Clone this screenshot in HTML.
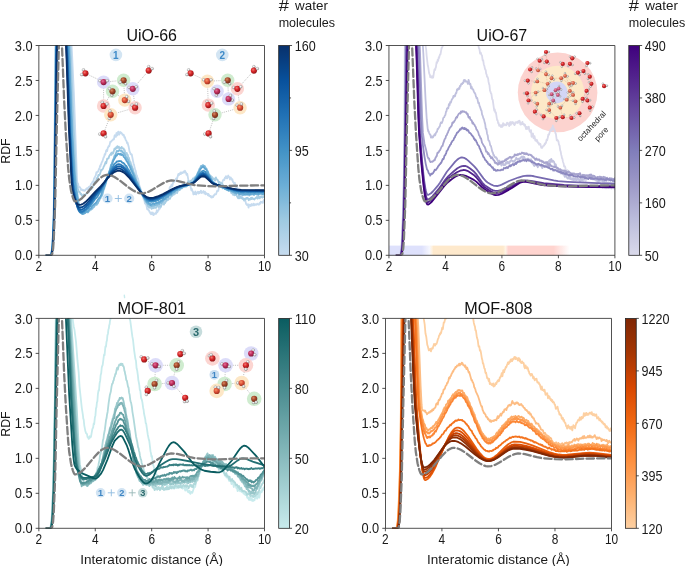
<!DOCTYPE html><html><head><meta charset="utf-8"><style>html,body{margin:0;padding:0;background:#fff;overflow:hidden;width:685px;height:566px;}svg{display:block;will-change:transform;}text{font-family:"Liberation Sans", sans-serif;}</style></head><body>
<svg width="685" height="566" viewBox="0 0 685 566">
<defs><radialGradient id="oR" cx="0.38" cy="0.35" r="0.7"><stop offset="0" stop-color="#f27a70"/><stop offset="0.45" stop-color="#d8262a"/><stop offset="1" stop-color="#8a1414"/></radialGradient><radialGradient id="oP" cx="0.38" cy="0.35" r="0.7"><stop offset="0" stop-color="#e3729a"/><stop offset="0.45" stop-color="#c2305e"/><stop offset="1" stop-color="#7a1a3a"/></radialGradient><radialGradient id="oG" cx="0.38" cy="0.35" r="0.7"><stop offset="0" stop-color="#d88a62"/><stop offset="0.45" stop-color="#a84a2c"/><stop offset="1" stop-color="#6a2a18"/></radialGradient><radialGradient id="oO" cx="0.38" cy="0.35" r="0.7"><stop offset="0" stop-color="#f7966a"/><stop offset="0.45" stop-color="#e0543a"/><stop offset="1" stop-color="#9a2c1c"/></radialGradient><radialGradient id="oI" cx="0.38" cy="0.35" r="0.7"><stop offset="0" stop-color="#f4a08a"/><stop offset="0.45" stop-color="#e26a50"/><stop offset="1" stop-color="#a8402c"/></radialGradient><radialGradient id="oC" cx="0.38" cy="0.35" r="0.7"><stop offset="0" stop-color="#e890b0"/><stop offset="0.45" stop-color="#d0587a"/><stop offset="1" stop-color="#8c3050"/></radialGradient><radialGradient id="hW" cx="0.38" cy="0.35" r="0.7"><stop offset="0" stop-color="#ffffff"/><stop offset="0.45" stop-color="#e4e4e4"/><stop offset="1" stop-color="#8c8c8c"/></radialGradient><clipPath id="c0"><rect x="38.85" y="45.50" width="225.65" height="209.80"/></clipPath><linearGradient id="g0" x1="0" y1="0" x2="0" y2="1"><stop offset="0.0000" stop-color="#08306b"/><stop offset="0.0333" stop-color="#083775"/><stop offset="0.0667" stop-color="#083d7f"/><stop offset="0.1000" stop-color="#084488"/><stop offset="0.1333" stop-color="#084a92"/><stop offset="0.1667" stop-color="#08519c"/><stop offset="0.2000" stop-color="#0d57a1"/><stop offset="0.2333" stop-color="#125ea6"/><stop offset="0.2667" stop-color="#1764ab"/><stop offset="0.3000" stop-color="#1c6bb0"/><stop offset="0.3333" stop-color="#2171b5"/><stop offset="0.3667" stop-color="#2878b8"/><stop offset="0.4000" stop-color="#2e7ebc"/><stop offset="0.4333" stop-color="#3585bf"/><stop offset="0.4667" stop-color="#3b8bc3"/><stop offset="0.5000" stop-color="#4292c6"/><stop offset="0.5333" stop-color="#4a98c9"/><stop offset="0.5667" stop-color="#529dcc"/><stop offset="0.6000" stop-color="#5ba3d0"/><stop offset="0.6333" stop-color="#63a8d3"/><stop offset="0.6667" stop-color="#6baed6"/><stop offset="0.7000" stop-color="#75b4d8"/><stop offset="0.7333" stop-color="#7fb9da"/><stop offset="0.7667" stop-color="#8abfdd"/><stop offset="0.8000" stop-color="#94c4df"/><stop offset="0.8333" stop-color="#9ecae1"/><stop offset="0.8667" stop-color="#a6cde4"/><stop offset="0.9000" stop-color="#aed1e7"/><stop offset="0.9333" stop-color="#b6d4e9"/><stop offset="0.9667" stop-color="#bed8ec"/><stop offset="1.0000" stop-color="#c6dbef"/></linearGradient><clipPath id="c1"><rect x="388.95" y="45.50" width="225.95" height="209.80"/></clipPath><linearGradient id="g1" x1="0" y1="0" x2="0" y2="1"><stop offset="0.0000" stop-color="#3f007d"/><stop offset="0.0333" stop-color="#430881"/><stop offset="0.0667" stop-color="#471084"/><stop offset="0.1000" stop-color="#4c1788"/><stop offset="0.1333" stop-color="#501f8b"/><stop offset="0.1667" stop-color="#54278f"/><stop offset="0.2000" stop-color="#582f93"/><stop offset="0.2333" stop-color="#5d3897"/><stop offset="0.2667" stop-color="#61409b"/><stop offset="0.3000" stop-color="#66499f"/><stop offset="0.3333" stop-color="#6a51a3"/><stop offset="0.3667" stop-color="#6e5aa8"/><stop offset="0.4000" stop-color="#7363ac"/><stop offset="0.4333" stop-color="#776bb1"/><stop offset="0.4667" stop-color="#7c74b5"/><stop offset="0.5000" stop-color="#807dba"/><stop offset="0.5333" stop-color="#8683bd"/><stop offset="0.5667" stop-color="#8c89c0"/><stop offset="0.6000" stop-color="#928ec2"/><stop offset="0.6333" stop-color="#9894c5"/><stop offset="0.6667" stop-color="#9e9ac8"/><stop offset="0.7000" stop-color="#a4a1cc"/><stop offset="0.7333" stop-color="#aaa8d0"/><stop offset="0.7667" stop-color="#b0afd4"/><stop offset="0.8000" stop-color="#b6b6d8"/><stop offset="0.8333" stop-color="#bcbddc"/><stop offset="0.8667" stop-color="#c2c3df"/><stop offset="0.9000" stop-color="#c8c9e2"/><stop offset="0.9333" stop-color="#cecee5"/><stop offset="0.9667" stop-color="#d4d4e8"/><stop offset="1.0000" stop-color="#dadaeb"/></linearGradient><clipPath id="c2"><rect x="38.85" y="318.40" width="225.65" height="209.90"/></clipPath><linearGradient id="g2" x1="0" y1="0" x2="0" y2="1"><stop offset="0.0000" stop-color="#0a5c60"/><stop offset="0.0333" stop-color="#106165"/><stop offset="0.0667" stop-color="#176669"/><stop offset="0.1000" stop-color="#1d6a6e"/><stop offset="0.1333" stop-color="#236f73"/><stop offset="0.1667" stop-color="#2a7478"/><stop offset="0.2000" stop-color="#30797c"/><stop offset="0.2333" stop-color="#367d81"/><stop offset="0.2667" stop-color="#3d8286"/><stop offset="0.3000" stop-color="#43878a"/><stop offset="0.3333" stop-color="#498c8f"/><stop offset="0.3667" stop-color="#509094"/><stop offset="0.4000" stop-color="#569598"/><stop offset="0.4333" stop-color="#5c9a9d"/><stop offset="0.4667" stop-color="#639fa2"/><stop offset="0.5000" stop-color="#69a4a6"/><stop offset="0.5333" stop-color="#6fa8ab"/><stop offset="0.5667" stop-color="#76adb0"/><stop offset="0.6000" stop-color="#7cb2b5"/><stop offset="0.6333" stop-color="#82b7b9"/><stop offset="0.6667" stop-color="#89bbbe"/><stop offset="0.7000" stop-color="#8fc0c3"/><stop offset="0.7333" stop-color="#95c5c7"/><stop offset="0.7667" stop-color="#9ccacc"/><stop offset="0.8000" stop-color="#a2ced1"/><stop offset="0.8333" stop-color="#a8d3d6"/><stop offset="0.8667" stop-color="#afd8da"/><stop offset="0.9000" stop-color="#b5dddf"/><stop offset="0.9333" stop-color="#bbe1e4"/><stop offset="0.9667" stop-color="#c2e6e8"/><stop offset="1.0000" stop-color="#c8ebed"/></linearGradient><clipPath id="c3"><rect x="385.40" y="318.40" width="226.10" height="209.90"/></clipPath><linearGradient id="g3" x1="0" y1="0" x2="0" y2="1"><stop offset="0.0000" stop-color="#7f2704"/><stop offset="0.0333" stop-color="#872a04"/><stop offset="0.0667" stop-color="#8f2d04"/><stop offset="0.1000" stop-color="#963003"/><stop offset="0.1333" stop-color="#9e3303"/><stop offset="0.1667" stop-color="#a63603"/><stop offset="0.2000" stop-color="#b03a03"/><stop offset="0.2333" stop-color="#ba3d02"/><stop offset="0.2667" stop-color="#c54102"/><stop offset="0.3000" stop-color="#cf4401"/><stop offset="0.3333" stop-color="#d94801"/><stop offset="0.3667" stop-color="#de4f05"/><stop offset="0.4000" stop-color="#e35508"/><stop offset="0.4333" stop-color="#e75c0c"/><stop offset="0.4667" stop-color="#ec620f"/><stop offset="0.5000" stop-color="#f16913"/><stop offset="0.5333" stop-color="#f3701b"/><stop offset="0.5667" stop-color="#f67723"/><stop offset="0.6000" stop-color="#f87f2c"/><stop offset="0.6333" stop-color="#fb8634"/><stop offset="0.6667" stop-color="#fd8d3c"/><stop offset="0.7000" stop-color="#fd9445"/><stop offset="0.7333" stop-color="#fd9a4f"/><stop offset="0.7667" stop-color="#fda158"/><stop offset="0.8000" stop-color="#fda762"/><stop offset="0.8333" stop-color="#fdae6b"/><stop offset="0.8667" stop-color="#fdb576"/><stop offset="0.9000" stop-color="#fdbc81"/><stop offset="0.9333" stop-color="#fdc28c"/><stop offset="0.9667" stop-color="#fdc997"/><stop offset="1.0000" stop-color="#fdd0a2"/></linearGradient></defs>
<path d="M85.40,73.30 L103.60,82.10" stroke="#9a9a9a" stroke-width="0.6" stroke-dasharray="1.1 1.1" fill="none"/><path d="M148.70,70.60 L132.80,88.80" stroke="#9a9a9a" stroke-width="0.6" stroke-dasharray="1.1 1.1" fill="none"/><path d="M103.60,82.10 L123.60,80.30 L132.80,88.80 L135.10,107.70 L110.70,114.80 L103.60,106.00 L103.60,82.10" stroke="#9a9a9a" stroke-width="0.6" stroke-dasharray="1.1 1.1" fill="none"/><path d="M112.50,91.30 L124.80,100.10 L123.60,80.30" stroke="#9a9a9a" stroke-width="0.6" stroke-dasharray="1.1 1.1" fill="none"/><path d="M110.70,114.80 L103.60,133.40" stroke="#9a9a9a" stroke-width="0.6" stroke-dasharray="1.1 1.1" fill="none"/><path d="M112.50,91.30 L103.60,106.00" stroke="#9a9a9a" stroke-width="0.6" stroke-dasharray="1.1 1.1" fill="none"/><circle cx="103.60" cy="82.10" r="6.7" fill="#dcdcf9"/><circle cx="123.60" cy="80.30" r="6.7" fill="#cfeccf"/><circle cx="112.50" cy="91.30" r="6.7" fill="#cfeccf"/><circle cx="132.80" cy="88.80" r="6.7" fill="#dcdcf9"/><circle cx="124.80" cy="100.10" r="6.7" fill="#fde7c6"/><circle cx="103.60" cy="106.00" r="6.7" fill="#fcd5d1"/><circle cx="135.10" cy="107.70" r="6.7" fill="#fcd5d1"/><circle cx="110.70" cy="114.80" r="6.7" fill="#fde7c6"/><circle cx="99.94" cy="80.77" r="1.45" fill="url(#hW)" stroke="#8a8a8a" stroke-width="0.35"/><circle cx="103.60" cy="82.10" r="3.10" fill="url(#oP)"/><circle cx="107.26" cy="80.77" r="1.45" fill="url(#hW)" stroke="#8a8a8a" stroke-width="0.35"/><circle cx="125.55" cy="83.68" r="1.45" fill="url(#hW)" stroke="#8a8a8a" stroke-width="0.35"/><circle cx="123.60" cy="80.30" r="3.10" fill="url(#oG)"/><circle cx="120.22" cy="82.25" r="1.45" fill="url(#hW)" stroke="#8a8a8a" stroke-width="0.35"/><circle cx="111.82" cy="95.14" r="1.45" fill="url(#hW)" stroke="#8a8a8a" stroke-width="0.35"/><circle cx="112.50" cy="91.30" r="3.10" fill="url(#oG)"/><circle cx="109.51" cy="88.79" r="1.45" fill="url(#hW)" stroke="#8a8a8a" stroke-width="0.35"/><circle cx="129.14" cy="87.47" r="1.45" fill="url(#hW)" stroke="#8a8a8a" stroke-width="0.35"/><circle cx="132.80" cy="88.80" r="3.10" fill="url(#oP)"/><circle cx="136.18" cy="86.85" r="1.45" fill="url(#hW)" stroke="#8a8a8a" stroke-width="0.35"/><circle cx="128.46" cy="101.43" r="1.45" fill="url(#hW)" stroke="#8a8a8a" stroke-width="0.35"/><circle cx="124.80" cy="100.10" r="3.10" fill="url(#oO)"/><circle cx="126.75" cy="96.72" r="1.45" fill="url(#hW)" stroke="#8a8a8a" stroke-width="0.35"/><circle cx="102.27" cy="102.34" r="1.45" fill="url(#hW)" stroke="#8a8a8a" stroke-width="0.35"/><circle cx="103.60" cy="106.00" r="3.10" fill="url(#oR)"/><circle cx="106.98" cy="104.05" r="1.45" fill="url(#hW)" stroke="#8a8a8a" stroke-width="0.35"/><circle cx="132.11" cy="105.19" r="1.45" fill="url(#hW)" stroke="#8a8a8a" stroke-width="0.35"/><circle cx="135.10" cy="107.70" r="3.10" fill="url(#oR)"/><circle cx="136.43" cy="104.04" r="1.45" fill="url(#hW)" stroke="#8a8a8a" stroke-width="0.35"/><circle cx="109.37" cy="118.46" r="1.45" fill="url(#hW)" stroke="#8a8a8a" stroke-width="0.35"/><circle cx="110.70" cy="114.80" r="3.10" fill="url(#oO)"/><circle cx="110.02" cy="110.96" r="1.45" fill="url(#hW)" stroke="#8a8a8a" stroke-width="0.35"/><circle cx="83.45" cy="69.92" r="1.45" fill="url(#hW)" stroke="#8a8a8a" stroke-width="0.35"/><circle cx="85.40" cy="73.30" r="3.10" fill="url(#oR)"/><circle cx="81.74" cy="74.63" r="1.45" fill="url(#hW)" stroke="#8a8a8a" stroke-width="0.35"/><circle cx="148.70" cy="66.70" r="1.45" fill="url(#hW)" stroke="#8a8a8a" stroke-width="0.35"/><circle cx="148.70" cy="70.60" r="3.10" fill="url(#oR)"/><circle cx="152.08" cy="68.65" r="1.45" fill="url(#hW)" stroke="#8a8a8a" stroke-width="0.35"/><circle cx="99.76" cy="134.08" r="1.45" fill="url(#hW)" stroke="#8a8a8a" stroke-width="0.35"/><circle cx="103.60" cy="133.40" r="3.10" fill="url(#oR)"/><circle cx="105.55" cy="136.78" r="1.45" fill="url(#hW)" stroke="#8a8a8a" stroke-width="0.35"/><circle cx="115.90" cy="54.90" r="6.30" fill="#d3e5f3"/><text x="115.90" y="58.50" font-family="Liberation Sans, sans-serif" font-weight="bold" font-size="10.0" text-anchor="middle" fill="#3d8ac8">1</text><path d="M190.60,73.30 L207.40,81.20" stroke="#9a9a9a" stroke-width="0.6" stroke-dasharray="1.1 1.1" fill="none"/><path d="M253.90,70.60 L237.40,88.80" stroke="#9a9a9a" stroke-width="0.6" stroke-dasharray="1.1 1.1" fill="none"/><path d="M207.40,81.20 L227.70,80.30 L237.40,88.80 L240.10,107.70 L215.00,114.80 L208.30,105.10 L207.40,81.20" stroke="#9a9a9a" stroke-width="0.6" stroke-dasharray="1.1 1.1" fill="none"/><path d="M217.10,91.30 L228.60,98.90 L227.70,80.30" stroke="#9a9a9a" stroke-width="0.6" stroke-dasharray="1.1 1.1" fill="none"/><path d="M215.00,114.80 L208.60,133.40" stroke="#9a9a9a" stroke-width="0.6" stroke-dasharray="1.1 1.1" fill="none"/><circle cx="207.40" cy="81.20" r="6.7" fill="#fde7c6"/><circle cx="227.70" cy="80.30" r="6.7" fill="#cfeccf"/><circle cx="237.40" cy="88.80" r="6.7" fill="#fcd5d1"/><circle cx="217.10" cy="91.30" r="6.7" fill="#dcdcf9"/><circle cx="228.60" cy="98.90" r="6.7" fill="#dcdcf9"/><circle cx="208.30" cy="105.10" r="6.7" fill="#fcd5d1"/><circle cx="240.10" cy="107.70" r="6.7" fill="#fde7c6"/><circle cx="215.00" cy="114.80" r="6.7" fill="#cfeccf"/><circle cx="203.74" cy="79.87" r="1.45" fill="url(#hW)" stroke="#8a8a8a" stroke-width="0.35"/><circle cx="207.40" cy="81.20" r="3.10" fill="url(#oO)"/><circle cx="211.06" cy="79.87" r="1.45" fill="url(#hW)" stroke="#8a8a8a" stroke-width="0.35"/><circle cx="229.65" cy="83.68" r="1.45" fill="url(#hW)" stroke="#8a8a8a" stroke-width="0.35"/><circle cx="227.70" cy="80.30" r="3.10" fill="url(#oG)"/><circle cx="224.32" cy="82.25" r="1.45" fill="url(#hW)" stroke="#8a8a8a" stroke-width="0.35"/><circle cx="233.74" cy="87.47" r="1.45" fill="url(#hW)" stroke="#8a8a8a" stroke-width="0.35"/><circle cx="237.40" cy="88.80" r="3.10" fill="url(#oR)"/><circle cx="240.78" cy="86.85" r="1.45" fill="url(#hW)" stroke="#8a8a8a" stroke-width="0.35"/><circle cx="216.42" cy="95.14" r="1.45" fill="url(#hW)" stroke="#8a8a8a" stroke-width="0.35"/><circle cx="217.10" cy="91.30" r="3.10" fill="url(#oP)"/><circle cx="214.11" cy="88.79" r="1.45" fill="url(#hW)" stroke="#8a8a8a" stroke-width="0.35"/><circle cx="232.26" cy="100.23" r="1.45" fill="url(#hW)" stroke="#8a8a8a" stroke-width="0.35"/><circle cx="228.60" cy="98.90" r="3.10" fill="url(#oP)"/><circle cx="230.55" cy="95.52" r="1.45" fill="url(#hW)" stroke="#8a8a8a" stroke-width="0.35"/><circle cx="206.97" cy="101.44" r="1.45" fill="url(#hW)" stroke="#8a8a8a" stroke-width="0.35"/><circle cx="208.30" cy="105.10" r="3.10" fill="url(#oR)"/><circle cx="211.68" cy="103.15" r="1.45" fill="url(#hW)" stroke="#8a8a8a" stroke-width="0.35"/><circle cx="237.11" cy="105.19" r="1.45" fill="url(#hW)" stroke="#8a8a8a" stroke-width="0.35"/><circle cx="240.10" cy="107.70" r="3.10" fill="url(#oO)"/><circle cx="241.43" cy="104.04" r="1.45" fill="url(#hW)" stroke="#8a8a8a" stroke-width="0.35"/><circle cx="213.67" cy="118.46" r="1.45" fill="url(#hW)" stroke="#8a8a8a" stroke-width="0.35"/><circle cx="215.00" cy="114.80" r="3.10" fill="url(#oG)"/><circle cx="214.32" cy="110.96" r="1.45" fill="url(#hW)" stroke="#8a8a8a" stroke-width="0.35"/><circle cx="188.65" cy="69.92" r="1.45" fill="url(#hW)" stroke="#8a8a8a" stroke-width="0.35"/><circle cx="190.60" cy="73.30" r="3.10" fill="url(#oR)"/><circle cx="186.94" cy="74.63" r="1.45" fill="url(#hW)" stroke="#8a8a8a" stroke-width="0.35"/><circle cx="253.90" cy="66.70" r="1.45" fill="url(#hW)" stroke="#8a8a8a" stroke-width="0.35"/><circle cx="253.90" cy="70.60" r="3.10" fill="url(#oR)"/><circle cx="257.28" cy="68.65" r="1.45" fill="url(#hW)" stroke="#8a8a8a" stroke-width="0.35"/><circle cx="204.76" cy="134.08" r="1.45" fill="url(#hW)" stroke="#8a8a8a" stroke-width="0.35"/><circle cx="208.60" cy="133.40" r="3.10" fill="url(#oR)"/><circle cx="210.55" cy="136.78" r="1.45" fill="url(#hW)" stroke="#8a8a8a" stroke-width="0.35"/><circle cx="222.30" cy="54.90" r="6.30" fill="#d3e5f3"/><text x="222.30" y="58.50" font-family="Liberation Sans, sans-serif" font-weight="bold" font-size="10.0" text-anchor="middle" fill="#3d8ac8">2</text><circle cx="107.50" cy="198.50" r="5.10" fill="#d2e4f3"/><text x="107.50" y="201.96" font-family="Liberation Sans, sans-serif" font-weight="bold" font-size="9.6" text-anchor="middle" fill="#3f86c4">1</text><path d="M114.80,198.50 h7.00 M118.30,195.00 v7.00" stroke="#8fbbe0" stroke-width="0.9"/><circle cx="129.20" cy="198.50" r="5.10" fill="#d2e4f3"/><text x="129.20" y="201.96" font-family="Liberation Sans, sans-serif" font-weight="bold" font-size="9.6" text-anchor="middle" fill="#3f86c4">2</text>
<g clip-path="url(#c0)" fill="none" stroke-linejoin="round" stroke-linecap="round"><path d="M46.47,255.30 49.85,255.28 50.75,254.90 50.98,254.42 51.54,251.64 52.11,247.11 52.90,233.75 53.57,214.85 54.02,188.06 55.38,50.63 55.94,35.71 56.96,17.53 69.82,17.53 71.96,52.00 73.88,93.34 77.04,179.58 77.38,182.64 78.06,183.75 78.62,187.02 79.52,186.98 79.97,187.49 80.20,187.40 80.76,189.75 81.22,189.28 81.67,189.27 82.23,190.28 82.68,190.33 83.13,189.88 83.70,190.68 84.15,190.39 84.71,190.88 85.05,190.01 85.39,190.29 85.84,189.13 86.41,189.11 87.08,188.12 87.65,189.42 87.76,189.35 88.32,187.45 88.66,187.24 89.00,186.63 89.45,187.87 89.56,187.96 89.90,187.54 91.14,183.88 91.71,183.39 92.61,181.81 93.06,182.59 94.08,178.29 94.19,178.05 94.53,178.27 94.64,178.09 95.09,176.52 95.77,175.55 96.45,172.18 96.90,172.70 97.35,171.91 97.80,171.90 98.14,171.04 98.37,171.22 98.93,168.79 99.38,169.39 99.94,166.02 100.28,166.76 100.40,166.63 100.73,164.48 100.85,164.32 101.07,164.64 101.19,164.53 101.64,162.55 102.43,161.24 103.56,157.46 104.12,156.82 104.68,154.27 105.02,154.70 105.25,154.60 106.15,150.58 106.60,149.94 107.05,151.14 107.17,151.06 107.73,147.91 108.07,147.56 108.52,146.28 109.08,146.46 109.31,146.13 110.32,141.76 110.55,141.59 111.11,141.73 112.02,140.50 113.03,139.70 113.48,138.94 113.94,139.38 114.61,135.40 114.72,135.32 115.06,136.13 115.51,136.21 115.85,136.84 116.42,133.01 116.53,132.95 116.64,133.34 116.98,135.23 117.09,135.46 117.21,135.36 117.88,132.31 118.22,131.60 119.12,134.73 119.35,134.49 119.80,132.55 120.14,131.93 120.59,132.99 120.70,133.06 121.04,132.53 121.72,133.22 122.40,134.47 122.74,134.20 123.19,135.29 123.75,134.83 124.43,137.56 124.77,136.93 124.88,137.06 125.67,140.04 126.12,140.38 126.57,141.39 127.02,143.12 127.14,143.23 127.47,142.58 127.59,142.69 128.60,146.39 129.62,151.71 129.73,152.02 130.07,152.22 130.63,154.25 131.08,153.95 131.76,154.52 133.68,164.08 134.13,165.01 134.58,167.57 135.26,169.92 135.71,170.82 136.39,174.84 136.95,175.61 137.52,177.87 137.97,178.36 138.87,182.30 139.32,185.38 140.11,187.10 141.13,191.16 141.58,192.03 142.03,191.74 142.14,191.99 143.61,199.16 143.72,199.48 144.06,199.14 144.17,199.26 144.96,203.57 145.41,203.83 146.32,204.99 147.22,209.36 147.67,208.45 147.90,208.55 148.46,210.15 148.57,210.31 148.91,210.22 149.02,210.44 149.36,211.70 149.81,211.82 150.38,213.57 150.72,213.46 151.17,214.30 151.73,212.54 152.18,214.16 152.86,212.55 153.42,215.20 153.65,215.05 154.21,213.80 154.44,213.67 154.78,213.88 155.34,213.11 156.02,213.87 156.81,210.28 157.37,212.27 157.82,210.89 157.94,210.71 158.28,210.80 158.39,210.66 158.95,208.42 159.40,207.96 159.85,208.77 160.42,207.42 160.87,206.94 161.32,204.87 161.66,205.20 161.77,205.08 162.11,203.94 162.79,203.75 163.69,201.26 163.80,201.12 164.14,201.26 164.25,201.09 164.93,197.66 165.83,199.54 165.95,199.48 166.40,197.46 167.19,195.51 167.41,195.44 167.75,195.77 167.87,195.57 168.66,192.74 169.78,187.17 170.01,187.09 170.23,187.66 170.46,187.77 171.59,184.62 172.04,186.07 172.15,186.24 172.27,186.13 173.17,182.54 173.51,182.53 174.30,181.45 175.09,181.18 176.21,178.37 176.89,178.74 177.00,178.64 178.25,174.15 178.36,174.01 178.47,174.12 178.92,175.26 179.37,173.71 179.71,174.25 179.82,174.18 180.39,172.61 180.50,172.52 180.61,172.71 180.95,174.08 181.40,172.58 181.52,172.52 181.74,172.88 182.08,172.66 182.42,173.03 182.76,172.41 182.98,172.58 183.21,172.49 183.77,171.39 184.23,172.68 185.01,170.73 185.58,172.23 185.92,172.35 186.48,174.81 187.05,173.76 187.27,173.98 188.96,183.11 189.19,183.56 189.64,183.59 190.20,184.47 191.22,189.93 191.33,190.18 191.45,190.11 191.90,189.03 192.35,191.01 192.46,191.23 192.80,191.32 192.91,191.72 193.36,194.47 193.93,192.57 194.60,194.01 194.72,194.17 194.83,194.07 195.39,191.52 195.62,191.90 196.18,194.51 196.75,193.08 197.43,192.97 197.99,191.70 198.55,193.56 199.01,191.98 199.46,193.19 199.91,192.00 200.36,192.61 200.92,190.59 201.71,193.10 202.16,192.82 202.50,192.23 202.84,192.11 203.41,191.06 204.42,193.64 204.98,191.72 205.66,194.32 206.11,193.04 206.90,193.95 207.24,193.79 207.81,195.22 208.26,193.82 208.82,194.53 209.27,196.25 209.61,195.60 210.06,196.35 210.40,195.95 210.96,197.26 211.42,196.36 211.87,197.58 212.43,196.35 213.11,197.16 213.79,195.34 214.01,195.19 214.24,195.40 214.69,194.28 215.36,194.47 215.70,194.25 216.04,194.33 217.17,190.75 217.73,191.10 218.30,190.81 218.86,187.01 218.98,186.81 219.43,187.00 219.65,186.76 220.55,184.49 220.89,184.41 221.34,183.22 221.80,183.81 221.91,183.63 223.04,180.09 223.38,179.99 223.83,179.35 224.28,179.93 224.84,177.70 225.07,177.49 225.41,178.04 225.97,176.19 226.42,178.20 226.53,178.26 226.87,177.53 227.32,178.41 227.78,176.45 228.23,175.54 228.90,176.86 229.36,176.84 229.92,179.50 230.37,177.79 230.71,177.47 231.16,178.50 231.50,178.51 231.95,179.94 232.40,179.17 232.85,181.79 233.19,181.82 233.42,182.44 233.76,182.67 234.09,183.66 234.54,183.41 234.88,182.81 235.45,186.06 235.67,185.92 235.79,186.09 236.12,187.13 236.46,186.58 236.69,186.61 237.93,190.75 238.16,190.84 238.61,189.72 238.72,189.61 238.83,189.81 239.28,193.09 239.40,193.32 239.73,192.79 239.85,192.86 240.41,194.04 240.86,194.15 241.65,197.36 242.10,197.57 242.44,197.25 242.89,198.12 243.23,198.23 244.14,200.81 244.36,200.90 244.70,200.57 245.04,201.00 245.38,200.88 246.05,203.79 246.17,204.04 246.50,204.13 246.96,205.04 247.18,205.02 247.97,204.16 248.54,207.69 249.21,204.62 249.78,205.43 250.23,204.61 250.68,206.05 251.36,205.27 251.81,204.01 252.26,205.44 252.71,204.71 253.16,205.18 253.61,203.68 254.18,205.41 254.85,204.08 255.08,204.09 255.76,204.90 256.43,204.91 257.11,203.65 257.45,204.27 257.79,204.09 258.92,204.79 259.59,203.01 260.04,203.69 260.16,203.77 260.27,203.59 260.72,201.71 261.17,202.46 261.51,202.36 261.85,201.92 262.30,202.72 262.86,202.94 263.54,200.36 264.22,199.66 264.44,200.03" stroke="#c6dbef" stroke-width="1.80"/><path d="M46.47,255.30 49.96,255.27 50.87,254.89 51.09,254.40 51.66,251.59 52.22,247.01 53.01,233.51 53.69,214.62 54.14,188.46 55.60,48.60 57.07,17.53 68.81,17.53 71.06,58.05 73.54,122.64 76.25,180.12 76.93,185.77 78.96,191.96 79.07,192.06 79.41,191.73 79.52,191.82 80.09,192.81 80.54,194.35 81.10,193.78 81.33,193.97 82.01,196.00 82.57,195.67 82.91,196.12 83.13,196.14 83.70,194.52 84.04,194.80 84.37,194.66 84.71,195.33 84.94,195.35 85.39,194.52 85.95,194.24 86.41,193.32 86.86,193.27 88.10,191.74 88.66,192.19 89.45,190.08 89.90,190.14 90.47,189.22 91.03,189.59 91.60,188.68 92.27,186.61 92.84,187.33 93.51,184.85 94.53,183.19 95.09,181.65 95.77,182.05 96.00,181.88 96.45,179.33 97.12,177.74 97.46,178.27 97.58,178.34 97.69,178.11 98.37,174.92 98.59,174.90 99.04,175.34 99.72,174.66 100.62,171.94 101.07,169.87 101.30,169.84 101.64,170.54 102.09,169.31 102.54,169.33 103.22,168.13 103.67,166.46 104.34,165.65 105.59,162.05 106.15,163.40 106.26,163.26 107.17,158.68 107.62,158.81 108.07,158.26 108.63,158.36 109.20,155.96 109.53,155.78 109.87,154.92 110.55,154.31 110.89,153.38 111.00,153.31 111.45,154.88 112.02,152.40 112.24,152.42 112.69,153.69 112.92,153.72 113.37,152.67 114.50,148.58 114.61,148.51 115.06,149.51 115.51,149.30 116.19,147.23 116.42,147.10 116.76,147.95 117.32,146.20 117.88,147.75 118.11,147.70 118.79,146.58 119.35,148.62 119.80,147.47 120.14,147.97 120.59,148.10 120.93,148.57 121.16,148.60 121.72,146.90 122.17,148.38 122.62,148.11 123.19,148.66 123.64,148.47 124.20,150.61 124.54,149.97 124.65,150.03 125.67,154.52 126.35,153.74 126.68,152.89 126.80,153.07 127.25,155.02 127.70,154.77 127.81,155.03 128.26,157.56 128.38,157.76 128.72,157.34 128.83,157.55 129.96,162.02 130.18,162.23 130.52,162.04 130.97,164.09 131.31,164.37 131.87,166.60 132.44,168.08 132.89,168.60 134.13,174.24 134.24,174.34 134.58,173.84 134.69,173.99 135.03,175.48 135.94,176.88 136.95,181.90 137.06,182.00 137.40,181.80 137.63,182.18 138.64,185.86 139.77,188.07 140.90,192.00 141.13,192.31 141.46,192.14 141.69,192.36 142.25,195.50 142.59,195.02 142.93,195.45 143.38,195.51 143.95,197.84 144.51,198.95 144.96,201.34 145.41,201.51 145.98,202.45 146.43,201.93 147.90,206.23 148.35,206.03 148.69,207.01 148.80,207.10 149.25,206.78 149.81,207.73 150.26,207.39 150.60,207.41 150.94,206.94 151.73,208.80 152.30,208.05 152.63,208.09 153.20,206.75 153.65,208.23 153.76,208.27 154.33,206.67 154.89,207.54 155.57,207.97 155.91,207.93 156.58,205.87 157.03,206.80 157.49,205.84 157.82,206.09 158.16,205.42 158.73,207.06 159.40,205.46 159.74,206.17 160.31,205.57 160.87,206.78 161.55,203.84 161.66,203.76 162.00,204.03 162.45,203.19 162.79,203.06 163.13,202.60 163.92,204.63 164.48,202.73 165.04,203.15 165.83,201.49 166.17,201.30 166.62,199.47 167.08,200.10 167.53,200.39 168.09,199.44 168.43,199.70 168.99,198.42 169.90,198.77 170.91,196.64 171.36,196.34 171.70,195.31 171.81,195.20 172.27,195.71 172.83,194.99 173.51,194.57 173.85,194.67 174.41,193.22 174.97,193.89 175.88,192.13 176.44,192.92 176.78,192.58 177.12,192.95 177.23,192.88 178.02,189.72 178.58,190.58 179.49,188.84 179.94,189.96 180.28,188.99 180.73,188.73 181.07,187.66 181.52,188.55 181.86,188.16 182.19,188.24 182.65,187.43 183.32,186.73 184.34,184.79 184.68,184.96 184.79,184.85 185.13,183.88 185.58,185.48 186.03,184.62 186.37,184.55 186.71,184.15 187.27,184.86 188.29,181.07 188.51,181.29 188.96,182.86 189.41,181.90 190.66,180.66 191.33,182.02 191.78,180.31 192.57,179.31 192.91,178.51 193.25,178.85 193.93,178.76 194.49,177.26 194.94,177.53 195.73,178.48 196.18,176.95 196.41,176.82 196.97,178.70 197.54,175.55 198.10,176.22 198.78,176.31 199.91,173.90 200.58,175.29 201.49,174.76 201.94,176.04 202.95,174.56 203.52,176.53 203.86,176.09 204.42,174.28 204.98,175.13 205.32,174.74 205.77,175.47 206.34,175.01 206.79,175.72 207.35,174.55 207.92,176.57 208.60,177.65 208.82,177.51 209.27,176.32 209.61,176.65 209.95,176.62 210.40,177.25 210.85,175.81 211.53,177.73 211.75,177.84 212.21,177.12 212.77,179.04 213.22,179.40 213.79,178.48 214.01,178.43 214.57,179.98 215.03,180.64 215.36,180.08 215.93,177.46 216.38,179.24 216.72,179.04 217.17,179.92 217.73,179.96 218.86,183.27 219.54,181.92 220.33,182.59 221.12,183.83 221.57,183.11 221.80,183.12 222.25,183.64 222.70,184.75 222.92,184.82 223.49,186.68 224.05,186.05 224.62,187.57 224.95,186.64 225.18,186.55 226.08,188.40 226.53,187.58 227.55,190.04 227.66,190.11 228.00,189.73 228.45,190.93 229.02,189.66 229.36,190.32 229.92,190.03 230.82,191.32 231.39,193.33 232.51,191.28 233.08,194.79 233.19,194.85 233.64,193.34 234.32,194.29 234.66,195.35 235.22,193.98 235.67,195.09 236.12,194.21 236.35,194.13 237.14,196.76 237.48,196.67 237.93,197.95 238.27,198.30 238.95,195.39 239.73,198.37 240.52,196.71 240.86,197.48 241.20,197.63 241.54,198.16 241.99,197.70 242.44,198.89 242.89,198.67 243.12,198.75 243.57,199.63 243.80,199.73 244.36,198.79 244.92,199.48 245.38,198.82 245.71,199.47 246.39,197.87 246.96,198.67 247.52,197.73 248.08,198.40 248.76,200.25 249.33,199.00 249.66,198.99 250.11,199.59 250.34,199.50 250.90,197.92 251.58,198.98 252.03,197.68 252.37,198.22 252.82,198.29 253.16,199.14 253.84,198.77 254.40,199.57 255.53,197.94 256.32,197.47 256.66,197.01 257.22,198.50 257.79,198.52 258.46,195.70 259.03,197.79 259.48,197.92 259.82,198.28 260.38,196.67 260.72,196.81 261.17,196.18 261.51,196.99 262.30,197.69 262.86,197.45 263.43,196.03 263.99,197.01 264.44,196.48" stroke="#a8cee4" stroke-width="1.80"/><path d="M46.47,255.30 50.08,255.27 50.98,254.89 51.20,254.38 51.77,251.55 52.33,246.92 53.12,233.27 53.80,214.38 54.25,188.83 55.83,47.13 57.18,17.53 67.79,17.53 69.82,56.71 72.30,126.39 73.43,149.25 75.01,174.59 76.48,189.05 77.38,193.70 78.62,202.73 78.85,203.62 79.30,204.26 79.97,208.43 80.43,208.97 82.12,213.92 82.57,213.39 82.91,213.56 83.36,213.33 83.81,213.67 84.71,212.68 85.16,213.03 85.73,211.79 86.18,212.01 86.52,211.67 87.08,212.34 87.65,211.85 88.10,212.37 88.89,210.76 89.34,210.84 89.56,210.67 90.02,209.58 90.47,209.06 90.69,209.02 91.03,209.66 91.14,209.60 91.60,208.50 91.82,208.42 92.39,208.80 93.06,207.58 93.74,206.93 94.30,206.83 94.87,205.16 95.21,205.01 95.77,204.11 96.22,203.94 96.67,204.85 97.35,203.46 97.80,203.54 98.37,201.86 99.27,200.44 99.72,198.93 100.40,198.38 100.96,196.68 101.41,196.55 102.65,193.76 103.56,189.98 104.23,188.59 104.80,186.30 105.25,185.36 106.15,182.30 106.94,178.54 107.96,176.67 108.75,172.86 109.76,170.57 110.89,165.18 111.11,164.60 111.68,164.27 112.81,160.18 113.37,159.39 114.50,155.71 114.95,155.47 115.74,154.02 116.87,150.82 117.32,151.35 117.77,151.26 118.11,151.42 119.01,150.17 119.69,150.22 120.37,150.82 121.72,150.65 122.28,152.11 122.40,152.21 122.85,151.99 123.41,153.01 123.86,152.97 124.31,153.47 124.99,155.36 125.56,155.73 126.12,157.72 126.80,157.48 127.47,159.39 127.93,159.46 128.04,159.69 128.60,162.17 130.07,165.51 130.29,165.75 130.63,165.66 131.31,167.02 131.87,168.96 132.33,169.67 132.78,171.73 133.23,171.81 134.02,174.57 134.58,175.34 135.03,177.55 136.39,181.21 136.61,181.62 137.06,181.80 137.74,184.01 138.31,184.97 139.10,187.00 139.55,188.78 139.66,188.94 140.11,188.63 141.13,192.12 141.69,192.70 142.25,194.63 143.95,197.48 144.85,199.67 145.07,199.89 145.53,199.38 145.75,199.51 146.65,202.75 147.11,202.49 148.01,204.36 148.69,203.29 149.36,203.94 149.93,205.30 150.38,205.27 151.17,206.06 151.73,205.33 152.18,205.98 152.52,205.49 152.86,205.60 153.20,205.34 153.54,205.48 153.88,205.24 154.21,205.44 155.00,204.88 155.68,205.29 156.36,203.58 157.37,204.83 157.82,204.01 158.39,203.51 159.29,204.15 160.08,202.34 161.21,203.12 161.77,201.75 162.00,201.59 162.34,201.87 163.01,200.44 163.47,200.90 163.58,200.81 164.14,199.41 165.38,198.63 165.72,199.40 165.95,199.51 166.51,198.95 167.19,197.40 167.64,197.05 168.20,197.40 168.77,196.01 169.44,195.64 169.90,194.86 170.35,195.14 170.80,194.46 171.25,195.00 171.81,193.39 172.04,193.43 172.38,193.91 172.83,193.27 173.39,192.90 173.85,192.17 174.41,192.36 174.86,191.54 175.20,191.29 175.76,189.83 176.33,190.10 176.78,190.64 177.23,189.91 177.68,189.94 178.25,188.77 178.58,189.09 179.04,188.83 179.49,189.59 180.28,188.16 180.73,188.37 181.52,187.71 181.86,187.90 182.08,187.78 183.10,185.88 183.77,186.83 184.45,186.72 185.35,185.98 185.92,186.60 186.48,185.98 186.93,186.30 187.61,185.43 188.85,184.77 189.41,183.77 189.64,183.84 190.09,184.86 190.66,183.81 190.99,183.92 191.11,183.77 191.56,182.51 191.78,182.55 192.12,183.14 192.69,181.95 193.48,182.23 194.38,180.30 194.83,180.02 195.51,177.93 195.96,177.55 196.30,175.89 196.41,175.63 196.75,175.74 196.86,175.60 197.54,173.18 197.88,173.18 197.99,173.00 198.44,171.28 198.89,170.79 199.34,168.98 200.47,167.58 200.92,166.05 201.15,165.86 201.49,166.40 201.71,166.39 202.16,165.64 202.62,165.43 202.95,164.95 203.41,165.52 203.74,165.58 204.08,165.99 204.53,165.88 204.98,166.41 205.66,168.38 206.45,168.48 207.02,170.31 207.92,171.30 208.93,174.64 209.05,174.85 209.50,174.63 209.61,174.75 210.63,178.27 211.30,178.71 211.75,180.07 212.21,180.57 213.00,182.25 214.01,183.00 215.14,184.28 215.59,184.07 216.15,184.77 216.49,184.28 216.94,184.87 217.40,184.82 217.96,185.80 218.41,184.69 218.98,185.98 219.54,186.17 220.10,185.75 220.78,186.94 221.23,186.73 222.02,187.12 222.59,188.30 223.15,187.42 223.83,187.60 224.17,187.34 224.84,188.82 225.52,189.16 225.86,189.10 226.31,189.76 226.76,189.63 227.32,190.18 228.11,190.12 228.45,190.43 228.90,190.40 229.69,190.82 230.48,190.18 231.39,191.74 232.51,191.52 233.19,192.55 234.32,192.20 235.00,193.53 235.67,193.14 236.35,193.95 236.69,193.33 237.14,193.25 237.59,192.60 237.93,193.18 238.49,193.44 239.06,194.74 239.62,193.62 240.07,194.34 240.52,193.95 240.98,194.46 241.31,194.20 241.77,194.21 242.10,193.79 242.67,195.24 243.35,195.08 243.91,193.97 244.36,194.39 244.70,194.42 245.04,195.13 245.60,194.10 246.96,194.95 247.97,194.17 248.42,193.54 248.65,193.72 249.21,195.50 249.55,194.77 250.11,194.50 250.57,193.85 251.13,194.66 252.15,193.77 252.60,194.33 253.61,194.55 254.06,195.10 254.63,194.25 255.19,194.22 255.64,193.85 256.32,193.87 257.22,194.74 257.79,193.82 258.58,194.51 259.70,193.97 260.16,193.48 261.17,194.02 261.74,193.87 262.19,194.48 262.75,193.39 263.65,193.63 264.11,194.20 264.44,193.91" stroke="#84bcdc" stroke-width="1.80"/><path d="M46.47,255.30 50.19,255.27 50.98,254.97 51.32,254.35 52.33,248.06 53.12,235.54 53.91,214.15 54.25,196.66 55.94,51.12 57.30,17.53 67.34,17.53 69.26,56.74 71.85,129.82 74.11,170.75 75.01,181.90 75.91,189.28 78.17,202.69 79.07,207.02 79.64,208.68 80.20,211.36 80.88,212.81 81.33,212.72 81.78,213.48 82.23,213.23 82.91,214.06 83.59,212.52 84.49,213.32 86.29,211.51 86.74,211.58 87.08,211.37 87.53,211.65 88.89,209.70 89.45,209.43 89.90,208.58 90.35,208.71 91.48,207.66 92.39,205.73 93.51,205.07 94.64,203.62 95.32,203.66 95.77,202.88 96.33,202.53 97.91,199.61 98.82,198.70 99.15,197.78 99.27,197.65 99.72,197.82 101.19,194.86 102.09,191.48 102.65,190.63 104.91,185.03 107.17,177.71 108.75,173.64 109.31,171.45 109.65,170.73 109.99,170.56 111.45,165.30 111.90,164.60 113.26,160.78 115.29,157.35 115.97,155.37 116.19,155.33 116.64,155.71 117.77,153.94 118.11,153.74 118.90,154.03 119.24,153.86 119.91,154.49 120.70,153.66 121.27,155.09 121.72,154.48 122.17,154.91 122.74,154.49 123.64,156.65 124.09,157.23 124.65,157.56 125.33,158.93 125.78,159.28 126.46,160.89 127.59,162.32 128.60,164.65 129.17,165.39 130.52,168.29 131.08,170.13 131.76,170.64 132.21,172.28 132.66,172.72 134.02,176.55 135.60,179.78 136.27,182.51 136.39,182.68 136.84,182.66 137.52,183.85 138.42,186.72 139.21,187.23 140.11,190.61 140.56,191.26 141.01,192.76 141.24,193.02 141.80,193.04 141.92,193.20 142.82,195.85 146.65,201.75 146.88,201.89 147.44,201.69 147.78,201.89 148.57,203.59 149.47,203.70 149.93,203.46 150.60,205.07 150.94,204.55 151.62,204.54 152.41,203.63 152.97,203.93 153.88,203.95 154.33,204.23 155.12,203.23 155.91,203.06 156.47,203.28 157.49,202.60 157.94,202.86 158.73,201.91 159.18,202.52 159.40,202.55 159.97,201.81 160.42,201.52 160.87,200.78 161.32,200.91 162.22,200.15 162.68,200.43 163.58,198.74 164.14,198.84 164.59,199.17 164.93,198.39 165.38,198.04 165.95,197.03 166.51,197.26 166.74,197.16 167.30,196.10 167.87,196.58 168.77,194.77 169.56,194.69 170.23,193.89 171.14,194.04 172.15,192.17 172.38,192.09 172.72,192.29 173.17,191.36 173.62,191.65 174.30,191.72 175.54,189.75 175.99,190.10 176.44,189.70 177.00,189.76 177.46,188.87 178.02,188.78 178.58,188.03 179.94,187.98 180.50,187.61 181.07,187.92 181.86,186.11 182.31,186.25 182.76,186.13 183.32,186.43 183.89,186.01 184.34,186.34 184.68,186.09 185.92,186.11 187.16,184.58 187.61,185.08 188.06,184.66 188.51,184.97 188.96,184.60 189.41,184.86 189.98,183.95 190.54,183.91 191.11,182.87 191.78,183.49 192.91,182.44 193.48,181.17 193.93,181.17 194.15,180.97 195.73,177.62 196.18,177.34 196.64,176.65 198.44,172.45 199.46,171.16 200.36,169.17 201.60,167.88 202.16,166.90 202.62,167.08 203.29,166.46 205.10,168.98 205.66,168.92 206.34,169.82 207.13,171.64 207.58,172.11 208.37,173.72 209.16,176.37 209.38,176.57 209.72,176.46 209.95,176.71 210.63,178.63 211.19,179.26 211.64,180.44 212.09,180.85 212.77,182.55 213.11,182.37 214.01,182.54 216.49,184.81 216.83,184.66 217.28,184.95 217.73,184.85 218.41,185.23 218.86,185.82 219.43,185.65 219.88,186.19 220.22,186.16 220.67,186.97 220.89,186.94 221.34,186.22 221.80,186.91 222.59,187.35 223.49,186.92 224.05,188.24 224.50,187.98 225.07,188.95 225.97,189.07 226.53,188.60 227.55,189.83 228.00,189.90 228.45,190.34 229.69,189.36 230.14,189.68 230.71,189.48 231.61,191.15 232.06,190.96 232.51,191.43 232.85,191.22 233.42,191.93 233.76,191.85 234.21,191.21 234.54,191.23 235.33,192.71 235.79,192.13 236.58,192.87 237.59,191.77 238.83,193.01 239.51,194.04 240.30,193.72 240.86,193.81 241.54,193.37 242.10,193.56 242.56,193.06 243.35,193.89 244.14,193.79 244.70,194.10 245.71,193.33 246.39,194.06 246.62,194.05 247.07,193.51 247.63,194.18 248.31,193.31 248.99,194.19 249.33,193.82 249.66,193.95 250.00,193.83 250.57,194.40 251.69,192.88 252.37,193.70 252.82,193.61 253.39,194.05 253.95,193.01 254.29,192.90 254.85,193.78 255.64,193.33 256.09,193.64 256.43,193.57 257.00,193.02 257.45,193.85 257.90,193.55 258.69,194.03 259.25,193.13 259.82,193.42 260.16,193.19 260.61,193.29 261.96,192.92 262.64,194.01 263.54,193.12 264.11,193.95 264.44,193.75" stroke="#61a7d2" stroke-width="1.80"/><path d="M46.47,255.30 50.30,255.27 51.09,254.97 51.43,254.33 52.45,247.98 53.24,235.32 54.02,213.92 54.36,196.77 56.17,49.39 57.41,17.53 66.21,17.53 66.32,17.87 68.13,58.07 70.61,129.13 72.08,158.59 73.21,177.27 74.22,187.87 76.93,203.23 78.85,210.13 79.41,210.71 80.20,212.52 82.01,212.78 82.80,212.20 84.15,211.71 85.28,210.46 86.74,209.69 87.87,208.41 88.32,208.25 89.68,206.55 90.24,206.26 90.69,205.16 91.48,204.37 91.93,203.36 93.63,201.11 94.19,200.66 95.21,198.76 96.22,198.00 97.58,196.42 98.70,194.22 99.38,193.45 100.06,192.00 100.73,191.35 101.19,190.27 102.09,188.91 103.56,185.40 104.23,184.29 104.80,182.47 105.36,181.79 106.26,179.99 109.99,171.62 111.34,168.85 112.13,167.79 112.58,166.50 113.26,166.07 114.27,163.86 115.97,162.62 116.76,161.57 117.21,161.30 117.77,161.48 118.22,161.11 119.12,161.26 119.80,160.99 120.14,161.19 120.70,161.03 121.49,161.54 122.06,162.46 122.85,162.86 123.53,162.86 124.09,163.78 124.77,164.37 125.56,165.92 125.78,166.03 126.12,165.84 126.35,166.00 127.93,169.06 128.72,169.88 129.73,171.85 130.29,172.51 130.97,174.24 131.54,174.85 133.00,177.84 134.58,180.28 135.82,183.29 138.31,187.47 138.76,188.59 139.32,189.13 141.01,192.47 141.69,192.91 143.50,196.31 144.06,196.82 144.96,198.23 146.43,199.46 147.11,200.57 147.67,200.74 148.23,200.54 148.80,201.38 149.59,201.19 150.04,201.64 150.49,201.50 151.17,201.80 152.52,201.34 153.20,201.72 153.88,201.23 154.44,201.17 154.78,200.82 155.34,201.25 156.02,200.54 156.36,200.80 156.58,200.76 157.03,200.08 157.71,199.87 158.28,200.11 158.73,199.67 159.52,199.58 160.42,198.38 160.98,198.59 161.43,198.13 161.89,198.35 162.45,197.72 163.24,197.66 164.03,196.34 164.59,196.49 165.04,195.80 166.17,195.20 167.19,194.23 167.75,194.28 168.43,193.42 169.33,193.33 170.23,192.58 170.80,192.77 171.48,191.44 172.04,191.20 172.60,190.63 173.17,190.48 173.62,190.04 174.30,189.91 174.86,188.89 175.76,189.46 176.67,188.60 177.34,188.56 178.02,187.64 178.70,187.46 179.15,187.10 180.28,187.17 181.18,186.76 181.63,186.95 182.87,185.73 183.44,186.14 183.89,185.74 184.45,185.89 185.69,185.34 186.26,184.84 187.05,184.93 187.61,184.44 188.17,184.92 188.63,184.29 189.30,184.33 189.87,183.83 190.20,183.90 190.66,183.68 191.11,183.22 191.56,183.47 193.03,182.90 194.04,181.61 194.60,181.19 195.06,180.24 198.44,175.55 199.91,172.96 200.70,172.58 201.15,171.93 202.16,171.07 202.84,171.02 203.29,170.67 204.08,170.99 204.53,171.54 205.32,171.92 207.35,174.50 207.92,175.68 208.48,176.03 209.27,178.03 210.06,178.87 212.43,182.51 213.56,182.72 214.46,183.60 215.14,183.68 215.59,184.21 216.61,184.63 217.17,185.20 217.96,184.92 219.54,186.19 221.91,186.33 222.81,186.74 223.38,187.30 223.83,187.25 224.28,187.57 224.95,187.28 225.74,187.96 226.65,188.10 227.21,188.62 227.89,188.42 228.90,189.24 229.36,188.96 230.03,188.96 230.60,189.58 231.27,189.82 232.06,189.75 232.63,190.30 233.42,190.46 233.87,190.86 234.77,190.69 235.56,191.43 236.35,191.00 237.37,191.22 237.82,191.57 238.27,191.43 239.17,191.81 239.73,191.63 240.30,192.05 241.20,191.99 241.77,192.37 242.56,192.02 243.35,192.43 244.36,191.78 244.70,192.01 245.15,191.88 247.07,192.18 247.41,192.02 247.97,192.27 248.65,192.10 249.33,192.19 249.89,191.82 250.57,192.33 251.58,191.98 252.37,192.14 252.82,191.69 254.63,192.61 256.09,191.75 257.22,192.18 257.90,191.83 258.46,192.34 259.03,191.99 259.59,192.12 260.16,191.88 261.17,191.95 261.74,192.27 262.30,191.47 262.86,192.18 263.99,192.33 264.44,191.95" stroke="#4292c6" stroke-width="1.80"/><path d="M46.47,255.30 50.41,255.27 51.20,254.96 51.54,254.31 52.56,247.90 53.35,235.09 54.14,213.70 54.48,196.88 56.28,53.80 57.52,17.53 65.76,17.53 67.45,55.34 70.05,129.79 72.64,178.70 73.43,187.50 75.12,197.47 76.59,204.23 77.72,208.15 78.62,210.47 79.52,211.75 80.09,212.00 81.22,211.66 81.67,211.96 82.12,211.86 82.91,210.95 83.70,210.89 84.83,209.60 85.62,209.47 87.08,207.63 87.87,207.04 88.44,205.93 89.68,204.49 93.51,198.95 94.30,198.09 96.22,195.07 97.58,193.70 100.62,189.53 102.20,186.65 103.10,185.54 105.81,180.67 106.49,178.91 107.39,177.70 108.97,174.59 109.65,173.81 111.23,170.99 111.90,170.28 112.92,168.52 114.05,167.12 114.72,166.72 115.85,165.29 116.42,165.24 117.09,164.49 117.66,164.52 118.34,164.23 118.79,164.33 119.24,164.18 119.69,164.53 120.25,164.45 121.04,164.80 121.49,165.27 122.74,165.81 124.09,167.32 124.65,167.52 125.78,168.64 129.84,174.07 133.45,180.04 134.13,181.68 134.92,182.52 140.90,192.47 142.48,194.36 143.04,195.41 143.61,195.81 144.17,196.82 144.74,196.84 145.86,198.35 146.43,198.46 147.22,199.28 148.35,199.56 149.93,200.45 150.49,200.23 151.05,200.47 151.62,200.11 152.18,200.24 152.86,199.94 153.42,200.11 154.10,199.72 154.78,199.81 156.36,199.10 157.15,199.18 158.16,198.53 158.84,198.45 159.52,197.88 160.08,197.93 160.64,197.33 161.66,196.69 164.14,195.55 164.59,195.10 165.38,194.91 166.96,193.52 168.66,192.73 169.11,192.31 169.44,192.28 170.01,191.74 170.69,191.66 172.83,189.83 173.51,189.82 175.42,188.49 175.99,188.47 176.44,188.04 177.00,187.83 177.68,187.79 178.25,187.24 179.15,187.16 180.16,186.37 181.18,186.05 181.74,186.32 182.76,185.76 183.32,185.84 183.77,185.43 184.68,185.64 186.71,184.80 187.84,184.80 189.53,184.09 191.67,183.73 192.35,182.92 192.91,182.94 193.59,182.52 194.15,181.76 194.83,181.24 200.13,174.15 201.37,173.60 202.28,172.83 202.84,173.12 203.63,172.91 204.08,173.34 204.76,173.32 205.10,173.58 207.24,176.03 207.81,176.39 208.82,178.18 209.38,178.67 210.29,180.20 211.75,182.06 212.77,183.02 215.03,184.30 215.82,184.29 216.83,184.93 217.40,184.91 217.85,185.42 218.30,185.37 219.31,185.77 219.76,185.67 220.44,185.87 220.89,186.25 221.34,186.25 221.80,186.53 222.25,186.50 222.81,186.83 224.73,187.21 226.31,188.04 226.99,187.88 227.66,188.37 228.23,188.28 228.79,188.64 229.36,188.54 230.26,188.99 231.72,189.38 232.40,189.28 233.98,190.14 234.88,190.29 235.45,190.17 236.24,190.55 238.38,191.00 239.40,190.93 240.75,191.39 241.31,191.21 242.44,191.45 243.91,191.06 244.70,191.45 245.38,191.06 246.05,191.41 246.62,191.21 247.18,191.36 247.75,191.13 248.42,191.51 249.21,191.22 251.02,191.67 251.58,191.18 252.26,191.13 252.94,191.45 253.73,191.05 254.85,191.49 256.21,191.24 256.77,191.48 258.01,191.12 258.58,191.31 259.25,191.20 260.38,191.62 261.28,191.26 262.75,191.53 264.44,191.23" stroke="#2979b9" stroke-width="1.80"/><path d="M46.47,255.30 50.41,255.29 51.32,254.96 51.54,254.62 52.56,248.92 53.35,237.26 54.14,217.26 54.59,196.98 56.51,51.81 57.75,17.53 65.42,17.53 65.53,18.17 67.23,58.27 69.59,127.40 71.29,162.46 72.30,179.58 73.21,189.10 75.01,198.29 76.36,203.59 77.27,206.33 77.94,207.90 79.18,209.76 81.44,209.73 82.34,209.16 83.25,208.95 86.52,206.15 87.65,204.66 88.32,204.17 95.43,194.75 96.22,194.04 97.58,192.09 100.62,188.64 101.41,187.18 101.98,186.65 104.57,182.55 105.36,181.00 106.38,179.67 108.75,175.57 110.66,172.81 113.60,169.30 115.51,167.59 117.32,166.63 118.56,166.40 120.48,166.60 121.38,166.96 123.07,168.02 125.44,170.09 128.72,174.02 130.75,177.10 132.55,179.44 134.24,182.42 140.79,192.35 141.92,193.46 143.27,195.25 145.07,197.01 145.64,197.27 147.11,198.55 150.04,199.67 150.60,199.52 151.28,199.65 151.84,199.31 152.97,199.60 153.76,199.13 155.23,198.94 157.49,198.17 158.61,197.53 159.07,197.49 160.42,196.60 161.43,196.45 162.79,195.67 163.35,195.05 165.50,194.18 167.19,193.04 167.87,192.84 169.33,191.63 170.80,191.06 172.60,189.75 173.06,189.71 175.99,188.07 179.49,186.50 180.39,186.41 180.95,186.10 182.19,186.02 183.32,185.52 185.13,185.17 185.80,185.22 186.48,184.86 189.87,184.12 192.24,183.33 193.48,182.67 194.94,181.42 198.78,176.66 200.02,175.39 200.70,175.01 201.37,174.27 202.84,173.66 205.66,175.12 208.82,178.60 210.85,181.36 213.79,183.74 214.69,184.16 215.36,184.24 216.04,184.71 218.30,185.10 219.20,185.64 219.76,185.64 221.57,186.31 222.25,186.13 224.95,187.26 225.86,187.28 226.76,187.75 227.89,187.90 228.79,188.32 229.24,188.26 230.37,188.82 233.19,189.39 233.87,189.71 237.03,190.50 237.48,190.36 239.96,190.83 241.31,190.63 242.22,191.00 242.89,190.68 244.02,190.82 244.92,190.62 246.96,190.98 248.08,190.80 250.45,191.01 251.92,190.79 253.95,191.03 255.30,190.93 257.34,191.11 258.13,190.84 260.27,190.93 260.72,191.18 261.17,190.97 261.85,191.11 262.64,190.86 263.65,191.05 264.44,190.88" stroke="#1461a8" stroke-width="1.80"/><path d="M46.47,255.30 50.53,255.29 51.43,254.95 51.66,254.60 52.67,248.85 53.46,237.05 54.25,217.05 54.70,197.07 56.73,50.15 57.86,17.53 65.08,17.53 65.19,17.89 66.89,59.18 69.26,128.43 71.85,179.44 72.75,189.33 74.33,196.74 76.48,203.78 77.61,206.15 78.40,207.17 79.07,207.65 79.86,207.71 82.01,207.21 84.04,206.00 86.07,204.24 89.34,200.68 96.56,191.79 100.17,187.96 109.42,175.55 112.02,172.48 113.60,170.99 115.40,169.72 116.42,169.10 117.77,168.70 119.46,168.67 121.38,169.14 125.10,171.74 128.26,175.14 130.52,177.95 136.27,186.18 141.24,192.72 144.40,195.92 146.20,197.26 147.67,198.10 150.04,198.73 153.09,198.52 155.12,198.05 157.03,197.52 160.87,195.93 166.51,192.91 170.57,190.43 174.41,188.58 175.65,187.79 177.00,187.28 181.18,185.84 184.00,185.36 185.47,184.91 187.50,184.67 192.12,183.40 193.70,182.61 195.06,181.55 199.79,176.71 201.04,175.80 202.73,175.12 203.97,175.23 205.44,176.05 207.47,177.91 211.30,182.13 213.22,183.62 215.03,184.38 217.73,185.17 225.52,186.99 229.02,188.11 236.24,189.81 241.43,190.39 264.44,190.62" stroke="#084990" stroke-width="1.80"/><path d="M46.47,255.30 50.64,255.28 51.54,254.95 51.77,254.58 52.78,248.79 53.57,236.85 54.36,216.84 54.70,203.12 56.85,54.29 57.97,17.53 64.86,17.53 66.55,59.17 68.92,128.67 71.51,180.47 72.30,189.34 73.21,193.40 74.45,197.60 75.57,200.64 76.82,203.07 77.94,204.43 79.07,204.94 81.10,204.64 83.13,203.70 85.39,202.07 88.66,198.92 95.77,191.07 100.85,186.17 108.18,177.76 111.00,174.82 113.03,173.05 114.84,171.83 116.53,171.06 118.22,170.70 119.91,170.80 121.61,171.34 123.53,172.41 125.44,173.90 129.62,178.23 138.31,189.19 142.03,193.36 144.06,195.21 145.98,196.58 147.78,197.48 149.47,197.90 151.39,197.92 153.65,197.62 158.50,196.16 163.01,194.10 173.39,188.61 178.25,186.57 181.86,185.59 189.64,184.09 192.80,183.19 194.94,181.87 200.13,177.38 201.60,176.57 202.84,176.28 204.20,176.49 205.77,177.36 211.30,182.44 213.56,183.90 216.94,184.93 232.29,188.52 237.03,189.44 241.09,189.88 264.44,190.26" stroke="#08306b" stroke-width="1.80"/><path d="M46.47,255.30 50.87,255.29 51.66,255.04 51.99,254.71 52.56,252.31 53.12,248.30 53.80,238.81 55.15,204.83 56.73,130.21 59.55,17.53 61.25,17.53 61.36,19.37 62.04,47.12 64.18,101.31 65.87,134.07 68.13,167.82 69.26,179.33 70.95,190.23 71.74,193.77 72.98,197.83 73.88,200.22 74.56,201.27 74.90,201.45 75.69,201.41 77.72,200.90 79.64,199.93 81.67,198.46 86.07,194.12 94.98,183.37 98.82,179.27 100.96,177.42 102.88,176.14 104.80,175.27 106.60,174.90 108.41,174.95 110.32,175.32 112.36,176.02 114.50,177.04 119.12,180.01 128.72,187.49 132.78,190.30 137.06,192.47 139.10,193.09 141.01,193.38 144.40,193.14 148.12,191.95 152.18,189.87 160.53,184.65 164.14,182.64 167.87,181.13 171.25,180.49 174.52,180.60 178.25,181.15 190.20,184.22 194.49,185.09 208.26,186.18 218.98,186.40 240.30,185.61 264.44,185.37" stroke="#7f7f7f" stroke-width="2.3" stroke-dasharray="7.4 3.2"/></g>

<g stroke="#262626" stroke-width="0.80" fill="none">
<path d="M38.85,45.50 V255.30 H264.50 V45.50 Z"/>
<path d="M38.85,255.30 v3.0"/>
<path d="M95.26,255.30 v3.0"/>
<path d="M151.68,255.30 v3.0"/>
<path d="M208.09,255.30 v3.0"/>
<path d="M264.50,255.30 v3.0"/>
<path d="M38.85,255.30 h-3.2"/>
<path d="M38.85,220.33 h-3.2"/>
<path d="M38.85,185.37 h-3.2"/>
<path d="M38.85,150.40 h-3.2"/>
<path d="M38.85,115.43 h-3.2"/>
<path d="M38.85,80.47 h-3.2"/>
<path d="M38.85,45.50 h-3.2"/>
</g>
<g font-size="14" fill="#1a1a1a">
<text x="38.85" y="270.70" text-anchor="middle" textLength="6.6" lengthAdjust="spacingAndGlyphs">2</text>
<text x="95.26" y="270.70" text-anchor="middle" textLength="6.6" lengthAdjust="spacingAndGlyphs">4</text>
<text x="151.68" y="270.70" text-anchor="middle" textLength="6.6" lengthAdjust="spacingAndGlyphs">6</text>
<text x="208.09" y="270.70" text-anchor="middle" textLength="6.6" lengthAdjust="spacingAndGlyphs">8</text>
<text x="264.50" y="270.70" text-anchor="middle" textLength="13.2" lengthAdjust="spacingAndGlyphs">10</text>
<text x="32.65" y="260.40" text-anchor="end" textLength="17.8" lengthAdjust="spacingAndGlyphs">0.0</text>
<text x="32.65" y="225.43" text-anchor="end" textLength="17.8" lengthAdjust="spacingAndGlyphs">0.5</text>
<text x="32.65" y="190.47" text-anchor="end" textLength="17.8" lengthAdjust="spacingAndGlyphs">1.0</text>
<text x="32.65" y="155.50" text-anchor="end" textLength="17.8" lengthAdjust="spacingAndGlyphs">1.5</text>
<text x="32.65" y="120.53" text-anchor="end" textLength="17.8" lengthAdjust="spacingAndGlyphs">2.0</text>
<text x="32.65" y="85.57" text-anchor="end" textLength="17.8" lengthAdjust="spacingAndGlyphs">2.5</text>
<text x="32.65" y="50.60" text-anchor="end" textLength="17.8" lengthAdjust="spacingAndGlyphs">3.0</text>
</g>
<text x="151.68" y="41.10" font-size="16.4" text-anchor="middle" fill="#111" textLength="50.6" lengthAdjust="spacingAndGlyphs">UiO-66</text>
<rect x="278.70" y="45.50" width="10.75" height="209.80" fill="url(#g0)" stroke="#262626" stroke-width="0.8"/>
<g stroke="#262626" stroke-width="0.8">
<path d="M289.45,255.30 h2.6"/>
<path d="M289.45,150.40 h2.6"/>
<path d="M289.45,45.50 h2.6"/>
<path d="M289.45,97.95 h1.6"/>
<path d="M289.45,202.85 h1.6"/>
</g><g font-size="13.9" fill="#1a1a1a">
<text x="294.75" y="260.80" textLength="14.0" lengthAdjust="spacingAndGlyphs">30</text>
<text x="294.75" y="155.90" textLength="14.0" lengthAdjust="spacingAndGlyphs">95</text>
<text x="294.75" y="51.00" textLength="21.0" lengthAdjust="spacingAndGlyphs">160</text>
</g>
<g font-size="12.6" fill="#1a1a1a"><text x="278.70" y="11.2" font-size="15.8" textLength="10.2" lengthAdjust="spacingAndGlyphs">#</text><text x="295.10" y="9.6" textLength="32.8" lengthAdjust="spacingAndGlyphs">water</text><text x="278.70" y="26.8" textLength="56.4" lengthAdjust="spacingAndGlyphs">molecules</text></g>
<text transform="translate(10.0,151.10) rotate(-90)" font-size="13.2" text-anchor="middle" fill="#1a1a1a" textLength="25.4" lengthAdjust="spacingAndGlyphs">RDF</text>
<circle cx="557.60" cy="92.40" r="39.8" fill="#fcd3cf"/><circle cx="557.60" cy="92.40" r="26.6" fill="#fde9c8"/><circle cx="556.80" cy="92.40" r="10.8" fill="#d3d6f6"/><path d="M539.67,60.73 L546.83,61.53" stroke="#c4a886" stroke-width="0.45" stroke-dasharray="0.9 0.7"/><path d="M539.67,60.73 L538.07,70.28" stroke="#c4a886" stroke-width="0.45" stroke-dasharray="0.9 0.7"/><path d="M539.67,60.73 L546.03,51.98" stroke="#c4a886" stroke-width="0.45" stroke-dasharray="0.9 0.7"/><path d="M546.83,61.53 L546.03,51.98" stroke="#c4a886" stroke-width="0.45" stroke-dasharray="0.9 0.7"/><path d="M530.12,69.48 L538.07,70.28" stroke="#c4a886" stroke-width="0.45" stroke-dasharray="0.9 0.7"/><path d="M527.73,80.62 L537.28,81.42" stroke="#c4a886" stroke-width="0.45" stroke-dasharray="0.9 0.7"/><path d="M526.94,93.35 L528.53,100.51" stroke="#c4a886" stroke-width="0.45" stroke-dasharray="0.9 0.7"/><path d="M526.94,93.35 L535.69,92.56" stroke="#c4a886" stroke-width="0.45" stroke-dasharray="0.9 0.7"/><path d="M528.53,100.51 L537.28,103.70" stroke="#c4a886" stroke-width="0.45" stroke-dasharray="0.9 0.7"/><path d="M528.53,100.51 L535.69,92.56" stroke="#c4a886" stroke-width="0.45" stroke-dasharray="0.9 0.7"/><path d="M534.89,111.65 L537.28,103.70" stroke="#c4a886" stroke-width="0.45" stroke-dasharray="0.9 0.7"/><path d="M534.89,111.65 L543.64,116.43" stroke="#c4a886" stroke-width="0.45" stroke-dasharray="0.9 0.7"/><path d="M543.64,116.43 L549.21,110.06" stroke="#c4a886" stroke-width="0.45" stroke-dasharray="0.9 0.7"/><path d="M556.37,118.02 L562.74,117.22" stroke="#c4a886" stroke-width="0.45" stroke-dasharray="0.9 0.7"/><path d="M556.37,118.02 L549.21,110.06" stroke="#c4a886" stroke-width="0.45" stroke-dasharray="0.9 0.7"/><path d="M562.74,117.22 L571.49,118.02" stroke="#c4a886" stroke-width="0.45" stroke-dasharray="0.9 0.7"/><path d="M562.74,117.22 L560.35,107.68" stroke="#c4a886" stroke-width="0.45" stroke-dasharray="0.9 0.7"/><path d="M571.49,118.02 L579.45,113.25" stroke="#c4a886" stroke-width="0.45" stroke-dasharray="0.9 0.7"/><path d="M589.79,107.68 L587.41,100.51" stroke="#c4a886" stroke-width="0.45" stroke-dasharray="0.9 0.7"/><path d="M587.41,100.51 L582.63,98.92" stroke="#c4a886" stroke-width="0.45" stroke-dasharray="0.9 0.7"/><path d="M587.41,100.51 L586.61,90.97" stroke="#c4a886" stroke-width="0.45" stroke-dasharray="0.9 0.7"/><path d="M582.63,98.92 L575.47,101.31" stroke="#c4a886" stroke-width="0.45" stroke-dasharray="0.9 0.7"/><path d="M582.63,98.92 L586.61,90.97" stroke="#c4a886" stroke-width="0.45" stroke-dasharray="0.9 0.7"/><path d="M586.61,90.97 L591.38,83.81" stroke="#c4a886" stroke-width="0.45" stroke-dasharray="0.9 0.7"/><path d="M591.38,83.81 L589.79,76.64" stroke="#c4a886" stroke-width="0.45" stroke-dasharray="0.9 0.7"/><path d="M589.79,76.64 L583.43,71.07" stroke="#c4a886" stroke-width="0.45" stroke-dasharray="0.9 0.7"/><path d="M583.43,71.07 L577.86,72.67" stroke="#c4a886" stroke-width="0.45" stroke-dasharray="0.9 0.7"/><path d="M583.43,71.07 L587.41,63.12" stroke="#c4a886" stroke-width="0.45" stroke-dasharray="0.9 0.7"/><path d="M569.90,63.91 L572.29,58.34" stroke="#c4a886" stroke-width="0.45" stroke-dasharray="0.9 0.7"/><path d="M569.90,63.91 L562.74,63.91" stroke="#c4a886" stroke-width="0.45" stroke-dasharray="0.9 0.7"/><path d="M538.07,70.28 L546.03,74.26" stroke="#c4a886" stroke-width="0.45" stroke-dasharray="0.9 0.7"/><path d="M546.03,74.26 L551.60,78.24" stroke="#c4a886" stroke-width="0.45" stroke-dasharray="0.9 0.7"/><path d="M546.03,74.26 L547.62,83.81" stroke="#c4a886" stroke-width="0.45" stroke-dasharray="0.9 0.7"/><path d="M551.60,78.24 L547.62,83.81" stroke="#c4a886" stroke-width="0.45" stroke-dasharray="0.9 0.7"/><path d="M551.60,78.24 L561.15,78.24" stroke="#c4a886" stroke-width="0.45" stroke-dasharray="0.9 0.7"/><path d="M561.15,78.24 L565.13,75.85" stroke="#c4a886" stroke-width="0.45" stroke-dasharray="0.9 0.7"/><path d="M561.15,78.24 L569.11,83.81" stroke="#c4a886" stroke-width="0.45" stroke-dasharray="0.9 0.7"/><path d="M565.13,75.85 L569.11,83.81" stroke="#c4a886" stroke-width="0.45" stroke-dasharray="0.9 0.7"/><path d="M565.13,75.85 L573.08,83.01" stroke="#c4a886" stroke-width="0.45" stroke-dasharray="0.9 0.7"/><path d="M569.11,83.81 L573.08,83.01" stroke="#c4a886" stroke-width="0.45" stroke-dasharray="0.9 0.7"/><path d="M569.11,83.81 L569.90,90.97" stroke="#c4a886" stroke-width="0.45" stroke-dasharray="0.9 0.7"/><path d="M573.08,83.01 L569.90,90.97" stroke="#c4a886" stroke-width="0.45" stroke-dasharray="0.9 0.7"/><path d="M537.28,81.42 L547.62,83.81" stroke="#c4a886" stroke-width="0.45" stroke-dasharray="0.9 0.7"/><path d="M535.69,92.56 L544.44,90.17" stroke="#c4a886" stroke-width="0.45" stroke-dasharray="0.9 0.7"/><path d="M544.44,90.17 L547.62,83.81" stroke="#c4a886" stroke-width="0.45" stroke-dasharray="0.9 0.7"/><path d="M544.44,90.17 L551.60,94.15" stroke="#c4a886" stroke-width="0.45" stroke-dasharray="0.9 0.7"/><path d="M569.90,90.97 L573.08,94.94" stroke="#c4a886" stroke-width="0.45" stroke-dasharray="0.9 0.7"/><path d="M573.08,94.94 L575.47,101.31" stroke="#c4a886" stroke-width="0.45" stroke-dasharray="0.9 0.7"/><path d="M573.08,94.94 L566.72,99.72" stroke="#c4a886" stroke-width="0.45" stroke-dasharray="0.9 0.7"/><path d="M575.47,101.31 L566.72,99.72" stroke="#c4a886" stroke-width="0.45" stroke-dasharray="0.9 0.7"/><path d="M566.72,99.72 L569.90,90.97" stroke="#c4a886" stroke-width="0.45" stroke-dasharray="0.9 0.7"/><path d="M560.35,107.68 L553.19,100.51" stroke="#c4a886" stroke-width="0.45" stroke-dasharray="0.9 0.7"/><path d="M560.35,107.68 L566.72,99.72" stroke="#c4a886" stroke-width="0.45" stroke-dasharray="0.9 0.7"/><path d="M549.21,103.70 L553.19,100.51" stroke="#c4a886" stroke-width="0.45" stroke-dasharray="0.9 0.7"/><path d="M549.21,103.70 L549.21,110.06" stroke="#c4a886" stroke-width="0.45" stroke-dasharray="0.9 0.7"/><path d="M549.21,103.70 L551.60,94.15" stroke="#c4a886" stroke-width="0.45" stroke-dasharray="0.9 0.7"/><path d="M549.21,110.06 L553.19,100.51" stroke="#c4a886" stroke-width="0.45" stroke-dasharray="0.9 0.7"/><path d="M555.58,90.17 L558.76,88.58" stroke="#c4a886" stroke-width="0.45" stroke-dasharray="0.9 0.7"/><path d="M555.58,90.17 L557.97,94.94" stroke="#c4a886" stroke-width="0.45" stroke-dasharray="0.9 0.7"/><path d="M555.58,90.17 L551.60,94.15" stroke="#c4a886" stroke-width="0.45" stroke-dasharray="0.9 0.7"/><path d="M558.76,88.58 L557.97,94.94" stroke="#c4a886" stroke-width="0.45" stroke-dasharray="0.9 0.7"/><path d="M558.76,88.58 L551.60,94.15" stroke="#c4a886" stroke-width="0.45" stroke-dasharray="0.9 0.7"/><path d="M551.60,94.15 L557.97,94.94" stroke="#c4a886" stroke-width="0.45" stroke-dasharray="0.9 0.7"/><path d="M551.60,94.15 L553.19,100.51" stroke="#c4a886" stroke-width="0.45" stroke-dasharray="0.9 0.7"/><path d="M553.19,100.51 L557.97,94.94" stroke="#c4a886" stroke-width="0.45" stroke-dasharray="0.9 0.7"/><circle cx="536.21" cy="68.46" r="0.90" fill="url(#hW)" stroke="#8a8a8a" stroke-width="0.35"/><circle cx="538.07" cy="70.28" r="1.90" fill="url(#oI)"/><circle cx="540.31" cy="68.95" r="0.90" fill="url(#hW)" stroke="#8a8a8a" stroke-width="0.35"/><circle cx="545.90" cy="71.66" r="0.90" fill="url(#hW)" stroke="#8a8a8a" stroke-width="0.35"/><circle cx="546.03" cy="74.26" r="1.90" fill="url(#oI)"/><circle cx="548.57" cy="74.80" r="0.90" fill="url(#hW)" stroke="#8a8a8a" stroke-width="0.35"/><circle cx="552.33" cy="75.74" r="0.90" fill="url(#hW)" stroke="#8a8a8a" stroke-width="0.35"/><circle cx="551.60" cy="78.24" r="1.90" fill="url(#oI)"/><circle cx="553.82" cy="79.59" r="0.90" fill="url(#hW)" stroke="#8a8a8a" stroke-width="0.35"/><circle cx="563.58" cy="77.32" r="0.90" fill="url(#hW)" stroke="#8a8a8a" stroke-width="0.35"/><circle cx="561.15" cy="78.24" r="1.90" fill="url(#oI)"/><circle cx="561.41" cy="80.82" r="0.90" fill="url(#hW)" stroke="#8a8a8a" stroke-width="0.35"/><circle cx="564.96" cy="73.25" r="0.90" fill="url(#hW)" stroke="#8a8a8a" stroke-width="0.35"/><circle cx="565.13" cy="75.85" r="1.90" fill="url(#oI)"/><circle cx="567.68" cy="76.36" r="0.90" fill="url(#hW)" stroke="#8a8a8a" stroke-width="0.35"/><circle cx="571.40" cy="82.59" r="0.90" fill="url(#hW)" stroke="#8a8a8a" stroke-width="0.35"/><circle cx="569.11" cy="83.81" r="1.90" fill="url(#oI)"/><circle cx="569.69" cy="86.34" r="0.90" fill="url(#hW)" stroke="#8a8a8a" stroke-width="0.35"/><circle cx="575.64" cy="83.48" r="0.90" fill="url(#hW)" stroke="#8a8a8a" stroke-width="0.35"/><circle cx="573.08" cy="83.01" r="1.90" fill="url(#oI)"/><circle cx="571.97" cy="85.36" r="0.90" fill="url(#hW)" stroke="#8a8a8a" stroke-width="0.35"/><circle cx="534.74" cy="81.98" r="0.90" fill="url(#hW)" stroke="#8a8a8a" stroke-width="0.35"/><circle cx="537.28" cy="81.42" r="1.90" fill="url(#oI)"/><circle cx="537.40" cy="78.82" r="0.90" fill="url(#hW)" stroke="#8a8a8a" stroke-width="0.35"/><circle cx="538.12" cy="91.65" r="0.90" fill="url(#hW)" stroke="#8a8a8a" stroke-width="0.35"/><circle cx="535.69" cy="92.56" r="1.90" fill="url(#oI)"/><circle cx="535.93" cy="95.15" r="0.90" fill="url(#hW)" stroke="#8a8a8a" stroke-width="0.35"/><circle cx="542.90" cy="88.08" r="0.90" fill="url(#hW)" stroke="#8a8a8a" stroke-width="0.35"/><circle cx="544.44" cy="90.17" r="1.90" fill="url(#oI)"/><circle cx="546.86" cy="89.22" r="0.90" fill="url(#hW)" stroke="#8a8a8a" stroke-width="0.35"/><circle cx="549.73" cy="82.29" r="0.90" fill="url(#hW)" stroke="#8a8a8a" stroke-width="0.35"/><circle cx="547.62" cy="83.81" r="1.90" fill="url(#oI)"/><circle cx="548.54" cy="86.24" r="0.90" fill="url(#hW)" stroke="#8a8a8a" stroke-width="0.35"/><circle cx="571.87" cy="92.66" r="0.90" fill="url(#hW)" stroke="#8a8a8a" stroke-width="0.35"/><circle cx="569.90" cy="90.97" r="1.90" fill="url(#oI)"/><circle cx="567.75" cy="92.43" r="0.90" fill="url(#hW)" stroke="#8a8a8a" stroke-width="0.35"/><circle cx="570.53" cy="95.45" r="0.90" fill="url(#hW)" stroke="#8a8a8a" stroke-width="0.35"/><circle cx="573.08" cy="94.94" r="1.90" fill="url(#oI)"/><circle cx="573.26" cy="92.35" r="0.90" fill="url(#hW)" stroke="#8a8a8a" stroke-width="0.35"/><circle cx="575.53" cy="103.91" r="0.90" fill="url(#hW)" stroke="#8a8a8a" stroke-width="0.35"/><circle cx="575.47" cy="101.31" r="1.90" fill="url(#oI)"/><circle cx="572.95" cy="100.69" r="0.90" fill="url(#hW)" stroke="#8a8a8a" stroke-width="0.35"/><circle cx="564.22" cy="99.01" r="0.90" fill="url(#hW)" stroke="#8a8a8a" stroke-width="0.35"/><circle cx="566.72" cy="99.72" r="1.90" fill="url(#oI)"/><circle cx="568.05" cy="97.48" r="0.90" fill="url(#hW)" stroke="#8a8a8a" stroke-width="0.35"/><circle cx="558.03" cy="106.51" r="0.90" fill="url(#hW)" stroke="#8a8a8a" stroke-width="0.35"/><circle cx="560.35" cy="107.68" r="1.90" fill="url(#oI)"/><circle cx="562.08" cy="105.73" r="0.90" fill="url(#hW)" stroke="#8a8a8a" stroke-width="0.35"/><circle cx="551.81" cy="103.91" r="0.90" fill="url(#hW)" stroke="#8a8a8a" stroke-width="0.35"/><circle cx="549.21" cy="103.70" r="1.90" fill="url(#oI)"/><circle cx="548.34" cy="106.14" r="0.90" fill="url(#hW)" stroke="#8a8a8a" stroke-width="0.35"/><circle cx="549.75" cy="112.61" r="0.90" fill="url(#hW)" stroke="#8a8a8a" stroke-width="0.35"/><circle cx="549.21" cy="110.06" r="1.90" fill="url(#oI)"/><circle cx="546.62" cy="109.93" r="0.90" fill="url(#hW)" stroke="#8a8a8a" stroke-width="0.35"/><circle cx="536.80" cy="106.25" r="0.90" fill="url(#hW)" stroke="#8a8a8a" stroke-width="0.35"/><circle cx="537.28" cy="103.70" r="1.90" fill="url(#oI)"/><circle cx="534.93" cy="102.57" r="0.90" fill="url(#hW)" stroke="#8a8a8a" stroke-width="0.35"/><circle cx="557.83" cy="88.87" r="0.90" fill="url(#hW)" stroke="#8a8a8a" stroke-width="0.35"/><circle cx="555.58" cy="90.17" r="1.90" fill="url(#oC)"/><circle cx="556.26" cy="92.68" r="0.90" fill="url(#hW)" stroke="#8a8a8a" stroke-width="0.35"/><circle cx="559.02" cy="85.99" r="0.90" fill="url(#hW)" stroke="#8a8a8a" stroke-width="0.35"/><circle cx="558.76" cy="88.58" r="1.90" fill="url(#oC)"/><circle cx="561.19" cy="89.50" r="0.90" fill="url(#hW)" stroke="#8a8a8a" stroke-width="0.35"/><circle cx="553.00" cy="96.34" r="0.90" fill="url(#hW)" stroke="#8a8a8a" stroke-width="0.35"/><circle cx="551.60" cy="94.15" r="1.90" fill="url(#oC)"/><circle cx="549.12" cy="94.93" r="0.90" fill="url(#hW)" stroke="#8a8a8a" stroke-width="0.35"/><circle cx="558.73" cy="92.46" r="0.90" fill="url(#hW)" stroke="#8a8a8a" stroke-width="0.35"/><circle cx="557.97" cy="94.94" r="1.90" fill="url(#oC)"/><circle cx="560.17" cy="96.32" r="0.90" fill="url(#hW)" stroke="#8a8a8a" stroke-width="0.35"/><circle cx="554.87" cy="102.50" r="0.90" fill="url(#hW)" stroke="#8a8a8a" stroke-width="0.35"/><circle cx="553.19" cy="100.51" r="1.90" fill="url(#oC)"/><circle cx="550.84" cy="101.61" r="0.90" fill="url(#hW)" stroke="#8a8a8a" stroke-width="0.35"/><circle cx="537.59" cy="58.85" r="0.95" fill="url(#hW)" stroke="#8a8a8a" stroke-width="0.35"/><circle cx="539.67" cy="60.73" r="2.10" fill="url(#oR)"/><circle cx="542.02" cy="59.22" r="0.95" fill="url(#hW)" stroke="#8a8a8a" stroke-width="0.35"/><circle cx="548.79" cy="63.53" r="0.95" fill="url(#hW)" stroke="#8a8a8a" stroke-width="0.35"/><circle cx="546.83" cy="61.53" r="2.10" fill="url(#oR)"/><circle cx="544.39" cy="62.90" r="0.95" fill="url(#hW)" stroke="#8a8a8a" stroke-width="0.35"/><circle cx="548.83" cy="52.01" r="0.95" fill="url(#hW)" stroke="#8a8a8a" stroke-width="0.35"/><circle cx="546.03" cy="51.98" r="2.10" fill="url(#oR)"/><circle cx="545.28" cy="54.67" r="0.95" fill="url(#hW)" stroke="#8a8a8a" stroke-width="0.35"/><circle cx="532.05" cy="67.46" r="0.95" fill="url(#hW)" stroke="#8a8a8a" stroke-width="0.35"/><circle cx="530.12" cy="69.48" r="2.10" fill="url(#oR)"/><circle cx="531.57" cy="71.88" r="0.95" fill="url(#hW)" stroke="#8a8a8a" stroke-width="0.35"/><circle cx="528.44" cy="83.33" r="0.95" fill="url(#hW)" stroke="#8a8a8a" stroke-width="0.35"/><circle cx="527.73" cy="80.62" r="2.10" fill="url(#oR)"/><circle cx="524.93" cy="80.60" r="0.95" fill="url(#hW)" stroke="#8a8a8a" stroke-width="0.35"/><circle cx="527.54" cy="96.09" r="0.95" fill="url(#hW)" stroke="#8a8a8a" stroke-width="0.35"/><circle cx="526.94" cy="93.35" r="2.10" fill="url(#oR)"/><circle cx="524.14" cy="93.23" r="0.95" fill="url(#hW)" stroke="#8a8a8a" stroke-width="0.35"/><circle cx="531.31" cy="100.21" r="0.95" fill="url(#hW)" stroke="#8a8a8a" stroke-width="0.35"/><circle cx="528.53" cy="100.51" r="2.10" fill="url(#oR)"/><circle cx="528.10" cy="103.28" r="0.95" fill="url(#hW)" stroke="#8a8a8a" stroke-width="0.35"/><circle cx="536.84" cy="109.64" r="0.95" fill="url(#hW)" stroke="#8a8a8a" stroke-width="0.35"/><circle cx="534.89" cy="111.65" r="2.10" fill="url(#oR)"/><circle cx="536.33" cy="114.06" r="0.95" fill="url(#hW)" stroke="#8a8a8a" stroke-width="0.35"/><circle cx="542.96" cy="119.14" r="0.95" fill="url(#hW)" stroke="#8a8a8a" stroke-width="0.35"/><circle cx="543.64" cy="116.43" r="2.10" fill="url(#oR)"/><circle cx="541.20" cy="115.06" r="0.95" fill="url(#hW)" stroke="#8a8a8a" stroke-width="0.35"/><circle cx="559.09" cy="117.35" r="0.95" fill="url(#hW)" stroke="#8a8a8a" stroke-width="0.35"/><circle cx="556.37" cy="118.02" r="2.10" fill="url(#oR)"/><circle cx="556.32" cy="120.82" r="0.95" fill="url(#hW)" stroke="#8a8a8a" stroke-width="0.35"/><circle cx="560.02" cy="116.54" r="0.95" fill="url(#hW)" stroke="#8a8a8a" stroke-width="0.35"/><circle cx="562.74" cy="117.22" r="2.10" fill="url(#oR)"/><circle cx="564.10" cy="114.78" r="0.95" fill="url(#hW)" stroke="#8a8a8a" stroke-width="0.35"/><circle cx="570.27" cy="115.50" r="0.95" fill="url(#hW)" stroke="#8a8a8a" stroke-width="0.35"/><circle cx="571.49" cy="118.02" r="2.10" fill="url(#oR)"/><circle cx="574.24" cy="117.49" r="0.95" fill="url(#hW)" stroke="#8a8a8a" stroke-width="0.35"/><circle cx="580.23" cy="115.93" r="0.95" fill="url(#hW)" stroke="#8a8a8a" stroke-width="0.35"/><circle cx="579.45" cy="113.25" r="2.10" fill="url(#oR)"/><circle cx="576.65" cy="113.31" r="0.95" fill="url(#hW)" stroke="#8a8a8a" stroke-width="0.35"/><circle cx="592.40" cy="106.66" r="0.95" fill="url(#hW)" stroke="#8a8a8a" stroke-width="0.35"/><circle cx="589.79" cy="107.68" r="2.10" fill="url(#oR)"/><circle cx="590.10" cy="110.46" r="0.95" fill="url(#hW)" stroke="#8a8a8a" stroke-width="0.35"/><circle cx="586.39" cy="97.91" r="0.95" fill="url(#hW)" stroke="#8a8a8a" stroke-width="0.35"/><circle cx="587.41" cy="100.51" r="2.10" fill="url(#oR)"/><circle cx="590.19" cy="100.20" r="0.95" fill="url(#hW)" stroke="#8a8a8a" stroke-width="0.35"/><circle cx="585.37" cy="98.34" r="0.95" fill="url(#hW)" stroke="#8a8a8a" stroke-width="0.35"/><circle cx="582.63" cy="98.92" r="2.10" fill="url(#oR)"/><circle cx="582.49" cy="101.72" r="0.95" fill="url(#hW)" stroke="#8a8a8a" stroke-width="0.35"/><circle cx="588.81" cy="89.23" r="0.95" fill="url(#hW)" stroke="#8a8a8a" stroke-width="0.35"/><circle cx="586.61" cy="90.97" r="2.10" fill="url(#oR)"/><circle cx="587.72" cy="93.54" r="0.95" fill="url(#hW)" stroke="#8a8a8a" stroke-width="0.35"/><circle cx="590.54" cy="86.47" r="0.95" fill="url(#hW)" stroke="#8a8a8a" stroke-width="0.35"/><circle cx="591.38" cy="83.81" r="2.10" fill="url(#oR)"/><circle cx="589.02" cy="82.30" r="0.95" fill="url(#hW)" stroke="#8a8a8a" stroke-width="0.35"/><circle cx="587.99" cy="78.79" r="0.95" fill="url(#hW)" stroke="#8a8a8a" stroke-width="0.35"/><circle cx="589.79" cy="76.64" r="2.10" fill="url(#oR)"/><circle cx="588.19" cy="74.35" r="0.95" fill="url(#hW)" stroke="#8a8a8a" stroke-width="0.35"/><circle cx="584.84" cy="73.49" r="0.95" fill="url(#hW)" stroke="#8a8a8a" stroke-width="0.35"/><circle cx="583.43" cy="71.07" r="2.10" fill="url(#oR)"/><circle cx="580.73" cy="71.81" r="0.95" fill="url(#hW)" stroke="#8a8a8a" stroke-width="0.35"/><circle cx="579.56" cy="74.89" r="0.95" fill="url(#hW)" stroke="#8a8a8a" stroke-width="0.35"/><circle cx="577.86" cy="72.67" r="2.10" fill="url(#oR)"/><circle cx="575.27" cy="73.74" r="0.95" fill="url(#hW)" stroke="#8a8a8a" stroke-width="0.35"/><circle cx="572.47" cy="65.03" r="0.95" fill="url(#hW)" stroke="#8a8a8a" stroke-width="0.35"/><circle cx="569.90" cy="63.91" r="2.10" fill="url(#oR)"/><circle cx="568.16" cy="66.11" r="0.95" fill="url(#hW)" stroke="#8a8a8a" stroke-width="0.35"/><circle cx="561.85" cy="66.57" r="0.95" fill="url(#hW)" stroke="#8a8a8a" stroke-width="0.35"/><circle cx="562.74" cy="63.91" r="2.10" fill="url(#oR)"/><circle cx="560.41" cy="62.37" r="0.95" fill="url(#hW)" stroke="#8a8a8a" stroke-width="0.35"/><circle cx="570.06" cy="56.65" r="0.95" fill="url(#hW)" stroke="#8a8a8a" stroke-width="0.35"/><circle cx="572.29" cy="58.34" r="2.10" fill="url(#oR)"/><circle cx="574.50" cy="56.62" r="0.95" fill="url(#hW)" stroke="#8a8a8a" stroke-width="0.35"/><circle cx="590.21" cy="63.18" r="0.95" fill="url(#hW)" stroke="#8a8a8a" stroke-width="0.35"/><circle cx="587.41" cy="63.12" r="2.10" fill="url(#oR)"/><circle cx="586.62" cy="65.81" r="0.95" fill="url(#hW)" stroke="#8a8a8a" stroke-width="0.35"/><circle cx="602.89" cy="83.67" r="0.95" fill="url(#hW)" stroke="#8a8a8a" stroke-width="0.35"/><circle cx="604.12" cy="86.19" r="2.10" fill="url(#oR)"/><circle cx="606.86" cy="85.66" r="0.95" fill="url(#hW)" stroke="#8a8a8a" stroke-width="0.35"/><defs><linearGradient id="barB" x1="0" x2="1"><stop offset="0" stop-color="#dee1fc"/><stop offset="0.75" stop-color="#dee1fc"/><stop offset="1" stop-color="#dee1fc" stop-opacity="0"/></linearGradient><linearGradient id="barO" x1="0" x2="1"><stop offset="0" stop-color="#fee9cc" stop-opacity="0"/><stop offset="0.05" stop-color="#fee9cc"/><stop offset="0.93" stop-color="#fee9cc"/><stop offset="1" stop-color="#fee9cc" stop-opacity="0"/></linearGradient><linearGradient id="barR" x1="0" x2="1"><stop offset="0" stop-color="#ffd4cf" stop-opacity="0"/><stop offset="0.04" stop-color="#ffd4cf"/><stop offset="0.75" stop-color="#ffd4cf"/><stop offset="1" stop-color="#ffd4cf" stop-opacity="0"/></linearGradient></defs><rect x="389.2" y="245.6" width="43.5" height="9.7" fill="url(#barB)"/><rect x="429.5" y="245.6" width="79" height="9.7" fill="url(#barO)"/><rect x="505.5" y="245.6" width="64" height="9.7" fill="url(#barR)"/>
<g clip-path="url(#c1)" fill="none" stroke-linejoin="round" stroke-linecap="round"><path d="M396.58,255.30 399.51,255.17 400.08,254.82 400.42,253.79 401.09,249.71 401.43,246.27 402.34,228.90 403.35,198.16 404.03,161.04 404.37,131.58 404.71,50.31 405.05,38.49 406.07,17.53 423.12,17.53 425.50,45.43 426.18,49.47 426.63,55.36 427.76,65.48 428.21,67.05 429.11,73.02 429.34,73.88 429.79,74.51 430.24,77.27 431.15,76.16 431.60,77.44 432.05,77.85 432.50,76.27 432.95,77.54 433.07,77.64 433.18,77.40 434.42,69.60 434.65,69.16 434.99,70.10 435.21,69.70 435.55,68.00 435.89,67.32 436.57,62.26 436.68,62.07 437.13,62.90 437.70,59.77 438.15,60.85 438.72,57.27 439.17,57.91 439.62,55.53 440.07,54.45 440.41,54.46 440.52,54.16 441.65,47.83 441.77,47.59 442.10,47.61 443.23,44.57 443.69,42.57 444.03,42.23 444.48,40.79 444.82,41.04 444.93,40.85 445.38,38.02 445.72,37.45 446.17,34.81 446.96,32.22 447.64,27.29 447.98,27.06 448.43,28.23 448.77,27.45 449.11,27.67 449.67,23.98 450.69,21.49 451.71,17.53 468.54,17.56 468.99,18.62 469.33,18.36 470.01,22.01 470.35,22.81 470.69,22.85 470.91,23.20 471.37,25.21 471.70,24.78 472.50,29.11 472.72,29.28 473.06,28.68 473.51,29.55 474.30,34.70 475.09,38.47 475.21,38.68 475.66,37.75 475.88,37.55 476.00,37.67 476.79,44.08 476.90,44.21 477.24,43.16 477.80,45.27 477.92,45.34 478.26,45.00 478.37,45.12 478.82,47.89 478.93,48.24 479.27,48.34 479.39,48.78 480.06,53.43 480.18,53.58 480.52,52.68 480.63,52.50 480.74,52.60 481.42,54.74 481.98,55.44 482.66,60.33 482.89,60.70 483.11,60.27 483.23,60.35 483.79,64.46 484.36,65.94 484.92,68.79 485.71,70.24 486.16,73.61 486.62,74.44 487.07,76.85 487.41,76.70 488.09,78.41 488.54,81.71 489.10,84.37 489.44,84.91 490.01,90.79 490.35,91.22 490.91,93.27 491.36,93.72 492.15,99.09 492.27,99.38 492.60,99.49 492.72,100.00 494.19,110.31 494.30,110.63 494.41,110.58 494.75,109.37 495.32,112.58 495.77,112.22 495.88,112.46 497.12,120.05 497.24,120.24 497.46,120.00 497.58,120.10 498.14,123.10 498.25,123.30 498.59,122.90 499.16,125.85 499.72,124.69 500.17,125.75 500.51,125.36 500.96,127.04 501.42,125.33 501.64,125.12 502.32,126.91 503.11,123.20 503.68,125.51 504.24,125.04 504.69,124.20 505.71,125.20 506.05,124.59 506.39,125.26 507.07,122.59 507.86,123.32 508.20,123.96 508.53,123.78 508.65,123.92 509.21,126.08 509.66,122.69 509.78,122.32 510.00,122.37 510.34,122.06 510.79,124.91 511.36,122.05 511.81,123.57 512.15,122.94 512.38,123.12 512.49,123.01 512.83,122.00 513.39,122.87 513.84,124.40 514.52,125.04 514.86,124.63 515.43,122.27 515.88,122.73 516.33,122.08 516.78,122.79 517.23,122.05 517.57,123.02 518.02,121.30 518.59,122.51 519.15,120.64 519.83,121.15 520.28,124.17 520.62,124.66 521.19,123.16 521.75,124.24 522.43,121.83 522.99,124.16 523.45,123.62 523.56,123.70 524.24,125.48 524.69,124.50 524.92,124.55 526.05,129.09 526.72,126.95 527.29,128.92 527.85,127.14 528.30,128.69 528.76,126.73 529.32,130.16 529.77,131.50 530.11,131.19 530.45,132.20 530.56,132.13 531.02,130.10 531.58,136.76 531.69,136.81 532.03,135.12 532.71,133.61 532.94,133.47 533.61,138.34 533.95,137.85 534.52,136.09 535.31,140.49 535.87,139.58 536.21,140.05 536.66,141.40 537.12,140.16 537.79,142.88 538.25,142.39 538.47,142.56 539.15,144.69 539.60,143.73 539.94,144.52 540.39,143.89 541.18,147.61 541.41,147.84 542.09,147.95 543.33,145.68 544.01,145.72 544.57,144.05 545.02,144.49 545.48,142.78 545.59,142.69 545.82,143.12 545.93,143.06 546.49,139.89 546.61,139.78 546.95,140.40 547.17,140.41 547.96,137.07 548.30,134.56 548.41,134.38 548.75,134.93 548.98,134.68 550.45,129.70 550.67,129.61 551.13,130.91 551.80,128.01 552.26,129.87 552.82,125.53 553.84,129.09 553.95,129.22 554.18,129.06 554.29,129.27 554.74,130.99 555.08,131.14 555.53,133.55 555.87,133.75 556.77,140.27 557.00,140.58 557.34,139.98 557.57,139.94 558.47,141.55 558.92,144.42 559.60,145.75 560.16,150.19 560.73,151.71 561.18,154.73 561.63,156.03 561.97,158.14 562.42,158.77 562.88,161.46 563.67,163.69 564.12,166.58 564.57,165.90 565.25,167.20 565.81,171.14 566.15,170.96 566.49,171.29 566.94,170.14 567.39,170.20 567.73,170.48 568.30,173.06 568.98,173.45 569.43,175.77 569.54,175.87 569.88,175.51 570.22,175.51 570.67,177.06 570.78,177.17 571.12,176.45 571.35,176.45 571.91,178.17 572.36,177.75 572.82,177.78 573.27,178.92 573.83,178.16 574.06,178.12 574.51,179.02 574.85,178.87 575.30,180.58 575.75,178.81 576.32,179.45 576.77,178.67 577.22,179.30 577.67,178.40 578.24,180.37 578.92,178.61 579.37,179.93 579.71,179.31 580.27,179.66 580.73,181.59 581.29,178.46 581.74,178.08 582.76,180.74 583.10,181.20 583.44,181.18 584.00,178.79 584.57,180.28 585.13,178.86 585.70,181.21 586.26,178.71 586.60,179.18 587.16,179.13 587.84,178.39 588.18,177.08 588.29,176.99 588.75,178.82 589.09,177.01 589.20,176.81 589.54,176.85 589.99,175.12 590.33,175.61 590.78,174.19 591.34,176.86 591.91,175.14 594.06,178.48 594.73,176.67 595.07,178.44 595.52,179.11 595.98,180.77 596.43,180.49 597.67,182.66 598.24,180.91 598.69,183.31 599.14,182.78 599.37,182.81 599.70,182.46 600.27,184.62 600.61,184.63 601.51,185.69 601.96,185.18 602.76,187.95 602.98,187.61 603.77,184.23 604.68,187.94 605.01,186.94 605.35,186.61 605.92,188.33 606.48,185.93 606.94,188.09 607.61,187.17 608.63,188.14 609.08,187.01 609.42,187.53 609.99,187.44 610.78,185.73 611.45,188.70 611.79,187.05 611.91,186.90 612.25,187.29 612.58,186.47 613.37,185.47 614.17,187.43 614.62,189.27 614.73,189.39 614.84,189.19" stroke="#dadaeb" stroke-width="1.80"/><path d="M396.58,255.30 399.74,255.16 400.30,254.78 400.64,253.68 401.32,249.53 401.66,245.95 402.45,231.02 403.47,200.53 404.26,158.01 404.60,131.99 405.16,46.61 406.40,17.53 421.09,17.53 423.35,53.47 425.50,98.63 426.74,119.43 427.76,129.34 428.32,131.54 428.66,131.16 429.11,132.82 429.90,134.54 430.36,134.66 430.92,137.65 431.15,137.57 431.60,136.46 432.05,136.59 432.50,137.42 432.84,137.63 433.63,135.64 434.08,135.62 434.65,134.10 435.21,135.34 436.12,132.50 436.34,132.16 436.91,131.96 437.02,131.67 437.59,128.93 438.04,129.02 438.49,128.11 438.83,127.99 439.28,126.76 439.85,126.42 440.30,124.08 440.86,122.46 441.65,123.10 441.88,122.88 442.78,120.48 443.23,118.00 443.91,117.27 444.25,117.22 444.70,115.79 445.38,115.02 445.95,111.87 446.06,111.53 446.40,111.49 446.96,108.47 447.41,108.76 447.87,107.63 448.21,108.33 448.32,108.07 448.88,104.22 449.45,105.39 449.56,105.32 450.13,102.20 450.58,102.02 450.92,102.61 451.71,99.85 452.95,97.98 453.40,96.03 453.52,95.90 453.97,96.80 454.53,95.52 454.98,96.22 455.10,96.08 455.77,93.24 455.89,93.00 456.23,93.27 456.34,93.09 457.02,89.39 457.24,89.32 457.70,89.97 458.15,88.74 458.71,88.28 459.16,88.99 459.39,88.94 459.84,86.20 459.95,85.98 460.29,86.48 460.52,86.32 461.08,84.16 461.20,84.00 462.10,84.05 462.67,82.63 462.89,82.63 463.23,83.10 463.80,80.20 464.25,81.22 464.81,79.84 465.38,81.65 465.94,81.12 466.62,81.53 466.96,82.04 467.30,82.06 467.86,83.91 468.54,79.85 468.77,80.30 469.33,83.89 469.78,84.30 470.24,83.76 470.46,84.21 471.03,88.42 471.59,86.71 472.16,88.94 472.50,88.47 472.95,89.77 473.29,89.69 473.40,89.87 473.85,91.79 474.19,92.07 474.53,92.89 474.75,92.77 474.87,92.92 475.09,93.72 475.43,94.12 475.88,96.39 476.22,96.82 476.56,98.18 476.79,98.33 477.13,97.77 477.24,98.00 478.26,103.12 478.48,103.22 478.82,102.57 478.93,102.77 479.50,105.92 479.84,106.36 481.19,110.40 481.53,110.75 482.10,114.67 482.66,115.73 483.45,118.41 484.02,119.65 484.81,123.11 485.15,123.86 485.71,128.40 485.94,129.02 486.28,128.76 486.39,129.05 487.07,133.70 487.75,135.56 488.31,139.95 488.76,140.73 489.22,140.80 489.33,141.09 490.23,145.29 491.02,146.16 492.38,152.16 492.72,152.13 492.83,152.42 493.51,155.16 493.62,155.35 493.96,154.88 494.53,156.94 494.86,156.72 495.32,157.51 495.99,157.17 496.56,158.56 496.90,158.17 497.35,160.04 497.69,160.33 498.03,161.43 498.59,160.79 499.04,161.38 499.38,160.64 499.50,160.76 499.95,163.97 500.06,164.17 500.29,164.11 500.74,163.00 501.42,165.56 501.87,163.93 502.32,164.46 502.89,163.19 503.68,165.26 503.79,165.33 504.24,164.36 504.92,165.32 505.37,164.74 506.05,162.29 506.27,162.45 506.73,163.69 507.07,162.27 507.52,161.65 508.20,163.07 508.87,163.50 509.21,162.93 509.55,161.59 509.66,161.51 510.00,161.95 510.45,160.88 511.25,160.00 511.70,160.79 512.15,160.64 512.60,161.60 513.05,161.28 513.62,161.92 514.18,160.81 514.52,161.32 515.09,160.74 515.43,159.68 515.88,159.12 516.22,157.67 517.35,159.55 517.69,159.22 518.02,159.31 518.70,158.68 519.15,158.80 519.61,159.26 520.17,157.95 520.51,158.14 520.96,157.14 521.30,157.14 521.75,156.51 521.98,156.56 522.54,158.07 523.11,156.33 523.67,158.46 523.79,158.62 523.90,158.40 524.24,156.93 524.80,158.39 525.25,158.54 525.71,160.00 526.27,158.93 526.61,159.74 527.06,159.05 527.51,160.21 528.08,158.51 528.53,160.33 528.64,160.39 528.98,159.14 529.55,160.72 530.00,159.83 530.34,160.13 530.68,159.41 531.02,159.23 532.37,163.54 532.94,162.32 533.84,165.48 534.29,166.06 534.52,165.94 534.97,164.54 535.42,164.80 535.87,164.79 536.89,165.80 537.34,165.42 537.79,167.28 538.13,165.90 538.25,165.68 538.47,165.84 538.59,165.72 538.92,164.85 539.26,165.26 539.60,165.12 539.83,165.25 540.28,165.01 540.51,165.20 540.84,166.33 541.75,166.82 542.31,168.10 543.67,165.49 544.23,166.61 544.80,166.14 545.25,165.37 545.70,165.75 546.04,165.71 546.95,163.29 547.17,163.34 547.74,164.59 548.08,164.74 548.98,160.67 549.43,160.80 549.88,159.95 550.45,162.11 551.01,159.31 551.35,158.87 552.03,161.75 552.26,161.80 552.82,160.60 554.06,161.94 555.19,166.11 555.76,164.24 556.44,167.62 556.89,167.25 557.23,167.84 557.45,167.89 558.13,169.68 558.58,168.84 559.03,169.17 559.60,170.41 560.16,169.63 560.95,173.54 561.63,172.00 561.86,171.99 562.42,173.85 562.99,174.43 563.55,174.15 564.00,174.37 564.68,176.89 565.02,176.66 565.47,175.33 566.04,175.31 566.38,174.83 566.83,177.65 566.94,177.86 567.17,177.84 567.62,178.59 568.64,177.29 568.98,178.55 569.20,178.71 569.99,176.70 570.67,179.12 572.03,179.54 572.59,178.73 573.27,180.11 573.83,178.58 574.40,179.92 574.74,179.94 575.30,178.36 575.53,178.35 576.54,180.12 577.00,179.66 577.34,179.61 577.90,178.43 578.24,179.14 578.80,179.74 579.26,179.60 579.82,181.68 580.39,180.17 580.84,180.72 581.29,178.29 581.74,177.18 582.42,180.40 582.98,179.50 583.66,177.70 584.23,178.63 584.68,177.77 585.13,178.23 585.36,178.23 585.81,177.35 586.37,178.93 586.71,178.64 587.16,178.68 587.73,177.11 588.18,178.29 588.41,178.36 589.20,177.55 589.76,175.43 589.99,175.70 590.55,178.34 590.89,179.10 591.12,179.17 591.34,178.95 592.02,176.93 592.47,176.13 593.15,179.47 593.49,178.85 593.83,179.16 594.40,177.38 595.07,179.92 595.98,178.13 596.54,180.28 597.11,178.70 597.67,180.80 598.35,182.01 598.58,181.66 598.91,180.02 599.25,180.46 599.59,179.88 600.04,180.79 600.38,180.02 600.95,179.66 601.29,180.54 601.63,179.78 601.74,179.84 602.19,181.14 602.42,181.31 602.76,181.13 603.09,181.79 603.77,181.55 604.22,180.52 604.79,182.21 605.47,182.71 605.92,182.54 606.37,181.91 606.71,182.98 607.50,182.76 608.07,183.60 608.52,182.40 609.42,184.41 610.10,182.68 610.55,182.19 611.12,184.24 611.68,183.15 611.91,183.09 612.58,183.71 613.15,182.67 613.60,184.68 613.94,185.17 614.28,184.72 614.62,183.03 614.73,182.72 614.84,182.79" stroke="#c0c1de" stroke-width="1.80"/><path d="M396.58,255.30 399.74,255.23 400.42,254.91 400.76,254.05 401.77,247.07 402.56,233.05 403.58,203.57 404.37,162.97 404.82,132.15 405.61,45.50 406.97,17.53 418.15,17.53 418.27,17.89 419.96,50.35 422.11,116.54 422.90,132.88 424.48,143.75 426.06,149.63 427.53,156.48 428.43,158.62 428.66,158.75 429.00,158.37 429.11,158.56 429.56,160.65 430.36,162.05 430.81,162.03 431.37,161.57 432.28,161.60 432.61,161.83 433.07,160.98 433.41,161.10 434.20,159.87 434.76,160.27 435.33,158.08 435.78,157.80 436.34,156.07 436.68,156.15 436.79,156.00 437.36,152.85 437.81,153.26 438.26,152.16 438.72,152.25 439.39,150.67 440.07,150.22 441.77,146.24 441.99,145.97 442.56,145.97 443.12,143.66 444.70,139.12 445.38,138.44 446.17,135.60 446.74,135.17 447.30,133.41 447.87,132.73 448.54,130.49 449.11,129.85 449.56,128.00 450.35,127.66 450.80,126.52 451.26,126.34 451.82,125.45 452.39,122.54 452.61,122.51 452.95,123.09 453.52,121.91 453.85,122.14 453.97,122.00 454.42,120.83 454.76,120.63 455.44,119.33 455.89,117.87 456.57,117.04 457.02,117.65 457.47,116.18 458.71,113.91 459.62,113.13 460.29,113.65 460.97,111.36 461.54,112.52 462.44,111.09 463.01,111.72 463.46,111.35 463.91,111.66 464.36,111.46 464.93,112.13 465.38,112.18 465.83,112.88 466.39,112.30 467.07,114.34 467.30,114.45 467.75,113.98 468.31,116.79 468.65,117.58 469.11,117.80 469.56,116.93 469.78,117.02 470.46,119.69 470.91,119.60 471.25,120.23 471.48,120.25 471.70,120.58 472.50,123.54 473.06,122.54 473.96,124.41 474.42,124.52 474.87,125.99 475.21,126.10 475.88,127.40 476.45,129.39 477.13,130.20 478.26,132.38 479.05,135.26 479.61,135.86 480.52,138.37 480.63,138.53 480.97,138.30 481.08,138.46 481.98,142.65 484.02,146.13 484.70,146.87 485.49,148.97 486.16,151.68 486.62,151.43 487.18,151.91 487.86,154.10 488.31,153.17 488.54,153.23 489.78,156.21 489.89,156.29 490.23,156.03 490.46,156.28 491.02,158.29 491.36,157.67 491.70,157.70 492.04,157.29 492.72,158.81 493.85,160.53 494.19,160.37 494.30,160.48 494.86,162.81 494.98,162.89 495.54,162.42 496.22,163.55 496.78,162.88 497.91,164.78 498.14,164.60 498.59,162.95 499.27,163.76 500.06,162.07 500.40,162.13 500.85,162.88 501.76,161.56 502.32,162.27 502.89,161.24 503.34,161.69 504.69,160.87 505.37,159.38 506.05,160.36 506.95,158.81 507.40,159.09 507.97,158.23 508.42,158.49 509.55,156.95 510.00,157.44 510.68,157.03 511.25,158.05 511.81,157.41 512.26,157.64 512.71,157.01 513.62,156.37 513.96,156.51 514.75,154.40 515.43,155.40 515.99,154.62 516.56,154.88 516.89,155.36 517.80,154.00 517.91,153.95 518.36,154.74 519.83,153.51 520.28,154.04 520.51,154.06 521.41,153.42 521.98,152.43 522.43,153.08 522.99,152.86 523.33,153.40 523.79,152.93 524.24,154.07 525.03,153.12 525.59,154.10 525.93,154.31 526.61,153.25 527.06,153.63 527.40,154.33 527.85,154.18 528.53,155.14 528.87,154.60 529.43,154.66 529.77,154.49 530.90,155.33 531.47,155.25 532.15,156.62 532.60,156.37 533.05,157.26 533.50,157.15 533.73,157.32 534.07,158.25 534.63,158.48 535.31,159.90 535.99,158.52 536.44,158.33 537.12,159.89 538.02,159.65 538.47,159.79 538.92,159.27 539.94,160.97 540.62,160.44 541.18,160.95 541.52,160.77 542.09,161.94 542.77,161.20 543.56,162.49 544.23,163.10 545.25,162.16 545.82,163.05 546.04,162.81 546.38,162.83 546.83,162.05 547.06,161.97 547.62,163.29 548.08,165.40 548.19,165.51 548.53,164.81 548.98,166.13 549.66,163.54 550.45,165.86 550.90,165.32 551.58,166.18 551.92,166.13 552.26,166.49 552.82,166.30 553.72,166.85 554.06,167.40 554.51,166.72 554.97,166.68 555.53,167.30 555.98,167.22 556.44,167.70 556.77,167.69 557.23,168.57 557.79,168.01 558.92,169.69 559.71,169.70 560.28,169.11 561.86,170.90 562.31,170.31 563.33,170.62 563.67,170.47 564.12,171.52 564.57,170.48 564.91,170.80 565.47,172.33 566.04,170.96 566.60,172.84 567.51,171.91 568.07,172.65 568.64,171.43 568.86,171.42 569.65,172.65 570.22,172.54 571.24,174.30 571.69,173.49 572.14,173.57 572.48,173.41 573.04,175.26 573.95,173.29 574.51,174.12 574.96,173.98 575.42,174.35 576.32,173.98 576.88,174.18 577.22,173.90 577.90,175.45 578.47,173.89 579.03,174.31 580.05,173.14 580.95,176.03 581.18,176.24 581.74,175.51 582.31,176.12 582.98,174.70 583.66,175.88 584.23,174.91 584.68,176.35 585.13,175.23 585.58,175.61 585.92,175.31 586.49,175.26 587.28,175.96 588.07,175.06 588.75,176.23 589.20,175.90 589.76,174.58 590.33,176.03 591.12,174.61 591.68,176.00 592.14,176.64 592.36,176.53 592.70,175.71 593.04,175.89 593.49,175.58 594.06,176.17 594.51,175.90 595.52,177.47 595.98,177.51 596.43,178.00 597.45,176.94 598.12,176.93 598.91,177.65 599.37,176.78 599.93,176.52 600.38,177.05 600.72,177.11 600.95,177.60 601.40,176.95 602.42,178.38 603.32,176.76 603.66,176.88 604.11,178.18 604.68,177.09 605.35,177.80 605.81,177.69 606.37,179.79 607.27,177.74 607.84,178.85 608.97,179.20 609.87,178.06 610.89,179.03 611.34,178.29 611.57,178.28 612.02,178.53 612.47,179.62 612.81,179.17 613.37,178.86 614.05,178.81 614.39,179.03 614.84,178.15" stroke="#a7a4ce" stroke-width="1.80"/><path d="M396.58,255.30 399.85,255.25 400.64,254.88 400.87,254.37 401.89,248.06 402.68,235.00 403.58,210.98 404.37,174.18 405.05,132.22 405.95,48.67 407.31,17.53 417.25,17.53 418.94,53.69 420.87,117.77 421.66,134.53 423.12,147.00 424.48,156.62 425.72,163.85 426.97,169.20 427.98,170.68 428.55,172.72 429.23,173.92 429.79,174.38 430.24,175.69 431.15,173.60 431.37,173.58 431.94,174.02 432.95,173.26 433.86,171.78 434.76,169.62 435.33,170.19 435.67,169.84 436.12,169.76 437.02,168.16 437.47,167.97 438.15,166.11 438.94,165.55 439.51,164.33 440.18,164.14 440.64,162.97 441.20,162.89 442.78,158.94 443.01,158.80 443.46,159.18 443.69,158.85 444.48,155.83 444.82,155.35 445.27,155.17 445.72,153.87 446.17,153.38 446.62,151.04 447.08,150.88 447.75,149.83 448.88,147.01 449.56,146.31 450.01,145.01 450.80,144.39 451.37,142.46 451.82,142.18 452.27,140.95 453.40,140.30 454.19,138.00 454.87,137.34 455.55,135.40 456.11,135.02 456.90,132.93 457.36,132.52 457.81,132.56 458.83,131.01 459.39,130.74 459.95,129.29 460.63,129.59 461.31,128.26 461.76,128.64 462.33,127.49 462.67,127.75 463.01,128.49 463.46,128.34 463.91,129.07 464.36,127.92 464.93,129.15 465.83,128.51 466.39,130.01 466.85,129.50 467.30,130.61 467.75,130.04 468.31,130.34 469.22,132.71 469.44,132.88 470.01,132.85 470.91,133.82 471.82,135.26 472.61,135.97 472.95,136.64 473.40,136.97 473.96,138.80 474.08,138.97 474.53,138.74 474.98,140.19 475.09,140.29 475.43,139.79 476.00,140.46 476.56,142.20 477.01,142.66 477.47,144.21 478.03,145.17 478.48,145.35 479.16,146.49 479.61,148.20 480.40,149.51 480.97,151.46 482.66,154.89 483.34,156.86 484.02,157.23 485.15,159.96 485.83,160.37 486.16,160.33 486.62,161.80 486.73,161.98 487.18,161.77 487.41,162.00 488.20,163.96 488.88,163.95 489.44,165.00 490.01,164.42 490.68,165.83 491.70,166.69 492.04,167.61 492.15,167.72 492.49,167.15 492.83,167.36 493.85,170.02 494.07,170.08 494.53,169.28 494.75,169.27 495.77,170.80 496.33,170.38 496.90,170.73 497.24,170.17 497.80,169.81 498.25,170.27 499.16,170.45 500.63,170.30 501.19,169.70 501.76,169.68 502.32,169.94 503.22,169.80 503.90,167.97 504.35,168.17 504.81,168.04 505.71,168.42 506.27,167.52 506.95,167.09 507.86,168.05 508.53,166.51 509.32,166.45 510.00,165.12 510.45,166.32 510.91,165.70 511.36,165.77 511.92,164.73 512.38,164.52 512.83,163.96 513.17,164.31 513.50,164.27 513.96,165.30 514.52,164.14 514.97,163.81 515.43,162.93 516.10,164.12 516.56,162.38 516.78,162.37 517.12,162.86 517.57,161.65 518.02,161.92 518.59,161.36 519.04,161.89 519.61,160.91 520.40,161.62 521.19,160.59 521.64,160.84 522.09,160.10 522.54,160.63 522.99,160.18 523.33,160.29 523.79,159.81 524.58,160.74 525.14,160.08 525.71,159.89 526.50,161.21 526.95,160.04 527.51,159.95 527.85,159.52 528.42,160.45 528.98,160.17 529.43,160.64 529.77,160.52 530.23,160.89 530.56,160.82 531.35,162.17 531.92,162.02 532.37,161.18 532.94,162.35 533.50,162.72 534.07,162.44 534.74,162.97 535.08,163.64 535.54,163.58 536.10,164.32 536.78,164.52 537.23,163.93 537.79,164.51 538.47,163.71 539.15,164.05 539.94,164.92 540.73,165.04 541.30,164.39 541.75,165.47 542.20,165.07 542.77,165.78 543.56,165.59 544.01,166.25 544.35,166.10 544.91,166.90 545.82,166.31 546.38,166.84 546.83,166.60 547.28,167.26 547.96,167.31 548.41,167.86 548.98,167.48 549.43,168.27 549.88,168.26 551.01,169.40 551.69,168.68 552.37,168.66 553.27,170.52 553.72,169.82 554.18,170.51 554.97,169.97 555.42,170.37 555.98,170.11 557.23,171.33 557.79,170.87 558.24,171.77 558.92,171.75 559.37,172.29 560.28,171.65 560.84,171.82 561.41,173.04 561.97,172.49 562.54,173.15 562.99,172.61 563.33,172.88 563.67,172.74 564.12,173.64 564.57,173.94 564.91,173.89 565.25,174.24 565.70,173.43 566.04,173.66 566.49,173.24 567.17,174.66 567.85,174.63 568.86,175.71 569.09,175.62 569.54,174.71 570.11,174.91 570.44,175.29 571.01,174.42 571.46,174.93 571.91,174.43 572.59,175.63 573.38,175.79 573.83,176.36 574.29,176.25 574.62,176.40 575.08,176.10 575.53,176.67 576.32,176.12 577.11,176.94 577.56,176.28 577.90,176.42 578.69,176.19 579.26,176.83 579.93,176.73 580.39,177.48 580.84,176.98 581.52,176.83 582.08,177.21 582.53,176.58 583.89,177.24 584.45,177.18 585.02,178.22 585.70,177.25 586.26,178.19 587.73,178.34 588.29,179.01 588.97,178.10 589.99,177.66 590.55,178.48 591.01,177.85 591.57,178.77 592.02,178.11 592.47,178.38 592.93,179.02 593.49,178.46 593.94,178.73 594.28,178.58 594.62,178.73 595.07,178.32 596.88,178.81 597.33,178.41 598.24,179.47 599.03,178.93 599.82,179.65 600.27,178.80 600.61,179.11 601.06,178.46 601.85,179.40 602.42,179.28 602.87,179.71 603.43,179.13 603.77,179.04 604.22,179.71 604.56,179.56 605.01,179.96 605.58,179.29 606.03,180.16 606.82,178.62 607.27,179.45 607.39,179.55 607.84,179.09 608.29,179.90 608.97,179.00 609.53,180.07 610.10,180.01 610.55,180.28 611.00,179.41 611.45,180.18 612.02,180.23 612.58,180.95 613.04,180.80 613.60,179.94 614.28,181.25 614.84,180.35" stroke="#8d89c0" stroke-width="1.80"/><path d="M396.58,255.30 400.08,255.24 400.76,254.96 401.09,254.29 402.11,247.80 402.90,234.43 403.81,210.07 404.48,178.62 405.27,132.25 406.29,52.48 406.97,31.72 407.65,17.53 415.89,17.53 416.01,17.74 417.48,52.86 419.17,113.97 419.96,134.18 422.00,160.01 423.92,178.81 425.61,189.83 426.51,193.23 427.31,194.66 427.87,194.80 428.89,194.57 431.03,193.24 433.07,191.24 437.47,186.19 439.96,182.77 446.85,171.77 455.21,161.69 457.13,159.80 458.83,158.50 460.41,157.71 461.88,157.40 464.02,157.77 466.39,159.10 468.77,161.08 474.30,166.37 477.13,169.68 483.45,178.38 486.39,181.54 487.63,182.47 491.47,184.66 493.40,185.51 495.09,185.96 497.24,186.01 499.61,185.48 502.21,184.42 508.99,181.01 518.25,177.53 523.11,176.07 527.06,175.58 530.34,175.73 534.07,176.26 553.72,180.46 558.13,181.15 567.73,181.78 614.84,183.97" stroke="#776ab0" stroke-width="1.80"/><path d="M396.58,255.30 400.08,255.28 400.98,254.95 401.21,254.56 402.22,248.70 403.02,236.32 403.92,213.14 404.48,188.96 406.74,50.61 407.99,17.53 415.44,17.53 416.91,52.52 418.83,114.62 419.62,133.31 421.77,161.09 423.80,181.81 425.61,194.14 426.51,197.70 427.31,199.20 428.21,199.30 429.56,198.76 430.92,197.76 432.39,196.30 438.49,189.18 445.16,179.80 448.09,176.43 454.08,170.98 457.47,168.31 460.63,166.54 462.10,166.04 463.57,165.80 465.60,166.00 467.75,166.93 470.12,168.54 474.19,171.81 476.68,174.66 482.21,182.54 484.70,185.16 490.91,189.32 493.17,190.36 495.20,190.88 497.91,190.84 500.96,190.07 512.49,185.24 520.06,181.78 522.99,180.84 525.48,180.48 531.02,180.89 543.78,183.21 563.89,184.97 579.37,185.54 614.84,186.07" stroke="#64459d" stroke-width="1.80"/><path d="M396.58,255.30 400.30,255.28 401.21,254.93 401.43,254.49 402.45,248.46 403.13,238.12 404.37,203.62 406.97,58.98 408.33,17.53 415.10,17.53 415.22,17.84 416.69,54.16 418.49,112.96 419.40,134.19 421.66,163.37 423.69,184.07 425.50,196.52 426.40,200.21 427.31,202.00 427.98,202.13 429.11,201.72 431.26,199.85 439.05,189.77 444.36,182.49 447.53,178.98 453.18,174.67 456.90,172.24 460.18,170.71 463.23,170.02 465.26,170.10 467.41,170.82 469.78,172.16 473.74,174.92 476.22,177.26 481.76,184.31 484.24,186.90 491.02,191.45 493.40,192.53 495.43,193.01 498.25,192.86 501.42,191.87 512.04,186.69 519.49,182.51 521.98,181.55 524.12,181.18 530.11,181.60 543.67,183.90 564.46,185.70 579.82,186.24 614.84,186.76" stroke="#51218c" stroke-width="1.80"/><path d="M396.58,255.30 400.42,255.29 401.21,255.04 401.55,254.72 402.00,252.97 402.56,249.27 403.24,239.83 404.48,207.25 407.31,61.74 408.66,17.53 414.88,17.53 414.99,18.60 416.46,55.88 418.38,117.92 419.17,135.01 421.54,165.52 423.58,186.09 424.59,193.86 425.50,199.14 426.40,202.72 427.31,204.46 427.98,204.57 429.11,204.18 431.26,202.37 444.14,186.11 447.30,182.67 452.27,178.80 455.21,176.81 457.92,175.47 460.29,174.91 462.89,175.05 465.72,175.82 468.88,177.21 473.85,179.87 476.56,181.87 482.10,187.26 484.47,189.22 491.59,193.78 493.85,194.75 495.77,195.14 498.59,194.86 501.87,193.62 511.92,188.03 519.15,183.26 521.30,182.29 523.22,181.89 525.93,181.97 528.98,182.37 542.31,185.15 552.14,185.91 573.61,186.79 614.84,187.46" stroke="#3f007d" stroke-width="1.80"/><path d="M396.58,255.30 400.98,255.29 401.77,255.04 402.11,254.71 402.68,252.31 403.24,248.30 403.92,238.81 405.27,204.83 406.86,130.21 409.68,17.53 411.38,17.53 411.49,19.37 412.17,47.12 414.31,101.31 416.01,134.07 418.27,167.82 419.40,179.33 421.09,190.23 421.88,193.77 423.12,197.83 424.03,200.22 424.71,201.27 425.05,201.45 425.84,201.41 427.87,200.90 429.79,199.93 431.82,198.46 436.23,194.12 445.16,183.37 449.00,179.27 451.14,177.42 453.06,176.14 454.98,175.27 456.79,174.90 458.60,174.95 460.52,175.32 462.55,176.02 464.70,177.04 469.33,180.01 478.93,187.49 483.00,190.30 487.29,192.47 489.33,193.09 491.25,193.38 494.64,193.14 498.37,191.95 502.43,189.87 510.79,184.65 514.41,182.64 518.14,181.13 521.53,180.49 524.80,180.60 528.53,181.15 540.51,184.22 544.80,185.09 558.58,186.18 569.31,186.40 590.67,185.61 614.84,185.37" stroke="#7f7f7f" stroke-width="2.3" stroke-dasharray="7.4 3.2"/></g>
<g font-size="8.1" fill="#222"><text transform="translate(593.6,128.0) rotate(-46.5)" text-anchor="middle">octahedral</text><text transform="translate(603.2,135.8) rotate(-46.5)" text-anchor="middle">pore</text></g>
<g stroke="#262626" stroke-width="0.80" fill="none">
<path d="M388.95,45.50 V255.30 H614.90 V45.50 Z"/>
<path d="M388.95,255.30 v3.0"/>
<path d="M445.44,255.30 v3.0"/>
<path d="M501.92,255.30 v3.0"/>
<path d="M558.41,255.30 v3.0"/>
<path d="M614.90,255.30 v3.0"/>
<path d="M388.95,255.30 h-3.2"/>
<path d="M388.95,220.33 h-3.2"/>
<path d="M388.95,185.37 h-3.2"/>
<path d="M388.95,150.40 h-3.2"/>
<path d="M388.95,115.43 h-3.2"/>
<path d="M388.95,80.47 h-3.2"/>
<path d="M388.95,45.50 h-3.2"/>
</g>
<g font-size="14" fill="#1a1a1a">
<text x="388.95" y="270.70" text-anchor="middle" textLength="6.6" lengthAdjust="spacingAndGlyphs">2</text>
<text x="445.44" y="270.70" text-anchor="middle" textLength="6.6" lengthAdjust="spacingAndGlyphs">4</text>
<text x="501.92" y="270.70" text-anchor="middle" textLength="6.6" lengthAdjust="spacingAndGlyphs">6</text>
<text x="558.41" y="270.70" text-anchor="middle" textLength="6.6" lengthAdjust="spacingAndGlyphs">8</text>
<text x="614.90" y="270.70" text-anchor="middle" textLength="13.2" lengthAdjust="spacingAndGlyphs">10</text>
<text x="382.75" y="260.40" text-anchor="end" textLength="17.8" lengthAdjust="spacingAndGlyphs">0.0</text>
<text x="382.75" y="225.43" text-anchor="end" textLength="17.8" lengthAdjust="spacingAndGlyphs">0.5</text>
<text x="382.75" y="190.47" text-anchor="end" textLength="17.8" lengthAdjust="spacingAndGlyphs">1.0</text>
<text x="382.75" y="155.50" text-anchor="end" textLength="17.8" lengthAdjust="spacingAndGlyphs">1.5</text>
<text x="382.75" y="120.53" text-anchor="end" textLength="17.8" lengthAdjust="spacingAndGlyphs">2.0</text>
<text x="382.75" y="85.57" text-anchor="end" textLength="17.8" lengthAdjust="spacingAndGlyphs">2.5</text>
<text x="382.75" y="50.60" text-anchor="end" textLength="17.8" lengthAdjust="spacingAndGlyphs">3.0</text>
</g>
<text x="501.92" y="41.10" font-size="16.4" text-anchor="middle" fill="#111" textLength="50.6" lengthAdjust="spacingAndGlyphs">UiO-67</text>
<rect x="628.80" y="45.50" width="10.75" height="209.80" fill="url(#g1)" stroke="#262626" stroke-width="0.8"/>
<g stroke="#262626" stroke-width="0.8">
<path d="M639.55,255.30 h2.6"/>
<path d="M639.55,202.85 h2.6"/>
<path d="M639.55,150.40 h2.6"/>
<path d="M639.55,97.95 h2.6"/>
<path d="M639.55,45.50 h2.6"/>
</g><g font-size="13.9" fill="#1a1a1a">
<text x="644.85" y="260.80" textLength="14.0" lengthAdjust="spacingAndGlyphs">50</text>
<text x="644.85" y="208.35" textLength="21.0" lengthAdjust="spacingAndGlyphs">160</text>
<text x="644.85" y="155.90" textLength="21.0" lengthAdjust="spacingAndGlyphs">270</text>
<text x="644.85" y="103.45" textLength="21.0" lengthAdjust="spacingAndGlyphs">380</text>
<text x="644.85" y="51.00" textLength="21.0" lengthAdjust="spacingAndGlyphs">490</text>
</g>
<g font-size="12.6" fill="#1a1a1a"><text x="628.80" y="11.2" font-size="15.8" textLength="10.2" lengthAdjust="spacingAndGlyphs">#</text><text x="645.20" y="9.6" textLength="32.8" lengthAdjust="spacingAndGlyphs">water</text><text x="628.80" y="26.8" textLength="56.4" lengthAdjust="spacingAndGlyphs">molecules</text></g>
<path d="M144.20,359.40 L155.60,365.30 L176.70,365.30 L180.30,354.10" stroke="#9a9a9a" stroke-width="0.6" stroke-dasharray="1.1 1.1" fill="none"/><path d="M155.60,365.30 L154.60,384.00 L172.00,383.00 L176.70,365.30" stroke="#9a9a9a" stroke-width="0.6" stroke-dasharray="1.1 1.1" fill="none"/><path d="M154.60,384.00 L147.70,390.90" stroke="#9a9a9a" stroke-width="0.6" stroke-dasharray="1.1 1.1" fill="none"/><path d="M172.00,383.00 L185.20,397.80" stroke="#9a9a9a" stroke-width="0.6" stroke-dasharray="1.1 1.1" fill="none"/><circle cx="155.60" cy="365.30" r="7.3" fill="#dcdcf9"/><circle cx="176.70" cy="365.30" r="7.3" fill="#cfeccf"/><circle cx="154.60" cy="384.00" r="7.3" fill="#cfeccf"/><circle cx="172.00" cy="383.00" r="7.3" fill="#dcdcf9"/><circle cx="151.94" cy="363.97" r="1.45" fill="url(#hW)" stroke="#8a8a8a" stroke-width="0.35"/><circle cx="155.60" cy="365.30" r="3.10" fill="url(#oP)"/><circle cx="159.26" cy="366.63" r="1.45" fill="url(#hW)" stroke="#8a8a8a" stroke-width="0.35"/><circle cx="178.65" cy="361.92" r="1.45" fill="url(#hW)" stroke="#8a8a8a" stroke-width="0.35"/><circle cx="176.70" cy="365.30" r="3.10" fill="url(#oG)"/><circle cx="176.70" cy="369.20" r="1.45" fill="url(#hW)" stroke="#8a8a8a" stroke-width="0.35"/><circle cx="156.55" cy="380.62" r="1.45" fill="url(#hW)" stroke="#8a8a8a" stroke-width="0.35"/><circle cx="154.60" cy="384.00" r="3.10" fill="url(#oG)"/><circle cx="154.60" cy="387.90" r="1.45" fill="url(#hW)" stroke="#8a8a8a" stroke-width="0.35"/><circle cx="168.10" cy="383.00" r="1.45" fill="url(#hW)" stroke="#8a8a8a" stroke-width="0.35"/><circle cx="172.00" cy="383.00" r="3.10" fill="url(#oP)"/><circle cx="173.95" cy="386.38" r="1.45" fill="url(#hW)" stroke="#8a8a8a" stroke-width="0.35"/><circle cx="141.21" cy="356.89" r="1.45" fill="url(#hW)" stroke="#8a8a8a" stroke-width="0.35"/><circle cx="144.20" cy="359.40" r="3.10" fill="url(#oR)"/><circle cx="147.86" cy="358.07" r="1.45" fill="url(#hW)" stroke="#8a8a8a" stroke-width="0.35"/><circle cx="182.25" cy="350.72" r="1.45" fill="url(#hW)" stroke="#8a8a8a" stroke-width="0.35"/><circle cx="180.30" cy="354.10" r="3.10" fill="url(#oR)"/><circle cx="184.14" cy="353.42" r="1.45" fill="url(#hW)" stroke="#8a8a8a" stroke-width="0.35"/><circle cx="146.37" cy="387.24" r="1.45" fill="url(#hW)" stroke="#8a8a8a" stroke-width="0.35"/><circle cx="147.70" cy="390.90" r="3.10" fill="url(#oR)"/><circle cx="146.37" cy="394.56" r="1.45" fill="url(#hW)" stroke="#8a8a8a" stroke-width="0.35"/><circle cx="184.52" cy="401.64" r="1.45" fill="url(#hW)" stroke="#8a8a8a" stroke-width="0.35"/><circle cx="185.20" cy="397.80" r="3.10" fill="url(#oR)"/><circle cx="187.15" cy="401.18" r="1.45" fill="url(#hW)" stroke="#8a8a8a" stroke-width="0.35"/><path d="M212.40,358.40 L225.60,365.30 L245.90,365.30 L251.20,353.50" stroke="#9a9a9a" stroke-width="0.6" stroke-dasharray="1.1 1.1" fill="none"/><path d="M225.60,365.30 L224.60,384.00 L241.70,383.00 L245.90,365.30" stroke="#9a9a9a" stroke-width="0.6" stroke-dasharray="1.1 1.1" fill="none"/><path d="M224.60,384.00 L216.70,390.90" stroke="#9a9a9a" stroke-width="0.6" stroke-dasharray="1.1 1.1" fill="none"/><path d="M241.70,383.00 L254.20,398.80" stroke="#9a9a9a" stroke-width="0.6" stroke-dasharray="1.1 1.1" fill="none"/><circle cx="212.40" cy="358.40" r="7.3" fill="#fcd5d1"/><circle cx="251.20" cy="353.50" r="7.3" fill="#dcdcf9"/><circle cx="225.60" cy="365.30" r="7.3" fill="#dcdcf9"/><circle cx="245.90" cy="365.30" r="7.3" fill="#fcd5d1"/><circle cx="224.60" cy="384.00" r="7.3" fill="#cfeccf"/><circle cx="241.70" cy="383.00" r="7.3" fill="#fde7c6"/><circle cx="216.70" cy="390.90" r="7.3" fill="#fde7c6"/><circle cx="254.20" cy="398.80" r="7.3" fill="#cfeccf"/><circle cx="209.41" cy="355.89" r="1.45" fill="url(#hW)" stroke="#8a8a8a" stroke-width="0.35"/><circle cx="212.40" cy="358.40" r="3.10" fill="url(#oR)"/><circle cx="211.07" cy="354.74" r="1.45" fill="url(#hW)" stroke="#8a8a8a" stroke-width="0.35"/><circle cx="253.15" cy="350.12" r="1.45" fill="url(#hW)" stroke="#8a8a8a" stroke-width="0.35"/><circle cx="251.20" cy="353.50" r="3.10" fill="url(#oP)"/><circle cx="254.86" cy="354.83" r="1.45" fill="url(#hW)" stroke="#8a8a8a" stroke-width="0.35"/><circle cx="221.94" cy="363.97" r="1.45" fill="url(#hW)" stroke="#8a8a8a" stroke-width="0.35"/><circle cx="225.60" cy="365.30" r="3.10" fill="url(#oP)"/><circle cx="229.26" cy="366.63" r="1.45" fill="url(#hW)" stroke="#8a8a8a" stroke-width="0.35"/><circle cx="247.85" cy="361.92" r="1.45" fill="url(#hW)" stroke="#8a8a8a" stroke-width="0.35"/><circle cx="245.90" cy="365.30" r="3.10" fill="url(#oR)"/><circle cx="245.90" cy="369.20" r="1.45" fill="url(#hW)" stroke="#8a8a8a" stroke-width="0.35"/><circle cx="226.55" cy="380.62" r="1.45" fill="url(#hW)" stroke="#8a8a8a" stroke-width="0.35"/><circle cx="224.60" cy="384.00" r="3.10" fill="url(#oG)"/><circle cx="224.60" cy="387.90" r="1.45" fill="url(#hW)" stroke="#8a8a8a" stroke-width="0.35"/><circle cx="237.80" cy="383.00" r="1.45" fill="url(#hW)" stroke="#8a8a8a" stroke-width="0.35"/><circle cx="241.70" cy="383.00" r="3.10" fill="url(#oO)"/><circle cx="243.65" cy="386.38" r="1.45" fill="url(#hW)" stroke="#8a8a8a" stroke-width="0.35"/><circle cx="215.37" cy="387.24" r="1.45" fill="url(#hW)" stroke="#8a8a8a" stroke-width="0.35"/><circle cx="216.70" cy="390.90" r="3.10" fill="url(#oO)"/><circle cx="218.65" cy="387.52" r="1.45" fill="url(#hW)" stroke="#8a8a8a" stroke-width="0.35"/><circle cx="253.52" cy="402.64" r="1.45" fill="url(#hW)" stroke="#8a8a8a" stroke-width="0.35"/><circle cx="254.20" cy="398.80" r="3.10" fill="url(#oG)"/><circle cx="256.15" cy="402.18" r="1.45" fill="url(#hW)" stroke="#8a8a8a" stroke-width="0.35"/><circle cx="214.40" cy="374.80" r="4.90" fill="#c9def1"/><text x="214.40" y="378.11" font-family="Liberation Sans, sans-serif" font-weight="bold" font-size="9.2" text-anchor="middle" fill="#3f86c4">1</text><circle cx="196.00" cy="331.80" r="6.30" fill="#c6dcdc"/><text x="196.00" y="335.76" font-family="Liberation Sans, sans-serif" font-weight="bold" font-size="11.0" text-anchor="middle" fill="#2b6b6e">3</text><circle cx="100.60" cy="492.80" r="4.80" fill="#d2e4f3"/><text x="100.60" y="496.11" font-family="Liberation Sans, sans-serif" font-weight="bold" font-size="9.2" text-anchor="middle" fill="#3f86c4">1</text><path d="M107.80,492.80 h7.00 M111.30,489.30 v7.00" stroke="#8fbbe0" stroke-width="0.9"/><circle cx="121.80" cy="492.80" r="4.80" fill="#d2e4f3"/><text x="121.80" y="496.11" font-family="Liberation Sans, sans-serif" font-weight="bold" font-size="9.2" text-anchor="middle" fill="#3f86c4">2</text><path d="M128.70,492.80 h7.00 M132.20,489.30 v7.00" stroke="#99b9b9" stroke-width="0.9"/><circle cx="142.70" cy="492.80" r="4.80" fill="#c6dcdc"/><text x="142.70" y="496.11" font-family="Liberation Sans, sans-serif" font-weight="bold" font-size="9.2" text-anchor="middle" fill="#2b6b6e">3</text>
<g clip-path="url(#c2)" fill="none" stroke-linejoin="round" stroke-linecap="round"><path d="M46.47,528.30 49.40,528.25 50.19,527.90 50.41,527.42 51.43,521.22 52.22,508.22 53.24,480.72 54.02,444.12 54.70,404.26 55.72,320.08 57.18,290.41 70.27,290.41 71.85,310.42 72.98,321.32 73.77,326.75 74.45,329.65 76.03,341.81 77.49,360.71 78.73,372.94 79.52,386.51 81.78,407.85 82.91,415.03 83.25,418.39 83.70,419.63 84.26,425.31 85.39,431.31 86.07,433.32 86.41,433.29 87.08,434.34 87.53,437.12 87.87,436.88 88.66,438.85 88.89,438.74 89.34,437.89 89.79,436.27 90.35,437.53 91.03,436.61 92.27,429.40 93.18,427.36 93.63,423.79 93.74,423.38 93.85,423.43 94.08,424.21 94.19,424.16 94.87,417.56 95.43,415.42 96.00,408.32 96.45,407.08 96.90,402.49 97.35,401.33 97.91,394.04 98.48,390.67 98.59,390.29 98.93,390.47 99.04,389.98 99.61,383.19 100.17,380.64 100.62,375.35 101.19,373.29 101.75,367.72 102.09,366.08 102.43,365.88 102.65,365.05 104.01,354.79 104.12,354.53 104.46,355.25 104.57,355.05 105.36,346.80 105.59,346.22 105.92,346.71 106.04,346.17 106.49,341.86 106.94,340.48 107.39,335.37 107.96,333.72 108.41,329.50 108.86,328.31 109.20,325.34 109.65,324.14 109.99,320.97 110.78,317.74 111.45,310.68 112.47,306.29 112.58,306.17 112.81,306.33 112.92,306.15 113.48,304.40 114.50,295.84 115.74,290.41 125.22,290.41 125.89,297.53 126.01,297.64 126.23,297.02 126.35,297.15 127.25,304.66 127.81,306.75 128.38,313.30 129.17,315.37 129.62,318.66 130.29,320.85 132.33,336.42 133.00,339.76 134.13,350.37 135.37,358.82 135.94,360.76 136.61,368.35 137.18,370.45 137.85,375.03 138.31,379.83 139.32,385.15 139.77,389.56 139.88,390.15 140.22,390.37 140.34,390.79 141.13,398.22 141.80,399.73 142.37,402.11 143.16,407.98 143.61,409.74 144.06,413.78 145.30,419.56 145.64,422.76 145.75,423.25 145.98,423.18 146.20,423.87 147.78,434.70 148.80,439.56 149.25,440.60 150.49,451.15 151.05,453.68 151.39,456.46 151.51,456.85 151.84,455.91 151.96,456.23 152.97,464.67 153.42,465.59 154.21,468.32 154.78,471.92 155.23,472.51 155.57,472.57 156.02,474.26 156.36,473.98 156.47,474.12 157.37,476.90 157.94,480.86 158.73,480.08 159.63,482.89 160.42,482.36 161.10,483.82 161.43,483.56 161.77,484.10 162.11,483.52 162.56,485.82 163.01,485.05 163.35,485.42 163.69,485.41 164.25,482.80 164.59,483.61 165.04,483.62 165.50,484.75 165.95,483.96 166.40,485.38 166.85,484.80 167.30,485.72 167.87,486.02 168.32,486.56 168.77,486.12 169.11,486.08 169.44,485.56 169.78,485.86 170.01,485.84 170.35,487.05 170.69,486.94 171.02,488.01 171.48,488.04 171.93,488.52 172.60,485.05 173.28,485.83 174.30,488.62 174.75,487.64 175.09,487.50 175.65,486.00 176.33,488.11 176.44,488.02 176.89,485.25 177.57,486.93 177.91,486.98 178.47,485.63 178.70,485.92 179.04,485.86 179.26,486.03 179.71,487.48 179.82,487.65 180.16,487.60 180.73,485.42 181.29,484.95 181.97,488.19 182.42,487.82 182.76,488.62 182.98,488.64 183.66,486.05 184.11,487.51 184.79,488.46 185.24,490.52 185.69,488.89 185.80,488.77 186.14,489.84 186.59,488.57 186.93,488.27 187.72,491.79 188.17,491.08 188.29,491.15 188.63,492.13 188.96,492.53 189.41,491.00 189.53,490.80 189.64,490.88 190.09,493.52 190.32,493.89 190.88,493.10 191.45,491.79 191.67,491.84 192.35,492.71 194.27,486.67 194.72,487.26 194.94,486.78 195.28,486.68 195.85,482.64 196.75,479.09 196.97,478.58 197.20,478.61 197.31,478.42 198.10,474.89 198.55,475.85 199.23,471.25 200.36,468.46 200.81,468.39 201.71,464.17 202.28,462.88 202.50,462.72 202.84,463.17 203.29,461.94 203.86,461.75 204.20,461.14 204.65,461.99 205.55,460.90 205.89,460.96 206.56,456.97 207.13,458.98 207.69,457.61 208.26,456.82 208.82,459.32 209.84,460.15 210.06,460.09 210.74,457.92 211.30,459.60 211.75,458.66 212.43,461.81 213.22,459.31 214.01,461.15 214.35,461.44 214.91,463.65 215.36,463.38 215.82,463.83 216.27,462.42 216.49,462.32 216.94,463.00 217.40,464.28 217.51,464.34 217.85,463.80 218.86,468.35 219.43,465.91 219.65,465.60 220.22,467.85 220.89,469.00 221.46,469.11 221.80,470.10 222.25,470.25 222.81,470.87 223.26,471.99 223.71,471.55 224.28,473.91 224.95,475.74 225.63,476.04 225.97,475.88 226.53,477.49 226.87,476.36 227.21,476.15 227.66,475.32 228.23,478.67 228.57,479.01 229.02,480.85 229.69,479.88 229.92,479.90 230.26,481.14 231.05,481.55 231.50,484.02 231.61,484.09 232.06,482.25 232.63,483.44 233.08,482.16 233.76,486.99 234.66,482.61 235.11,484.99 235.22,485.09 235.45,484.84 235.56,484.99 236.46,488.14 236.58,488.20 236.91,487.51 237.03,487.74 237.59,491.16 238.04,490.65 238.61,488.16 239.06,488.92 239.51,488.49 240.07,491.30 240.64,490.78 241.09,489.92 241.65,491.73 241.99,492.08 242.56,490.67 243.46,493.60 244.02,492.90 244.14,492.97 244.59,494.18 245.49,494.97 246.05,493.78 246.50,494.14 247.18,497.63 247.29,497.72 247.86,497.15 248.08,497.16 248.87,499.74 249.33,497.42 250.00,500.14 250.68,498.79 251.13,499.72 251.58,498.16 252.26,500.94 252.82,499.65 253.27,500.87 253.61,500.55 254.51,500.21 255.08,497.83 255.42,497.58 255.76,497.81 255.87,497.52 256.32,495.42 256.88,498.22 257.11,498.73 257.22,498.65 257.90,494.91 258.80,497.33 259.37,497.63 260.04,492.96 260.61,492.83 261.06,491.01 261.51,492.09 261.74,492.10 262.30,489.49 262.75,490.08 262.98,490.03 263.43,487.87 264.44,486.91" stroke="#c8ebed" stroke-width="1.80"/><path d="M46.47,528.30 49.62,528.23 50.30,527.93 50.64,527.13 51.54,521.50 52.33,508.83 53.24,485.56 54.02,451.24 54.93,398.33 55.83,324.10 57.41,290.41 69.14,290.41 73.88,361.72 76.93,411.43 78.96,452.03 79.86,464.18 81.89,474.53 82.34,477.78 82.80,478.33 83.81,482.70 84.04,482.90 84.37,482.77 84.49,482.90 85.28,484.83 85.73,483.52 86.07,483.71 86.29,483.62 86.86,486.15 87.31,483.87 87.65,483.81 88.10,482.33 88.55,483.61 88.89,482.92 89.34,483.40 89.68,482.86 90.24,483.56 91.71,479.33 91.82,479.24 92.39,481.41 92.95,480.07 93.29,480.61 93.40,480.70 93.51,480.53 94.98,476.01 95.09,475.95 95.54,477.02 96.11,472.62 96.22,472.41 96.56,473.38 96.67,473.23 97.69,467.21 98.03,467.52 98.25,466.99 98.70,463.47 99.49,459.89 100.06,455.20 100.62,453.87 101.52,448.96 102.09,447.19 102.88,440.35 103.44,438.76 103.89,434.79 104.91,429.48 106.04,420.07 106.60,418.07 107.05,414.47 107.62,411.95 108.63,403.18 109.87,394.92 110.78,391.78 111.45,387.05 112.13,383.92 112.36,383.48 112.69,383.56 113.26,380.94 113.71,380.43 114.27,377.39 114.84,376.45 115.29,373.79 115.63,374.27 115.85,374.02 116.53,369.99 117.09,367.83 117.21,367.73 117.32,367.93 117.66,369.37 117.88,369.59 118.34,367.26 119.24,364.61 119.58,364.44 119.91,365.02 120.37,363.92 120.59,363.77 121.04,365.12 121.61,363.58 122.17,364.91 122.51,363.84 122.96,366.16 123.30,365.88 123.86,367.08 124.43,371.09 124.77,371.31 125.22,374.31 125.67,375.79 126.23,379.83 126.46,380.54 126.80,380.64 126.91,380.90 128.04,386.91 128.49,387.43 128.60,387.95 129.05,392.42 129.62,394.63 130.29,400.32 130.75,402.15 131.08,402.54 131.87,406.84 132.44,411.79 133.57,418.65 136.05,436.49 137.29,442.24 138.08,447.16 138.64,448.40 138.98,450.68 139.43,452.17 139.88,455.41 140.67,458.96 141.13,459.66 141.69,462.99 141.92,463.76 142.25,464.20 143.16,467.96 143.50,468.62 143.95,471.03 144.51,471.82 145.07,474.34 145.53,474.44 146.09,475.12 146.65,476.46 147.11,478.41 147.44,477.68 147.56,477.81 148.69,482.35 148.80,482.56 149.14,482.35 149.47,482.56 149.93,482.03 150.60,484.71 151.17,483.98 151.62,484.25 152.63,487.55 153.09,487.84 153.54,487.11 153.99,487.68 154.55,490.10 154.78,490.07 155.23,488.60 155.57,488.89 155.68,488.74 156.58,486.47 157.15,489.84 157.60,487.95 158.05,489.15 158.16,489.09 158.84,486.99 159.29,488.71 159.97,490.23 160.53,487.95 161.10,488.76 161.66,486.64 162.00,487.30 162.45,489.12 163.01,486.79 163.58,489.49 163.92,490.05 164.59,488.51 165.16,489.56 165.61,487.88 166.17,489.48 166.96,486.74 167.87,489.43 168.43,487.90 168.77,488.95 168.99,489.06 170.35,486.19 171.14,488.37 171.36,488.22 171.81,486.77 172.15,487.15 172.49,486.97 172.83,487.59 173.51,487.18 174.07,488.26 174.52,486.53 175.09,485.40 175.54,486.49 176.21,486.13 176.67,486.62 177.34,486.29 177.57,486.37 178.13,487.89 178.70,485.93 179.15,486.08 179.94,487.07 180.28,486.00 180.84,485.93 181.40,487.33 181.74,487.65 182.31,486.00 182.42,485.84 182.76,486.09 182.87,485.94 183.21,484.83 184.34,485.65 184.79,486.65 185.47,485.30 185.69,485.19 186.14,487.12 186.71,485.13 187.38,485.13 188.63,488.29 189.08,486.71 189.64,486.53 190.09,484.87 190.20,484.73 190.54,485.46 190.88,484.79 191.33,485.30 191.67,486.80 192.12,485.54 192.57,487.00 192.91,487.19 193.59,484.25 194.49,483.06 194.94,484.37 195.17,484.52 196.75,479.46 196.97,479.33 197.31,480.34 197.43,480.53 197.54,480.31 198.10,476.96 198.44,476.49 198.89,474.21 199.01,474.00 199.23,474.28 199.34,474.11 199.79,471.08 200.13,470.85 201.04,466.90 201.15,466.73 201.49,467.19 202.50,465.05 202.84,465.00 203.29,463.36 203.63,463.23 204.20,460.72 204.76,461.29 204.98,461.19 205.55,459.78 205.89,459.45 206.56,459.22 207.02,458.09 208.14,459.29 209.05,456.54 209.61,458.24 210.17,458.77 210.63,460.50 210.74,460.61 210.85,460.45 211.19,459.54 211.75,459.31 211.87,459.46 212.54,462.73 213.11,461.78 213.45,461.72 214.24,463.24 214.69,462.70 214.91,462.78 215.70,464.89 216.27,464.27 216.83,466.41 217.28,465.78 217.62,466.52 218.07,465.77 218.86,469.87 219.20,469.58 219.65,468.21 220.10,469.38 220.22,469.49 220.55,468.78 220.78,468.69 221.68,470.44 222.13,470.34 222.47,471.08 222.92,469.25 223.04,468.92 223.15,468.97 224.17,473.19 224.28,473.37 224.62,473.29 225.18,475.09 225.74,475.42 226.31,473.02 226.99,476.34 227.32,475.85 227.89,476.37 228.23,477.12 228.57,477.10 229.02,479.04 229.58,476.67 230.26,479.85 230.71,480.75 231.16,480.19 231.50,480.68 231.61,480.61 232.06,478.85 232.63,480.59 233.08,481.26 233.30,481.37 233.64,481.01 233.98,481.79 234.32,481.80 234.66,482.33 235.00,482.36 235.67,484.86 236.01,484.88 236.35,485.34 236.91,484.56 237.03,484.68 237.37,485.50 237.70,485.73 238.27,487.55 238.72,486.14 239.17,486.21 239.85,489.34 240.41,488.75 240.86,489.10 241.31,487.76 241.77,489.96 242.33,491.04 242.67,490.74 243.01,491.13 243.35,491.04 243.57,491.28 244.14,491.00 244.47,491.43 244.92,491.42 245.49,492.15 245.94,491.93 246.96,494.87 247.29,494.70 248.31,492.98 248.87,494.40 249.21,493.71 249.33,493.78 250.68,496.58 251.36,495.42 252.15,495.68 252.48,495.43 253.16,497.11 253.73,495.73 254.18,496.41 254.51,496.50 254.97,495.94 255.42,495.84 257.00,492.80 257.22,492.93 257.67,494.11 258.24,491.74 258.58,492.60 258.69,492.54 259.70,487.09 259.93,486.80 260.38,487.95 260.61,488.01 261.17,485.61 261.74,485.15 262.41,483.28 262.98,483.16 263.20,482.89 263.65,481.44 263.99,481.16 264.44,479.40" stroke="#b0d9db" stroke-width="1.80"/><path d="M46.47,528.30 49.74,528.24 50.41,527.95 50.75,527.23 51.77,520.61 52.45,509.43 53.35,486.46 54.14,452.36 55.04,400.75 56.06,323.31 57.52,290.41 68.13,290.41 73.21,369.67 77.83,449.14 80.43,480.07 81.10,483.41 81.22,483.64 81.55,483.63 82.12,485.26 82.80,485.47 83.25,484.71 83.81,484.58 84.37,483.48 84.71,483.25 85.28,484.12 86.07,483.76 86.41,484.40 86.74,484.57 87.31,485.82 87.87,483.22 88.10,483.34 88.66,484.56 89.11,483.45 90.13,482.26 90.81,483.25 91.37,482.12 92.05,479.97 92.50,481.17 93.06,481.36 93.63,480.89 94.19,478.95 94.64,478.42 95.54,479.65 96.00,478.04 96.90,476.06 97.80,476.50 98.03,476.33 98.70,472.80 98.93,472.37 99.49,472.33 100.28,469.40 101.07,464.95 101.41,464.28 102.77,458.72 103.78,452.40 104.80,449.21 105.36,445.18 105.81,443.96 106.26,441.41 106.83,440.25 108.07,434.89 108.63,433.85 109.76,428.65 110.21,427.34 110.78,426.53 111.45,422.63 112.02,421.40 112.47,419.08 113.03,418.17 113.60,415.36 114.39,413.47 115.06,408.64 115.40,408.46 115.85,406.84 116.19,406.36 117.09,402.77 117.21,402.69 117.66,403.17 117.77,403.07 118.34,400.67 118.67,400.24 119.01,400.25 119.12,400.08 119.69,397.93 119.91,397.84 120.48,398.75 121.04,397.73 121.49,397.53 121.83,397.76 122.28,398.61 122.74,398.21 123.53,401.20 124.54,406.48 125.33,408.39 125.89,413.40 126.68,417.18 127.59,420.40 128.60,427.99 129.62,431.08 131.31,443.77 132.66,451.65 133.79,460.77 134.47,462.51 135.26,468.50 136.27,473.33 136.39,473.68 136.73,473.72 137.97,477.34 138.53,477.95 139.55,481.04 140.00,479.61 140.34,480.55 140.67,480.57 141.13,482.03 141.58,482.30 141.92,483.33 142.03,483.38 142.48,482.64 143.16,484.97 144.17,482.55 144.85,484.28 145.19,484.12 145.53,484.29 146.20,483.19 146.88,483.83 147.22,484.49 147.67,484.17 148.12,484.87 148.57,483.58 149.36,486.17 149.93,484.61 150.60,485.07 151.28,484.08 151.96,484.47 152.52,484.27 153.09,485.53 153.54,484.67 153.99,483.12 154.33,484.07 154.78,484.67 155.23,486.20 155.45,485.94 155.91,483.46 156.13,483.06 156.58,484.51 157.15,483.76 157.60,484.56 158.61,483.78 159.63,484.48 160.42,484.19 160.87,482.90 161.10,482.77 161.89,483.89 162.34,485.18 163.24,483.95 163.80,482.43 164.37,484.41 164.82,484.92 165.61,482.21 166.06,484.16 166.74,482.99 167.30,483.62 167.98,482.57 168.77,483.20 169.33,482.79 169.78,484.02 170.35,483.25 170.80,484.35 171.02,484.50 171.48,484.19 172.04,482.89 172.60,483.73 173.17,483.12 173.62,484.16 174.30,481.94 175.09,482.25 175.88,483.97 176.44,482.76 176.78,482.93 177.12,482.63 177.57,483.52 177.79,483.64 178.13,483.26 178.70,481.76 179.15,483.35 179.26,483.40 179.71,482.50 180.28,483.84 180.73,483.65 181.29,482.09 181.63,482.49 182.19,482.20 182.65,482.91 183.21,481.78 183.77,481.72 184.23,482.54 184.45,482.48 184.79,482.74 185.24,480.65 185.58,481.22 186.14,481.46 186.59,482.50 187.05,483.00 187.84,481.78 188.40,482.99 188.63,483.13 189.08,481.76 189.41,482.21 189.64,482.16 190.20,480.48 190.77,482.32 191.33,480.66 192.12,481.00 192.57,481.89 193.36,480.65 193.82,479.29 194.72,481.44 195.96,479.23 196.41,478.03 196.64,478.02 197.09,478.68 197.65,475.24 198.55,473.60 198.89,473.65 199.12,473.30 200.25,468.23 200.36,468.06 200.70,468.36 200.81,468.25 201.83,464.62 201.94,464.34 202.39,464.08 202.84,462.19 202.95,461.93 203.29,461.86 203.63,460.71 204.08,460.63 204.65,459.34 205.10,457.10 205.21,456.97 205.55,457.40 205.66,457.24 206.00,456.13 207.47,453.38 208.48,455.72 209.16,455.14 209.61,455.78 209.95,455.74 210.63,456.86 211.19,456.29 211.64,455.20 212.21,456.18 212.88,454.83 213.79,457.34 214.46,457.59 214.80,456.75 215.03,456.67 216.15,459.45 216.38,459.49 216.72,459.04 217.06,459.77 217.51,459.91 218.41,461.31 218.64,461.19 219.20,459.52 219.76,461.16 220.10,460.89 220.55,461.28 221.01,460.48 221.68,462.81 222.25,461.67 222.70,462.26 223.04,463.46 223.49,463.36 224.39,464.68 224.95,464.12 225.52,464.44 225.97,464.03 226.53,466.29 226.99,465.41 227.78,466.85 228.23,467.39 228.79,467.55 229.58,468.78 230.71,468.87 231.05,468.44 231.16,468.53 231.50,469.67 231.95,470.14 232.40,471.34 232.97,471.56 233.53,470.11 233.87,471.26 234.32,471.74 235.33,474.17 235.56,473.99 236.01,472.35 236.46,473.79 236.80,473.86 237.37,474.89 237.82,476.61 238.49,475.44 239.28,477.73 239.85,477.98 240.64,480.16 241.09,480.25 241.88,481.90 242.33,481.66 242.89,482.16 243.68,483.98 244.14,484.09 244.81,486.35 245.49,486.78 245.94,486.55 246.62,489.06 246.73,489.17 247.07,489.00 247.41,489.26 247.75,489.16 248.65,491.39 249.10,490.53 249.44,491.04 249.78,491.13 250.57,493.89 251.47,491.50 251.69,491.81 252.03,493.27 252.60,492.97 252.94,493.26 253.39,492.36 253.73,492.74 254.18,494.17 254.74,493.61 255.19,492.63 255.53,492.35 255.98,490.29 256.55,489.19 256.66,488.99 257.11,488.95 257.34,488.57 257.90,486.46 258.46,486.07 259.48,484.20 259.93,482.36 260.83,480.15 260.95,480.07 261.28,480.51 261.51,480.30 262.98,476.17 263.43,475.65 263.99,473.51 264.44,473.54" stroke="#98c7ca" stroke-width="1.80"/><path d="M46.47,528.30 49.85,528.25 50.64,527.87 50.87,527.33 51.88,520.92 52.56,510.02 53.46,487.33 54.14,459.27 55.15,402.86 56.28,322.60 57.75,290.41 67.68,290.41 77.49,454.76 79.18,472.97 79.52,473.94 80.54,481.61 81.10,482.92 81.67,486.28 82.23,484.89 82.57,484.86 82.91,484.10 83.36,484.50 83.81,483.37 84.26,484.55 84.71,484.13 85.05,484.17 85.62,483.51 86.18,484.86 86.63,483.38 87.20,484.22 87.65,485.71 88.10,483.50 88.55,482.90 88.78,482.94 89.34,483.74 89.79,482.92 91.03,482.47 91.71,480.71 92.16,481.28 92.61,480.28 92.95,480.37 93.29,480.18 93.63,480.50 94.53,479.21 94.98,479.92 96.22,476.14 96.90,477.34 97.80,474.64 98.37,473.35 98.82,472.86 99.15,471.40 99.83,470.10 100.51,467.55 101.52,465.00 102.20,460.28 103.56,456.17 104.01,453.58 104.57,452.55 105.92,444.91 107.84,438.39 108.75,434.41 109.65,432.24 110.21,429.24 110.89,427.42 111.34,426.93 111.90,423.89 112.24,423.89 112.92,419.60 113.60,418.23 114.16,418.43 114.27,418.26 114.95,412.98 116.30,409.15 117.66,406.94 118.11,404.92 118.45,404.80 119.01,404.10 119.46,404.97 120.25,402.87 121.16,403.87 121.72,402.58 121.95,402.80 122.28,404.12 122.62,404.57 122.96,406.06 123.30,405.72 123.41,406.03 123.75,408.05 124.20,408.86 124.54,410.92 124.99,411.89 125.44,413.77 126.46,419.84 127.14,421.76 129.05,432.86 129.73,434.86 130.29,439.34 131.20,442.75 131.65,446.25 132.66,451.51 133.23,456.58 134.47,461.94 135.71,469.36 136.16,470.08 136.84,473.60 137.63,475.81 137.97,475.88 138.87,477.99 139.21,477.87 139.77,479.57 140.22,479.47 140.34,479.61 140.67,480.83 141.13,480.97 141.58,482.36 142.03,481.07 142.14,480.87 142.25,480.98 142.71,483.13 143.27,481.43 144.06,483.17 144.74,483.57 145.07,482.68 145.19,482.74 145.64,484.28 145.98,484.13 146.32,484.68 146.88,483.53 147.22,484.33 147.78,483.60 148.12,483.82 148.46,483.52 148.80,483.87 149.25,483.51 149.93,484.28 150.72,482.46 151.28,482.92 151.73,482.26 152.41,483.81 152.86,483.03 153.31,483.94 153.88,482.26 154.78,483.35 155.23,482.21 155.91,483.44 156.36,481.19 156.70,480.87 157.03,481.28 157.49,483.25 157.71,483.14 158.28,481.83 158.73,483.33 158.95,483.57 159.52,481.24 159.74,481.81 160.08,481.77 160.19,481.96 160.64,483.66 161.32,482.19 161.77,483.62 162.34,482.13 162.79,481.55 163.24,481.53 164.03,482.39 164.59,482.14 165.04,480.97 165.50,482.04 165.61,481.96 165.95,480.84 166.40,482.42 166.96,480.91 167.98,482.48 168.54,480.88 168.99,481.81 169.33,481.28 169.56,481.44 169.67,481.33 170.01,480.42 170.46,481.62 170.80,481.01 171.48,480.42 172.38,480.47 173.28,481.73 174.18,481.31 174.75,482.06 175.09,482.06 175.42,482.33 176.21,480.54 176.44,480.59 176.78,481.22 177.23,480.47 177.91,481.84 178.36,480.68 178.92,480.07 179.37,480.42 180.39,479.02 180.61,479.20 181.07,480.50 181.63,480.01 182.08,481.43 182.53,480.45 183.21,480.41 183.66,481.70 183.89,481.90 184.56,480.00 185.35,480.43 185.92,478.58 186.93,480.47 187.16,480.52 187.61,479.77 188.29,481.06 189.30,479.08 189.87,480.54 190.43,480.59 190.99,478.55 191.11,478.43 191.56,478.76 192.01,477.63 192.57,479.87 193.03,478.10 193.48,479.08 193.93,477.55 194.38,478.97 195.28,477.18 196.07,476.69 196.75,475.60 197.31,476.48 197.65,476.53 198.10,474.50 198.44,473.94 198.89,471.29 199.79,468.84 200.36,468.04 200.92,466.45 201.94,466.06 202.39,464.13 202.73,464.05 203.41,461.73 204.42,460.67 205.21,458.75 205.55,457.27 205.66,457.19 206.11,458.19 206.68,457.02 207.13,457.12 207.58,455.99 207.92,455.66 208.37,456.66 208.93,456.86 209.27,456.45 209.84,455.05 210.51,457.39 211.08,457.59 211.53,456.75 211.98,456.83 212.32,455.98 212.88,458.39 213.33,457.42 213.56,457.36 214.12,458.61 214.57,458.90 215.03,458.48 215.48,459.50 216.04,459.90 216.61,459.06 217.06,459.54 217.28,459.55 217.96,462.21 218.52,460.42 219.31,462.93 220.33,461.56 220.55,461.51 221.34,464.13 222.13,461.98 222.70,462.85 223.04,464.00 223.15,464.13 223.60,463.42 224.17,465.14 224.84,464.84 225.41,465.86 226.08,464.50 226.31,464.39 226.65,465.46 227.32,466.13 228.00,467.73 228.11,467.83 228.23,467.68 228.57,466.85 229.13,469.08 229.47,469.55 229.69,469.39 230.37,467.74 231.16,469.65 231.50,469.44 231.95,469.97 232.51,469.60 232.97,471.33 233.64,469.49 234.66,473.05 235.00,471.78 235.22,471.67 235.67,472.70 236.12,472.88 236.80,473.79 237.14,473.67 237.37,473.82 237.93,475.89 238.72,475.46 239.28,476.78 239.73,475.63 239.85,475.69 240.64,478.65 240.98,479.33 241.43,479.35 241.88,479.12 242.44,480.61 242.78,480.49 243.23,479.81 243.80,482.96 244.25,481.64 244.59,481.31 245.26,483.16 245.83,483.96 246.50,486.92 246.96,485.06 247.18,484.78 247.86,487.54 248.54,487.70 248.99,487.19 249.44,487.55 250.11,486.57 250.79,488.22 251.92,488.43 252.71,490.30 253.16,490.74 253.73,490.64 254.06,490.15 254.74,487.89 255.19,488.33 255.98,487.51 256.32,488.51 256.55,488.50 257.22,486.51 257.56,486.22 258.13,484.36 258.92,483.25 259.48,481.25 259.82,481.20 260.27,479.83 260.61,479.89 260.83,479.59 261.62,477.13 261.74,476.88 262.07,476.95 263.09,474.15 263.65,473.48 264.11,473.35 264.44,472.82" stroke="#81b5b8" stroke-width="1.80"/><path d="M46.47,528.30 49.85,528.28 50.75,527.90 50.98,527.42 51.99,521.22 52.67,510.60 53.57,488.19 54.25,460.43 56.51,322.00 57.86,290.41 67.11,290.41 67.23,290.79 76.36,453.02 77.04,460.46 78.51,471.14 79.86,479.27 80.09,480.07 80.43,480.52 81.10,483.56 81.55,483.61 81.89,483.33 82.34,483.81 82.68,483.77 83.02,484.38 83.47,484.39 83.70,484.61 84.26,483.14 84.71,483.46 85.28,483.51 85.84,482.60 86.18,482.86 86.52,482.85 86.86,483.51 87.42,481.27 87.65,480.96 88.78,483.48 89.34,481.48 89.68,481.58 90.02,481.28 90.69,481.28 91.14,480.22 92.05,479.66 92.50,478.87 92.84,479.10 93.29,478.37 93.74,478.57 94.19,478.32 95.54,475.50 96.00,476.01 96.79,474.51 97.24,474.96 97.91,473.97 98.70,471.78 99.27,471.49 99.94,468.73 101.52,465.17 102.20,461.66 104.91,452.58 105.36,449.99 105.92,449.07 107.17,443.45 107.39,443.14 107.62,443.62 107.73,443.71 107.84,443.49 109.76,436.91 110.78,435.19 111.23,433.25 111.79,431.88 112.36,428.90 112.47,428.77 112.92,429.08 113.03,428.87 113.48,426.66 115.29,421.13 116.19,419.46 116.64,417.18 116.76,417.03 117.09,417.46 117.32,417.38 117.77,416.75 118.22,415.39 118.45,415.22 118.90,415.32 119.35,414.97 119.91,412.98 121.16,412.60 121.61,413.64 122.06,413.75 122.62,414.59 123.07,414.58 123.19,414.77 123.86,417.31 124.43,418.17 124.88,420.44 125.22,420.73 125.44,421.32 126.35,427.39 127.36,429.44 128.38,435.26 128.72,436.27 129.28,437.12 130.86,444.86 131.31,448.82 132.21,451.53 134.02,461.37 134.69,463.58 136.39,471.47 139.10,476.94 139.21,477.09 139.32,476.96 139.66,476.13 140.67,478.85 141.58,478.62 142.03,479.94 142.37,480.07 142.82,481.17 143.38,481.76 143.83,481.92 144.17,482.45 144.62,481.71 145.30,482.74 145.86,481.82 146.32,482.04 147.11,481.38 147.78,481.36 148.57,483.18 149.14,482.08 149.81,481.52 150.26,482.28 150.72,481.16 151.05,480.82 151.96,482.49 152.52,482.36 152.97,481.73 153.31,482.14 153.76,481.02 154.55,481.93 155.00,480.94 155.45,480.94 155.91,479.56 156.24,479.21 157.37,482.14 157.94,480.08 158.61,480.40 159.29,479.50 159.97,479.62 160.31,480.48 160.53,480.63 161.10,479.52 161.55,480.17 161.89,480.01 162.34,480.35 162.90,480.29 163.47,479.26 163.92,479.61 164.37,479.01 164.82,479.11 165.27,479.63 165.61,479.12 166.06,479.23 166.40,478.68 166.85,478.69 167.08,478.49 167.64,479.62 168.32,478.32 168.88,479.91 169.22,480.31 169.90,478.65 170.80,479.74 171.25,478.50 171.70,479.18 172.38,477.44 173.39,479.60 173.73,479.20 174.41,476.92 175.65,478.62 176.33,478.40 177.23,479.30 178.25,477.72 178.70,477.71 179.04,478.08 179.15,478.00 179.60,476.71 180.28,478.28 180.73,478.37 181.29,477.88 181.86,477.87 182.53,476.58 183.55,477.57 184.68,477.24 185.80,477.64 186.37,477.26 187.05,478.64 187.61,477.07 188.06,478.21 188.63,477.71 189.19,478.66 189.75,477.00 190.43,476.16 190.77,476.64 191.33,475.87 192.12,476.03 192.57,475.65 193.03,476.12 193.36,475.77 193.82,476.73 194.27,475.78 194.60,476.18 194.94,476.06 195.62,474.50 196.07,475.39 196.97,472.19 197.43,472.49 197.65,472.42 198.55,470.20 199.23,471.08 199.68,469.32 200.02,469.15 200.25,468.65 200.70,466.87 201.15,467.51 201.26,467.39 201.71,465.39 202.50,463.41 203.52,462.17 204.08,460.86 204.53,460.86 205.10,460.17 205.44,460.15 206.23,458.11 206.90,458.55 207.24,458.12 207.69,458.82 208.14,457.45 208.71,458.59 209.16,458.14 209.72,458.07 210.17,459.00 210.85,459.21 211.75,458.54 212.21,459.67 213.11,460.65 213.33,460.74 213.67,460.44 214.12,460.56 214.46,460.37 215.03,461.65 215.48,461.69 215.93,461.35 216.49,462.58 217.51,463.26 217.96,463.93 218.41,463.44 218.86,463.73 219.31,463.31 219.99,463.35 220.67,465.79 221.12,464.77 221.57,464.66 222.02,465.57 222.59,465.00 222.92,465.96 223.38,466.32 223.83,466.12 224.17,466.50 224.62,466.05 225.07,466.83 225.41,466.89 225.74,467.72 226.20,466.84 226.53,467.16 226.99,466.67 227.78,467.63 228.34,467.40 228.57,467.51 229.58,468.80 229.81,468.76 230.48,467.66 231.05,469.39 231.50,469.27 231.84,469.98 232.40,469.27 233.08,471.62 233.87,470.71 234.32,471.72 234.66,471.55 235.33,471.82 235.79,471.15 236.24,473.05 236.35,473.13 236.69,472.75 237.25,473.39 237.70,473.10 238.38,474.13 238.72,473.62 238.83,473.69 239.17,474.40 239.51,474.58 239.85,475.53 239.96,475.62 240.41,475.14 240.86,476.35 241.43,475.51 242.22,478.96 242.44,478.97 242.89,477.98 243.46,479.37 244.14,479.54 244.70,480.26 245.04,480.33 245.49,481.11 245.83,480.64 245.94,480.72 246.62,482.72 246.84,482.73 247.18,482.30 247.52,482.81 247.97,482.92 248.54,485.54 248.99,484.30 249.21,484.14 250.23,485.41 250.68,484.83 251.24,486.06 251.69,486.26 251.92,486.19 252.26,485.63 253.39,486.23 253.84,485.33 254.51,486.34 255.08,485.96 255.64,484.37 256.09,484.62 256.88,483.31 257.34,483.50 257.45,483.36 257.90,481.63 258.35,480.74 258.46,480.61 258.80,480.89 258.92,480.79 260.04,477.46 260.61,477.04 261.06,477.85 261.62,474.80 261.74,474.74 262.07,475.32 262.53,473.70 262.98,473.75 263.43,472.12 263.88,471.95 264.44,471.16" stroke="#69a4a6" stroke-width="1.80"/><path d="M46.47,528.30 49.96,528.28 50.87,527.93 51.09,527.50 52.11,521.50 52.78,511.17 53.69,489.02 54.25,467.08 56.62,326.01 57.30,306.66 58.09,290.41 67.00,290.41 69.14,331.22 72.19,398.12 75.24,453.70 76.03,461.79 78.28,474.35 79.18,477.05 79.75,480.11 80.54,482.18 81.10,482.58 81.44,483.13 81.67,483.20 82.12,482.73 82.57,483.28 83.02,482.79 83.36,483.05 83.81,482.60 84.71,482.92 85.05,482.61 86.18,482.23 86.74,481.40 87.20,481.64 87.53,481.38 87.99,481.55 88.78,480.53 89.45,480.00 89.90,480.02 90.13,479.75 90.81,480.58 91.26,479.63 91.60,479.71 92.61,478.97 92.95,478.33 93.40,478.00 93.85,476.84 94.08,476.80 94.53,477.63 94.98,476.54 95.54,476.53 96.22,474.84 96.79,475.05 97.35,474.30 97.91,472.47 98.93,471.17 99.49,468.91 99.61,468.72 100.06,468.92 100.28,468.48 101.07,464.25 101.52,464.16 102.20,462.88 104.12,456.26 104.68,455.25 105.36,453.14 105.92,450.51 107.17,447.58 108.41,443.98 108.97,443.51 109.53,440.88 109.65,440.73 109.99,440.86 110.21,440.61 111.23,437.08 112.92,433.17 113.37,431.05 114.50,429.06 114.84,427.93 115.29,427.33 116.30,424.30 116.87,424.10 117.77,422.14 118.34,420.14 118.79,420.23 119.24,419.52 119.69,419.35 120.25,418.60 121.27,419.53 121.72,419.29 122.17,419.95 122.96,420.12 124.20,423.50 125.22,425.28 125.78,428.43 126.35,429.93 127.93,436.17 128.94,439.18 129.62,442.63 130.97,446.59 134.36,462.66 135.03,464.37 137.18,471.99 137.29,472.18 137.63,471.96 137.74,472.05 138.64,473.94 139.21,474.35 140.22,477.00 140.45,476.94 140.90,476.26 141.46,477.65 141.92,477.82 143.04,479.53 143.72,479.85 144.40,479.79 144.74,479.98 145.07,479.81 145.75,481.18 146.54,480.96 146.99,480.62 147.56,480.72 148.01,481.28 148.46,480.32 148.91,480.00 149.36,479.00 149.93,479.89 150.38,479.77 150.94,479.92 151.62,478.78 152.07,479.64 152.30,479.72 152.97,479.18 153.42,477.73 153.88,478.67 154.21,478.34 154.78,478.21 155.23,478.54 155.91,477.41 156.70,477.23 157.71,476.35 158.28,476.90 158.73,476.10 159.18,476.69 159.63,476.64 159.97,477.16 160.53,475.90 160.87,475.98 161.43,475.61 162.00,476.02 162.68,475.11 163.24,475.81 163.58,475.53 163.92,475.61 164.48,474.61 165.16,475.79 165.38,475.89 166.74,474.30 167.53,474.09 168.09,474.61 168.43,474.34 168.88,474.41 169.44,472.86 169.78,473.18 170.23,473.00 170.57,473.09 171.14,473.81 171.70,472.97 172.27,473.76 172.72,473.22 173.28,473.13 173.85,471.87 174.52,472.78 175.20,472.17 175.65,472.61 176.10,471.96 176.67,473.25 177.12,472.51 177.46,472.57 177.91,471.64 178.36,472.15 179.60,471.15 180.16,471.17 180.73,471.71 181.40,470.97 181.86,471.19 182.42,470.55 183.10,470.80 183.89,470.36 184.23,470.79 184.79,470.36 185.35,471.42 185.80,471.19 186.26,471.45 186.71,471.21 187.16,471.59 187.72,470.45 188.29,470.73 188.63,470.42 189.30,470.68 189.75,470.19 190.09,470.20 190.32,469.95 190.66,470.01 190.99,469.51 191.45,470.29 191.90,470.60 192.80,470.11 193.25,469.58 193.70,470.26 194.04,470.38 195.17,468.79 195.73,469.15 196.52,469.21 197.43,467.27 198.44,467.19 198.78,467.47 199.68,466.04 199.91,466.06 200.36,466.66 200.92,465.42 201.37,465.34 201.71,464.83 201.94,464.87 202.16,465.28 202.39,465.27 202.84,464.74 203.29,463.65 204.08,463.73 204.53,462.97 204.98,463.05 205.32,462.88 205.89,461.98 206.45,462.31 207.02,461.08 207.47,461.51 208.82,461.53 209.38,462.06 210.29,461.79 210.96,463.13 211.42,462.77 212.09,462.57 212.66,463.98 213.11,463.16 213.56,464.20 214.57,465.22 215.03,464.32 215.93,466.05 216.49,465.96 216.94,466.83 217.51,466.39 217.96,467.25 218.30,467.42 219.20,466.79 219.65,467.54 219.99,467.53 220.67,468.30 221.23,467.99 221.57,468.13 221.91,467.74 222.47,469.09 223.38,468.23 224.73,469.18 225.86,468.86 226.76,468.85 227.55,470.52 228.68,469.49 229.69,469.58 230.03,469.34 230.71,470.69 232.06,470.12 232.85,471.20 233.42,471.51 233.98,471.13 234.32,471.28 234.77,471.03 235.22,472.26 235.79,471.95 236.46,472.58 236.91,472.19 237.37,472.41 237.82,472.20 238.49,474.27 239.17,473.92 239.62,474.14 239.96,473.97 241.31,474.66 241.88,475.90 242.10,475.82 242.56,476.06 243.01,475.75 243.57,476.27 243.91,476.91 245.26,478.06 246.17,479.12 246.96,479.08 247.41,479.84 247.86,479.99 248.54,481.38 249.21,480.29 249.66,481.03 250.00,480.66 250.34,480.95 250.57,480.47 250.79,480.39 251.58,482.33 252.03,481.57 252.37,481.37 253.61,482.62 254.63,481.34 255.30,481.27 255.98,479.94 257.22,479.88 257.90,478.08 258.24,477.82 258.58,478.01 258.69,477.90 259.59,476.35 260.16,475.93 260.72,474.56 261.17,474.38 262.30,473.31 262.86,472.06 263.77,471.15 264.22,469.91 264.44,469.87" stroke="#519295" stroke-width="1.80"/><path d="M46.47,528.30 50.08,528.28 50.98,527.95 51.20,527.58 52.22,521.77 52.90,511.73 53.80,489.82 54.36,468.25 56.85,325.23 58.20,290.41 66.77,290.41 68.81,331.16 71.63,399.01 74.56,443.26 75.69,455.93 76.59,463.42 78.06,469.98 79.75,474.81 80.31,477.12 80.88,477.83 81.67,478.05 82.34,479.17 83.02,479.48 83.59,478.93 84.71,479.44 85.84,478.93 86.29,479.27 87.31,478.55 88.10,478.92 88.78,478.00 89.34,478.66 89.90,478.27 91.48,478.17 92.27,477.70 92.84,478.21 93.97,477.30 95.54,474.71 97.01,473.22 98.70,469.18 98.93,468.79 99.38,468.54 99.83,467.23 101.64,463.78 102.20,462.12 103.22,460.40 103.89,458.04 104.68,456.65 105.59,453.24 106.60,450.36 107.17,449.58 107.96,447.90 108.63,445.89 109.31,444.91 110.21,442.62 110.89,441.88 112.81,436.66 113.71,434.97 114.39,434.69 115.29,431.88 115.97,431.04 116.64,429.48 117.09,429.18 118.79,426.51 119.80,426.25 120.37,425.21 120.82,425.62 121.95,425.88 122.28,425.76 123.07,426.21 124.54,428.77 125.22,429.34 125.78,431.05 126.46,431.80 127.25,433.54 127.93,434.45 129.05,437.59 129.62,438.20 129.96,438.98 132.66,447.13 133.79,451.83 134.47,453.26 135.26,456.33 135.94,457.62 137.06,461.17 137.63,461.90 138.31,463.72 138.76,464.14 140.45,467.07 142.03,470.50 142.48,470.75 143.04,471.95 143.50,472.12 144.96,473.92 147.22,473.82 147.78,473.26 148.57,473.39 149.02,473.13 149.36,473.24 149.81,472.74 150.26,472.99 150.94,472.93 151.62,471.86 152.52,472.06 153.31,470.98 154.21,470.17 155.23,470.45 155.68,469.85 156.13,470.07 157.37,469.22 157.94,469.15 158.95,468.52 159.52,468.72 160.76,466.99 161.55,467.60 162.34,467.49 162.90,467.70 163.69,466.88 164.71,467.02 166.06,466.62 167.64,466.52 168.09,465.85 168.66,465.84 169.44,464.80 169.90,465.18 170.23,465.02 171.02,465.34 171.48,464.94 172.15,465.14 172.72,464.70 173.28,465.26 173.73,464.40 174.41,464.83 174.97,464.63 175.42,464.95 175.99,464.19 176.55,465.03 177.00,464.72 177.79,465.50 178.47,464.65 178.92,465.22 179.82,464.40 180.61,464.67 181.63,464.54 182.65,464.78 183.21,464.29 184.23,465.34 184.56,465.04 185.24,464.97 185.92,465.33 186.37,464.88 186.93,465.39 187.38,465.02 187.84,465.38 188.29,465.18 188.74,465.36 189.08,465.04 189.41,465.31 190.09,465.18 190.43,465.35 191.45,465.08 192.24,465.61 192.57,465.44 193.93,465.44 194.72,465.10 195.51,465.64 196.07,465.04 196.97,465.54 198.22,465.07 198.67,465.25 199.23,465.97 199.68,465.60 200.36,465.44 200.92,465.84 201.71,465.32 202.28,464.41 202.84,465.56 203.41,464.88 203.97,465.63 204.42,465.30 204.87,466.04 205.21,466.17 206.56,465.03 207.13,465.88 207.69,465.47 208.48,465.58 209.05,465.11 209.95,465.36 210.63,464.79 211.30,465.50 211.87,465.26 212.66,465.73 213.11,465.31 214.01,465.99 214.57,465.85 215.03,465.41 215.70,465.94 216.15,465.67 217.06,465.75 217.40,465.52 218.41,466.19 218.98,465.24 220.67,466.30 221.12,466.20 221.68,466.35 222.25,466.02 223.15,466.45 223.60,466.23 224.17,466.42 225.07,466.32 225.41,466.62 226.53,466.78 227.21,467.22 227.66,466.87 228.34,467.12 228.90,466.60 229.58,466.85 230.48,466.50 230.93,467.24 231.39,467.46 231.72,467.32 232.06,467.42 232.40,467.13 232.85,467.53 233.30,467.44 233.76,467.73 234.21,467.66 234.66,468.09 235.22,467.31 235.79,467.58 236.80,467.11 237.70,468.45 238.72,467.74 239.51,468.57 240.75,468.50 241.31,467.94 242.56,468.94 243.01,468.54 243.91,468.40 244.59,469.38 245.49,468.73 246.05,468.76 246.39,468.59 246.84,468.78 247.29,468.68 247.75,469.10 248.31,468.85 248.87,469.24 249.21,469.18 249.66,468.75 250.34,469.03 250.68,468.51 251.47,467.99 252.03,468.73 252.94,469.19 253.61,468.74 254.18,468.88 254.85,468.56 255.19,468.64 255.64,468.32 256.43,468.54 257.00,468.40 257.56,468.63 259.14,468.17 259.82,468.82 261.28,468.14 261.96,468.44 262.41,468.07 263.20,467.98 263.54,467.63 263.99,467.95 264.44,467.94" stroke="#3a8083" stroke-width="1.80"/><path d="M46.47,528.30 50.19,528.29 51.09,527.97 51.32,527.65 52.33,522.03 53.01,512.28 54.02,487.31 54.48,469.44 57.07,324.64 58.43,290.41 66.21,290.41 68.13,328.90 71.06,399.04 72.87,427.83 74.45,449.53 75.69,462.19 76.70,468.16 79.18,473.53 80.54,475.61 81.78,476.96 82.80,477.64 83.81,477.92 89.11,477.63 95.32,476.51 96.11,476.10 97.01,475.22 98.14,473.60 99.38,471.31 104.34,460.49 109.65,446.35 111.68,441.75 115.40,435.38 117.43,432.37 119.35,430.37 120.25,429.85 121.04,429.65 122.06,429.91 123.19,430.96 124.43,432.87 125.89,435.80 130.29,445.69 135.15,459.80 137.18,464.62 140.45,470.26 142.25,472.99 143.95,474.88 145.53,475.76 146.43,475.81 147.56,475.57 149.81,474.40 152.07,472.56 158.50,466.46 165.50,461.97 169.44,459.90 171.14,459.33 172.72,459.06 176.10,459.15 180.16,459.66 190.43,461.51 200.58,463.62 213.33,465.59 220.78,466.46 226.99,466.73 228.90,466.39 230.93,465.42 237.37,460.62 239.62,459.21 241.54,458.48 243.35,458.35 246.17,458.96 252.82,461.70 264.44,465.31" stroke="#226e72" stroke-width="1.80"/><path d="M46.47,528.30 50.30,528.29 51.09,528.04 51.43,527.72 51.99,525.33 52.56,521.22 53.24,510.60 54.48,475.66 57.07,334.49 58.43,290.41 64.74,290.41 69.14,394.45 72.30,445.10 73.43,457.96 74.33,464.18 74.78,465.59 75.91,467.74 76.93,469.12 78.17,470.33 80.99,472.43 84.04,474.19 93.85,478.31 94.87,478.59 95.66,478.59 97.35,477.71 98.82,476.26 101.19,473.36 103.10,469.91 107.50,459.50 112.13,446.42 114.27,441.60 115.29,440.14 118.11,437.26 119.58,436.28 120.93,435.94 121.95,436.42 123.07,437.88 126.91,445.70 128.60,450.42 132.66,463.70 134.58,468.51 138.53,475.73 141.01,479.65 143.27,482.24 144.40,483.06 145.41,483.45 146.77,483.43 148.35,482.75 150.60,481.14 151.84,479.62 153.99,475.60 159.07,463.85 166.96,448.86 168.66,446.10 170.23,444.07 171.70,442.80 173.06,442.26 174.30,442.37 175.54,442.90 177.00,443.97 178.70,445.61 184.45,451.88 191.33,461.33 194.27,464.62 200.02,468.76 202.28,469.96 204.42,470.74 210.63,471.75 216.49,472.27 219.65,472.28 221.57,471.51 222.92,470.49 224.50,468.95 231.84,460.49 238.27,451.00 240.30,448.36 242.33,446.50 243.35,445.96 244.25,445.75 245.38,445.87 246.62,446.41 247.97,447.39 249.66,449.00 256.09,455.86 264.44,466.66" stroke="#0a5c60" stroke-width="1.80"/><path d="M46.47,528.30 50.87,528.29 51.66,528.04 51.99,527.71 52.56,525.31 53.12,521.29 53.80,511.80 55.15,477.80 56.73,403.15 59.55,290.41 61.25,290.41 61.36,292.26 62.04,320.02 64.18,374.24 65.87,407.02 68.13,440.77 69.26,452.30 70.95,463.20 71.74,466.75 72.98,470.80 73.88,473.19 74.56,474.24 74.90,474.42 75.69,474.38 77.72,473.87 79.64,472.90 81.67,471.43 86.07,467.09 94.98,456.33 98.82,452.23 100.96,450.38 102.88,449.10 104.80,448.23 106.60,447.86 108.41,447.91 110.32,448.29 112.36,448.98 114.50,450.00 119.12,452.97 128.72,460.45 132.78,463.27 137.06,465.44 139.10,466.06 141.01,466.35 144.40,466.11 148.12,464.92 152.18,462.84 160.53,457.61 164.14,455.60 167.87,454.09 171.25,453.46 174.52,453.56 178.25,454.12 190.20,457.19 194.49,458.06 208.26,459.15 218.98,459.36 240.30,458.57 264.44,458.33" stroke="#7f7f7f" stroke-width="2.3" stroke-dasharray="7.4 3.2"/></g>
<path d="M124.3,295.2 L124.6,297.6" stroke="#c8ebed" stroke-width="1.4" stroke-linecap="round"/>
<g stroke="#262626" stroke-width="0.80" fill="none">
<path d="M38.85,318.40 V528.30 H264.50 V318.40 Z"/>
<path d="M38.85,528.30 v3.0"/>
<path d="M95.26,528.30 v3.0"/>
<path d="M151.68,528.30 v3.0"/>
<path d="M208.09,528.30 v3.0"/>
<path d="M264.50,528.30 v3.0"/>
<path d="M38.85,528.30 h-3.2"/>
<path d="M38.85,493.32 h-3.2"/>
<path d="M38.85,458.33 h-3.2"/>
<path d="M38.85,423.35 h-3.2"/>
<path d="M38.85,388.37 h-3.2"/>
<path d="M38.85,353.38 h-3.2"/>
<path d="M38.85,318.40 h-3.2"/>
</g>
<g font-size="14" fill="#1a1a1a">
<text x="38.85" y="543.70" text-anchor="middle" textLength="6.6" lengthAdjust="spacingAndGlyphs">2</text>
<text x="95.26" y="543.70" text-anchor="middle" textLength="6.6" lengthAdjust="spacingAndGlyphs">4</text>
<text x="151.68" y="543.70" text-anchor="middle" textLength="6.6" lengthAdjust="spacingAndGlyphs">6</text>
<text x="208.09" y="543.70" text-anchor="middle" textLength="6.6" lengthAdjust="spacingAndGlyphs">8</text>
<text x="264.50" y="543.70" text-anchor="middle" textLength="13.2" lengthAdjust="spacingAndGlyphs">10</text>
<text x="32.65" y="533.40" text-anchor="end" textLength="17.8" lengthAdjust="spacingAndGlyphs">0.0</text>
<text x="32.65" y="498.42" text-anchor="end" textLength="17.8" lengthAdjust="spacingAndGlyphs">0.5</text>
<text x="32.65" y="463.43" text-anchor="end" textLength="17.8" lengthAdjust="spacingAndGlyphs">1.0</text>
<text x="32.65" y="428.45" text-anchor="end" textLength="17.8" lengthAdjust="spacingAndGlyphs">1.5</text>
<text x="32.65" y="393.47" text-anchor="end" textLength="17.8" lengthAdjust="spacingAndGlyphs">2.0</text>
<text x="32.65" y="358.48" text-anchor="end" textLength="17.8" lengthAdjust="spacingAndGlyphs">2.5</text>
<text x="32.65" y="323.50" text-anchor="end" textLength="17.8" lengthAdjust="spacingAndGlyphs">3.0</text>
</g>
<text x="151.68" y="313.80" font-size="16.4" text-anchor="middle" fill="#111" textLength="68.6" lengthAdjust="spacingAndGlyphs">MOF-801</text>
<rect x="278.70" y="318.40" width="10.75" height="209.90" fill="url(#g2)" stroke="#262626" stroke-width="0.8"/>
<g stroke="#262626" stroke-width="0.8">
<path d="M289.45,528.30 h2.6"/>
<path d="M289.45,458.33 h2.6"/>
<path d="M289.45,388.37 h2.6"/>
<path d="M289.45,318.40 h2.6"/>
</g><g font-size="13.9" fill="#1a1a1a">
<text x="294.75" y="533.80" textLength="14.0" lengthAdjust="spacingAndGlyphs">20</text>
<text x="294.75" y="463.83" textLength="14.0" lengthAdjust="spacingAndGlyphs">50</text>
<text x="294.75" y="393.87" textLength="14.0" lengthAdjust="spacingAndGlyphs">80</text>
<text x="294.75" y="323.90" textLength="21.0" lengthAdjust="spacingAndGlyphs">110</text>
</g>
<text transform="translate(10.0,424.05) rotate(-90)" font-size="13.2" text-anchor="middle" fill="#1a1a1a" textLength="25.4" lengthAdjust="spacingAndGlyphs">RDF</text>
<text x="151.68" y="563.9" font-size="12.6" text-anchor="middle" fill="#1a1a1a" textLength="142.7" lengthAdjust="spacingAndGlyphs">Interatomic distance (Å)</text>

<g clip-path="url(#c3)" fill="none" stroke-linejoin="round" stroke-linecap="round"><path d="M393.03,528.30 395.29,528.30 396.20,528.01 396.54,527.58 396.87,526.26 397.55,521.77 397.89,517.63 398.80,498.85 399.93,466.23 400.61,428.01 400.83,407.96 401.17,317.74 402.53,290.41 421.18,290.41 422.54,307.10 423.89,319.38 424.68,324.31 425.48,333.56 426.27,336.82 427.29,344.84 427.74,345.97 428.87,350.41 429.55,350.00 430.34,348.76 430.90,351.37 431.81,348.40 432.26,347.97 432.71,348.58 432.82,348.39 433.28,346.11 433.62,345.56 434.07,343.83 434.52,344.25 435.09,345.63 435.99,343.70 436.44,344.02 436.56,343.79 437.12,342.26 437.91,339.07 438.59,337.80 439.04,335.67 439.49,335.32 439.83,333.84 439.95,333.78 440.17,334.35 440.29,334.24 440.62,332.44 441.08,332.99 442.21,327.74 442.66,328.99 442.77,329.08 442.89,328.84 443.68,322.71 443.79,322.50 444.13,322.71 444.36,322.30 445.26,318.53 445.49,318.26 445.83,318.69 446.16,318.50 446.96,314.45 447.63,313.27 448.09,313.02 448.65,310.91 449.22,310.57 449.56,311.09 450.01,308.88 450.35,309.84 450.46,309.77 451.48,302.99 451.82,303.09 452.27,301.62 452.72,301.02 453.06,300.02 453.51,299.46 453.96,299.80 454.64,294.71 455.66,297.27 456.11,296.48 457.02,292.96 457.47,293.50 457.92,292.01 458.49,293.12 459.17,291.09 459.73,293.33 460.18,290.41 461.77,290.41 461.99,290.59 462.10,290.41 462.67,290.41 463.12,292.59 463.46,291.55 464.03,290.81 464.37,292.22 464.48,292.36 464.70,292.26 465.16,294.41 465.61,293.65 465.72,293.82 466.29,296.94 466.40,297.15 466.85,297.25 467.76,300.48 468.10,300.13 468.21,300.21 468.77,303.94 469.23,304.83 470.24,309.24 471.49,311.96 472.17,314.51 472.62,315.16 473.86,322.92 474.54,325.60 474.88,326.21 475.44,330.37 475.78,330.21 475.90,330.46 476.91,337.53 477.71,339.86 478.50,346.12 478.72,346.61 479.17,346.09 479.29,346.20 479.85,350.58 479.97,350.76 480.31,349.96 480.87,352.09 481.89,358.65 482.45,360.27 482.79,363.04 482.91,363.53 483.24,363.23 484.26,368.06 484.49,368.57 484.83,368.77 485.39,372.62 485.62,373.03 485.96,372.48 486.07,372.61 487.09,377.81 487.20,378.10 487.54,377.71 487.88,378.62 488.11,378.59 488.22,378.80 488.67,381.15 489.12,378.99 489.80,384.10 490.37,383.03 490.71,383.22 491.16,384.45 491.61,384.94 492.18,384.26 492.63,385.45 493.19,383.44 493.76,386.65 494.21,385.82 494.55,385.99 494.89,385.80 495.45,383.10 495.91,384.11 496.36,384.16 496.81,382.13 497.26,381.96 497.72,380.38 498.17,381.50 498.62,379.92 499.07,381.02 499.18,380.82 499.75,377.59 499.86,377.48 500.20,377.79 500.65,376.25 500.88,376.67 500.99,376.59 501.67,373.07 502.46,376.21 503.25,370.46 503.37,370.18 503.59,370.34 504.16,372.21 504.61,369.80 504.95,369.63 505.18,369.12 505.74,366.89 506.08,367.44 506.53,366.80 506.99,365.05 507.44,364.33 507.89,362.45 508.23,363.78 508.34,364.09 508.45,364.02 508.91,363.58 509.36,361.61 509.47,361.54 509.92,362.16 510.60,359.83 511.28,359.32 511.85,361.24 512.19,361.11 512.75,358.93 513.09,359.69 513.54,358.36 513.88,358.50 514.22,357.26 514.67,356.84 515.24,359.15 515.80,357.27 516.37,358.76 516.59,358.80 517.05,358.15 517.84,360.45 518.29,358.94 518.86,358.01 519.31,360.73 519.42,360.98 519.53,360.76 519.99,359.33 520.66,362.55 521.00,362.42 521.46,363.01 521.91,361.68 522.13,361.48 523.15,363.25 523.60,362.98 523.72,363.13 524.28,366.76 524.96,368.27 525.64,365.48 526.09,367.51 526.77,368.58 527.00,368.44 527.45,367.24 528.01,368.67 528.46,371.00 528.92,371.43 529.37,373.69 529.71,373.64 529.93,374.09 530.27,373.88 530.61,375.57 530.73,375.62 531.18,373.97 531.63,374.74 531.97,374.12 532.31,375.31 532.65,375.78 533.10,378.36 533.55,376.95 533.78,376.89 534.46,379.66 534.80,380.36 535.59,379.02 535.93,379.25 536.49,378.71 537.40,382.67 537.85,382.20 538.30,382.69 538.64,382.42 539.32,384.36 539.54,384.53 539.77,384.26 539.88,384.36 540.34,386.80 541.13,389.58 541.80,386.32 542.48,390.12 542.94,389.48 543.39,390.46 543.84,390.93 544.52,389.58 545.54,394.77 545.87,394.36 546.21,394.66 546.55,393.39 546.89,393.73 547.23,393.21 548.02,398.29 548.70,395.85 549.15,396.74 549.49,396.57 549.94,398.54 550.17,398.97 550.51,398.78 550.85,400.42 551.30,399.43 551.87,401.30 552.32,400.15 552.88,402.44 553.34,401.91 553.90,402.20 554.58,404.51 554.69,404.67 554.92,404.50 555.03,404.68 555.82,408.75 556.05,408.77 556.61,407.64 557.07,407.76 557.52,406.60 558.42,411.16 558.99,412.07 559.44,414.50 559.55,414.66 560.23,414.01 560.68,415.33 561.14,415.09 561.70,418.60 562.27,419.05 562.61,417.98 562.72,417.75 562.83,417.82 563.40,420.84 563.74,419.88 563.96,419.71 564.64,422.58 564.98,423.10 565.43,422.96 566.00,426.02 566.34,425.82 566.45,425.93 567.13,428.65 567.69,425.91 568.26,425.21 569.16,428.09 569.61,426.94 570.29,428.84 570.75,427.63 571.54,426.62 572.10,429.89 572.33,430.36 573.35,425.14 574.25,427.17 574.59,426.29 575.04,428.41 575.49,425.97 576.51,422.60 577.19,422.49 577.64,420.95 578.32,419.62 579.11,420.51 579.22,420.41 579.79,417.45 580.24,419.32 580.58,419.40 580.81,419.79 581.03,419.38 581.49,416.89 582.05,418.50 582.28,418.34 582.62,417.49 582.95,417.81 583.07,417.71 583.86,413.21 584.31,415.11 584.76,415.91 584.99,415.49 585.33,413.46 585.78,414.96 586.46,412.89 587.02,415.03 587.48,414.13 588.04,413.58 588.49,414.76 589.62,412.64 589.85,412.95 590.30,412.65 591.09,413.96 591.77,412.07 592.34,414.70 592.45,414.82 592.79,414.19 593.24,415.42 593.81,413.85 594.60,414.64 595.05,415.93 595.50,415.46 595.96,414.36 596.29,414.47 597.09,418.50 597.54,417.67 597.88,417.92 598.33,417.14 599.35,420.45 599.80,418.92 600.03,418.90 600.48,420.32 601.16,421.40 601.50,421.12 601.95,422.56 602.40,421.60 603.30,424.00 603.53,424.07 603.87,423.51 604.32,424.81 604.77,424.04 605.11,424.92 605.56,427.33 605.90,426.18 606.36,427.48 606.81,426.27 607.26,428.65 607.49,428.70 607.94,427.79 608.39,428.96 608.84,429.49 609.30,430.77 609.63,430.62 609.86,430.95 610.09,430.67 610.43,428.72 610.65,428.33 611.44,430.81" stroke="#fdd0a2" stroke-width="1.80"/><path d="M393.03,528.30 395.40,528.30 396.20,528.09 396.65,527.70 396.99,526.51 397.89,519.88 398.80,502.96 399.93,470.03 400.72,428.09 401.06,394.83 401.40,320.43 402.19,301.81 402.87,290.41 416.09,290.41 418.35,327.04 420.62,385.86 421.63,404.93 421.97,408.15 422.42,409.81 423.10,410.63 424.23,410.49 424.68,411.45 425.14,410.64 425.25,410.73 425.70,412.22 426.38,412.74 427.06,414.28 427.51,413.31 427.96,413.08 428.42,413.16 428.87,412.28 429.89,412.54 430.45,411.07 430.68,411.10 431.02,410.80 431.47,411.51 431.69,411.47 432.37,409.35 432.94,410.26 433.16,410.23 434.07,408.39 434.63,408.38 435.54,406.95 436.10,404.40 436.44,403.66 436.78,403.60 437.23,403.04 437.80,404.54 438.59,400.24 439.04,399.62 439.49,400.10 440.06,399.04 440.62,396.92 440.96,396.99 441.08,396.83 441.87,393.65 442.21,393.38 442.55,393.67 442.77,393.53 443.56,389.65 443.79,389.38 444.24,389.62 444.92,388.47 445.49,386.29 446.62,384.91 447.07,382.83 447.52,383.24 448.43,380.56 449.10,377.55 449.33,377.47 449.78,378.43 450.23,376.48 450.80,376.17 451.70,373.62 452.38,372.65 452.83,371.07 453.29,371.58 454.08,369.29 454.19,369.08 454.53,369.15 454.76,368.94 455.55,366.89 456.11,367.40 456.68,366.75 457.13,365.32 457.58,365.70 458.03,365.24 458.49,365.53 459.17,363.67 459.39,363.88 459.84,365.43 460.30,364.00 460.86,364.40 461.09,364.36 461.77,362.69 462.22,363.43 462.56,363.24 463.23,365.12 463.69,365.03 464.14,365.25 464.70,366.71 465.16,365.39 465.27,365.44 466.40,369.11 466.97,367.51 467.19,367.60 468.66,372.54 468.77,372.61 469.23,371.95 471.49,380.24 471.94,379.85 472.62,382.13 473.07,382.52 473.75,384.48 474.20,387.19 474.54,387.43 474.88,388.36 475.22,388.74 475.78,391.44 477.93,395.85 480.76,404.76 481.55,406.63 481.89,406.24 482.00,406.43 482.57,409.76 483.47,411.56 483.81,412.94 484.04,413.20 484.38,412.83 484.83,413.95 485.51,414.67 486.07,416.71 486.52,416.63 487.09,417.69 487.43,417.32 487.88,419.18 488.22,419.38 488.56,419.00 488.67,419.12 489.01,420.03 490.03,421.52 490.59,420.06 491.27,421.82 491.84,421.17 493.19,420.50 493.76,421.08 494.21,420.13 494.78,420.33 495.34,419.62 496.36,420.35 497.72,416.12 498.39,418.08 498.85,417.00 499.18,416.83 499.64,415.32 500.20,414.84 500.65,413.66 501.22,415.68 501.78,413.60 502.35,413.37 502.92,411.88 503.37,411.42 503.71,412.08 503.82,412.01 504.39,409.32 504.72,409.59 505.52,409.35 505.97,408.68 506.42,410.04 506.87,407.95 507.44,407.57 508.23,405.44 508.91,405.70 509.59,404.64 510.15,405.63 510.38,405.69 511.17,404.89 512.19,401.20 512.41,401.02 513.32,403.35 513.54,403.46 514.11,403.19 514.67,404.29 515.24,403.10 515.80,403.70 516.26,402.43 516.59,403.24 517.27,402.44 517.73,403.24 518.06,403.02 518.52,404.48 518.63,404.58 519.08,404.14 519.53,405.01 519.87,404.72 520.21,405.01 521.12,403.96 521.68,404.66 522.13,405.78 522.59,405.64 522.81,405.81 523.49,407.49 523.94,407.67 524.39,408.40 524.73,408.13 525.41,409.80 525.86,409.55 526.32,410.07 526.77,410.20 527.11,411.04 527.45,411.07 528.01,411.99 528.46,413.24 528.69,413.34 529.14,412.37 529.48,412.24 530.16,414.64 530.39,414.61 530.84,414.06 531.97,416.99 532.20,417.17 532.65,417.02 533.21,418.28 533.55,418.15 533.89,418.36 534.46,420.53 535.13,421.10 535.93,423.62 536.15,423.64 536.49,422.94 536.94,423.59 537.28,423.42 537.85,423.95 538.30,423.62 538.98,425.98 539.43,425.46 539.88,427.00 540.22,427.09 540.79,429.30 541.24,429.71 541.58,429.64 542.03,429.88 542.48,430.59 542.94,430.26 543.84,433.76 544.29,433.79 544.74,432.90 545.08,432.80 546.33,435.57 547.46,435.41 548.14,436.99 548.59,436.17 548.93,436.40 549.61,438.79 550.28,437.75 550.51,437.79 550.85,438.43 551.07,438.36 551.19,438.54 551.64,440.65 551.75,440.78 552.09,440.61 553.11,442.43 553.56,442.56 554.01,443.82 554.47,443.21 555.03,443.18 555.48,444.16 555.60,444.10 556.16,442.29 556.73,443.80 557.18,443.50 557.63,444.77 557.86,444.81 557.97,444.63 558.42,442.85 558.99,445.37 559.55,444.02 560.34,445.33 561.36,443.64 561.93,443.71 562.38,443.10 562.95,444.42 563.17,444.57 563.51,444.33 563.85,444.39 564.19,443.82 564.64,443.75 565.09,442.80 565.66,443.55 566.00,443.60 566.56,442.39 567.13,443.65 567.58,442.84 567.69,442.91 568.26,444.58 569.28,441.99 569.73,443.15 570.41,442.13 570.86,442.40 571.42,441.92 571.88,442.35 573.01,440.30 573.57,439.85 573.91,440.41 574.02,440.28 574.36,438.94 575.04,440.94 575.61,439.78 575.95,439.88 576.51,438.50 576.85,438.70 577.30,438.61 577.75,439.81 578.43,440.79 579.11,438.75 579.45,438.94 579.90,438.27 580.24,438.55 580.58,438.19 581.03,438.68 581.71,437.70 582.05,438.34 582.73,436.49 583.07,436.71 583.52,438.37 583.63,438.27 584.09,435.85 584.88,437.88 585.89,437.57 586.35,437.83 586.80,437.11 587.25,437.41 587.93,435.87 588.49,437.29 589.06,437.36 589.85,435.40 590.53,437.44 590.98,436.40 591.21,436.27 591.89,437.49 592.34,437.20 592.79,437.65 593.47,436.32 594.15,436.51 594.71,435.15 595.39,436.90 595.73,436.85 595.96,437.11 596.52,439.07 596.97,438.39 597.31,438.40 597.65,437.37 598.10,438.56 598.44,438.09 598.78,438.43 598.89,438.35 599.23,437.34 599.57,437.98 600.70,438.45 601.04,439.16 601.50,441.12 602.17,439.19 602.51,439.79 603.08,440.14 603.30,440.17 603.76,439.59 604.10,439.94 604.43,439.74 605.23,440.80 605.68,440.62 606.02,441.00 606.58,439.85 607.03,441.47 607.15,441.53 607.49,440.84 607.60,440.93 608.17,443.17 608.73,441.63 609.30,440.70 610.43,442.53 610.99,442.77 611.44,442.43" stroke="#fdbd84" stroke-width="1.80"/><path d="M393.03,528.30 396.20,528.16 396.76,527.81 397.10,526.74 397.78,522.63 398.12,519.10 398.91,504.23 400.04,470.45 400.83,428.46 401.74,318.08 403.09,290.41 414.96,290.41 415.08,290.69 417.00,325.73 419.26,388.77 420.16,405.66 420.73,409.69 421.86,415.06 422.42,418.84 422.88,419.38 423.67,422.54 424.23,423.87 424.68,424.32 425.93,428.90 426.49,428.10 426.95,429.21 428.08,430.56 428.75,429.58 429.21,429.37 429.55,429.65 429.77,429.56 430.79,427.98 431.35,428.37 431.81,427.47 432.26,428.00 432.82,426.29 433.39,426.81 433.95,425.44 434.41,425.48 435.54,423.56 436.22,421.94 436.67,423.05 436.89,423.06 438.48,419.51 438.59,419.33 438.93,419.44 439.38,417.94 439.83,417.58 440.62,415.66 443.00,411.55 443.56,409.17 444.02,409.09 444.47,407.33 444.69,407.47 445.03,408.39 445.15,408.55 445.26,408.41 446.05,404.58 446.16,404.41 446.39,404.52 446.73,403.97 447.07,403.97 447.52,403.35 448.20,400.59 448.65,400.85 448.99,400.22 449.33,400.23 449.67,399.35 450.01,399.33 451.03,397.75 451.36,397.97 452.16,395.50 452.27,395.33 452.61,395.49 453.06,394.18 453.74,395.28 454.08,394.57 454.53,394.12 454.98,392.75 455.43,392.81 455.77,391.90 456.68,393.10 457.47,390.41 457.70,390.38 458.03,390.79 458.49,390.01 458.94,390.56 459.50,390.02 460.07,390.85 460.63,390.36 461.09,390.81 461.43,390.35 461.88,391.19 462.33,390.41 463.01,392.96 463.69,393.04 464.03,392.83 464.70,395.05 465.61,395.50 466.29,397.27 466.51,397.34 466.85,396.90 466.97,396.97 467.53,398.16 468.21,400.72 468.66,400.97 469.11,402.61 469.45,402.46 469.57,402.74 470.47,406.47 470.58,406.70 471.04,406.52 471.49,407.88 471.83,408.00 472.84,411.47 473.52,412.29 474.09,414.35 474.43,414.39 474.65,414.67 475.11,416.99 475.56,418.00 476.01,420.02 476.24,420.35 476.69,420.39 477.82,423.80 478.27,424.54 478.72,424.70 479.17,426.51 479.63,426.90 479.85,427.41 481.21,431.60 481.89,432.16 482.34,433.98 483.02,433.60 484.04,435.75 484.49,435.67 485.51,437.63 486.18,437.32 486.75,438.82 487.09,438.75 487.88,439.19 488.45,438.44 489.12,439.33 489.58,439.03 490.03,439.25 490.59,437.96 490.93,438.00 491.38,437.68 491.84,437.79 492.18,437.53 492.51,437.77 492.97,437.00 493.76,436.60 494.21,436.02 494.89,435.79 495.45,435.88 496.02,433.95 496.58,432.98 497.04,432.46 497.83,433.33 498.85,430.23 499.07,430.10 499.41,430.63 500.09,429.98 500.54,428.24 500.65,428.13 500.99,428.61 501.11,428.55 501.67,427.52 502.24,425.55 502.80,426.22 503.25,425.04 504.16,424.16 504.61,424.25 505.40,422.79 505.85,422.66 506.19,421.80 506.31,421.73 506.76,422.46 507.10,421.44 507.66,420.76 508.34,418.79 508.57,418.80 509.02,419.63 509.25,419.63 510.15,418.39 510.49,417.44 510.60,417.32 511.06,417.57 511.62,416.44 512.19,417.42 513.43,416.55 513.77,416.77 514.11,416.71 514.56,417.33 515.35,415.87 515.92,416.97 516.48,417.59 516.93,416.67 517.39,416.99 517.84,416.36 518.18,416.68 518.63,415.82 519.42,417.07 519.87,416.99 520.44,417.44 521.46,416.60 522.25,417.40 522.81,418.96 523.38,417.73 523.94,418.31 524.51,419.93 524.96,420.59 525.41,420.55 526.09,419.76 526.43,420.26 526.88,420.24 527.67,421.89 528.24,420.87 529.37,423.57 529.82,423.37 530.61,424.50 531.29,423.56 531.74,423.76 532.76,425.96 534.12,426.51 535.13,428.34 535.47,428.27 536.04,428.99 536.83,428.91 537.51,430.15 537.85,430.04 538.19,430.47 538.64,430.33 539.32,431.83 539.66,431.87 540.11,433.22 540.90,432.56 541.47,434.54 541.58,434.60 541.92,434.03 543.50,436.66 544.40,435.70 545.08,436.91 545.65,436.91 546.55,437.35 547.00,438.95 547.57,438.20 548.02,438.67 548.36,438.73 548.70,439.52 549.15,439.61 550.17,441.29 550.62,440.84 550.96,441.12 551.53,440.95 552.32,443.11 552.77,443.25 553.22,443.89 553.79,443.97 554.13,443.49 554.69,444.76 555.14,444.45 555.60,445.28 556.39,445.32 556.84,445.80 557.07,445.65 557.41,444.82 557.63,444.79 559.21,445.95 559.67,446.87 560.12,447.20 561.02,445.53 561.70,445.91 562.04,446.38 563.40,444.84 563.85,445.81 564.30,446.07 564.87,447.70 565.66,446.23 566.22,446.39 566.68,447.35 567.47,445.33 568.15,447.13 568.71,444.79 569.16,446.15 569.61,446.25 570.18,447.15 570.63,446.18 571.08,446.25 571.54,445.53 571.88,445.89 572.33,445.55 572.78,446.32 573.23,446.10 573.68,446.33 573.91,446.10 574.36,444.50 574.93,445.60 575.49,445.92 575.83,445.75 576.28,444.69 576.85,446.09 577.19,445.28 577.53,445.15 578.09,443.98 578.55,444.75 578.89,444.76 579.34,445.76 580.02,444.31 580.35,444.90 580.69,444.45 581.15,444.85 581.49,444.57 581.94,445.42 582.50,444.61 583.29,445.06 583.86,444.34 584.54,444.47 585.10,443.88 585.56,445.18 586.01,444.33 586.23,444.35 586.57,444.80 587.14,444.49 588.04,443.57 588.49,444.02 589.17,443.66 589.62,444.79 589.74,444.90 590.08,444.70 590.42,445.15 591.32,444.35 592.22,444.51 592.68,442.87 593.36,445.67 594.03,443.83 594.37,443.77 594.83,444.64 595.28,444.55 595.84,445.36 596.18,445.03 596.63,443.85 596.97,443.64 598.10,446.21 598.78,444.25 599.12,444.74 599.46,444.68 599.80,445.60 600.14,445.61 600.48,446.09 601.04,445.35 601.50,445.82 601.95,445.05 602.40,445.36 603.08,444.72 603.42,445.20 603.87,445.06 604.43,445.46 604.89,446.39 605.34,445.26 606.02,447.48 606.70,446.17 607.15,444.41 608.28,448.06 608.84,446.21 609.30,446.49 609.86,447.56 610.31,446.41 610.65,446.07 611.22,446.66 611.44,446.50" stroke="#fdab67" stroke-width="1.80"/><path d="M393.03,528.30 396.20,528.22 396.87,527.88 397.21,526.96 398.23,519.77 399.02,505.46 400.04,476.00 400.83,436.20 401.28,405.00 401.96,320.45 403.32,290.41 414.51,290.41 416.55,328.54 418.47,382.55 419.48,404.33 420.16,409.92 421.63,418.26 424.12,428.00 424.91,429.90 425.36,430.46 425.93,432.59 426.49,432.28 426.83,431.82 427.17,432.34 427.51,432.50 427.96,433.48 428.53,432.62 429.09,433.46 429.77,432.47 430.22,432.55 430.79,431.13 431.35,431.45 432.26,430.67 432.82,430.89 433.62,429.54 434.29,429.17 434.86,427.96 436.10,427.13 437.46,424.10 439.49,421.44 440.17,420.16 441.64,416.58 442.09,416.42 442.89,413.88 443.68,413.89 445.71,408.99 445.83,408.86 446.28,409.00 446.96,407.14 447.63,406.88 448.09,405.64 448.54,405.39 449.10,402.93 449.44,402.08 449.56,401.99 449.90,402.33 450.01,402.12 450.46,400.21 450.57,400.09 450.91,400.27 451.70,400.01 452.16,398.94 452.61,398.36 453.17,398.20 454.08,395.86 454.53,395.99 455.55,395.59 456.23,394.17 456.56,394.43 457.02,393.77 457.47,394.02 457.92,393.91 458.71,392.73 459.62,393.49 460.18,392.56 460.97,394.48 461.20,394.53 461.65,393.96 462.78,394.34 463.23,395.14 463.69,395.33 464.82,396.97 465.38,398.29 465.95,398.57 466.51,400.57 467.42,401.26 468.55,404.41 469.11,405.48 469.57,405.71 471.26,410.37 471.71,410.71 471.94,411.22 472.73,414.18 473.30,414.07 473.97,417.38 474.43,417.69 474.99,418.67 476.12,422.45 476.80,423.22 477.37,425.60 477.93,425.62 479.63,430.01 480.19,430.71 481.10,433.33 482.34,435.74 483.24,436.90 483.58,436.99 484.60,437.97 485.17,439.25 485.73,438.24 485.96,438.27 486.64,440.46 487.31,440.14 487.88,440.78 488.45,440.65 489.12,440.98 490.14,440.00 490.59,440.35 491.27,440.04 491.95,440.77 492.74,438.42 493.19,438.77 493.65,438.65 494.32,437.54 494.78,438.01 495.79,436.81 496.25,436.87 496.92,435.61 497.38,435.50 498.17,433.72 498.85,433.34 499.75,431.75 500.65,431.58 501.22,430.85 501.56,431.04 502.35,428.02 503.03,428.52 504.27,426.19 504.72,426.53 504.95,426.45 505.63,424.70 506.19,424.23 506.87,422.98 507.32,423.67 507.44,423.59 508.45,421.22 508.68,421.14 509.25,422.05 509.59,422.22 510.04,421.20 510.83,420.52 511.39,419.15 512.07,419.13 512.41,419.41 513.32,418.82 513.88,419.32 514.45,418.40 514.90,418.13 515.46,419.34 516.48,417.55 517.16,419.01 517.61,418.72 518.06,419.08 518.63,418.77 519.08,419.35 520.10,420.03 520.66,419.44 521.12,420.61 521.68,419.79 522.36,419.94 523.15,421.27 523.72,420.65 524.39,422.09 525.41,421.95 526.09,422.55 526.54,423.36 527.00,422.72 527.56,423.01 528.13,424.04 528.92,423.84 529.71,425.64 530.05,425.65 530.61,425.31 531.29,426.80 531.52,426.87 531.86,426.65 533.10,428.54 533.55,428.63 533.89,428.49 534.23,428.68 534.57,428.48 535.47,430.48 535.70,430.45 536.04,429.85 536.72,431.41 537.17,431.14 538.07,431.94 538.53,431.88 538.98,433.37 539.66,434.09 540.11,433.91 541.13,434.69 541.47,434.69 542.03,435.24 542.60,436.43 543.05,436.35 543.61,437.39 544.18,436.86 545.08,439.03 545.87,439.34 546.33,440.15 547.23,439.45 547.80,440.23 548.25,441.58 548.70,442.31 549.15,442.26 549.49,442.64 550.06,441.39 550.40,441.84 550.85,443.14 551.64,443.74 552.21,443.42 552.77,444.24 553.79,444.94 554.35,444.71 554.81,445.42 555.60,445.16 556.50,445.99 557.07,447.18 558.31,446.28 558.88,447.30 558.99,447.39 559.55,446.98 560.01,447.59 560.46,447.75 560.80,448.45 561.70,447.38 562.49,448.32 563.06,447.57 563.62,448.10 564.08,447.27 564.53,447.93 564.98,447.68 565.32,448.40 566.00,447.37 566.56,448.22 567.01,447.49 567.47,447.91 568.03,447.10 568.48,448.08 568.94,447.15 569.61,447.80 570.29,447.31 570.75,447.93 571.08,447.70 571.42,447.72 571.88,447.30 572.22,447.53 572.89,447.61 573.68,447.15 574.14,446.32 574.36,446.22 574.93,446.93 575.49,446.81 575.83,447.27 576.40,445.99 576.96,447.15 577.75,446.19 578.21,446.82 578.66,446.60 579.22,447.09 579.79,445.81 580.35,446.91 581.03,446.04 581.49,446.07 581.94,445.33 582.50,447.27 583.07,446.55 583.52,446.48 583.86,446.04 584.20,446.26 584.65,445.74 585.10,446.62 585.67,445.56 586.12,446.58 586.57,445.39 587.14,445.67 587.93,445.52 588.38,446.45 589.29,445.45 589.62,445.96 589.85,445.98 590.42,444.87 591.21,445.30 591.89,446.64 592.45,445.85 592.79,445.96 593.36,445.72 593.69,445.97 594.15,445.64 595.16,446.33 596.41,444.41 597.09,446.41 597.54,446.43 597.99,446.90 598.89,446.73 599.69,445.96 600.25,446.75 600.59,446.22 601.50,446.52 601.95,445.96 602.29,446.19 602.85,447.46 603.87,446.22 604.43,447.10 604.77,447.12 605.11,447.52 605.79,446.75 606.47,447.43 606.92,446.85 607.37,447.82 607.83,447.48 608.28,448.49 608.84,447.96 609.41,448.37 609.97,447.38 610.54,447.81 610.88,447.61 611.22,448.19 611.44,448.25" stroke="#fd994d" stroke-width="1.80"/><path d="M393.03,528.30 396.31,528.23 396.99,527.94 397.33,527.16 398.34,520.39 399.14,506.67 400.15,477.44 400.94,436.84 401.51,397.51 402.19,323.70 403.54,290.41 413.95,290.41 414.06,290.84 415.87,326.06 418.01,385.27 419.03,405.56 419.60,410.11 421.07,418.64 422.08,423.28 422.76,425.39 424.01,431.59 424.57,433.06 425.70,434.70 426.72,437.51 427.29,438.09 427.51,437.93 427.96,436.75 428.64,437.41 429.21,436.38 429.43,436.49 430.00,437.48 430.22,437.42 430.90,436.15 431.35,435.98 431.81,435.49 432.37,435.56 432.60,435.40 433.39,433.32 433.84,433.89 434.07,433.82 434.63,431.89 435.20,431.07 435.65,431.62 435.88,431.61 436.56,429.64 437.23,428.80 437.91,426.47 438.02,426.30 438.36,426.59 438.59,426.46 439.49,424.26 440.06,423.74 440.51,422.56 441.76,420.54 442.43,418.54 443.11,417.92 443.45,417.31 444.24,415.61 444.81,413.67 445.15,413.52 445.49,412.73 445.94,412.71 446.50,411.19 446.96,410.69 447.52,408.74 448.65,407.16 449.67,405.23 450.35,404.45 451.03,402.50 452.38,401.36 453.51,398.76 453.96,398.76 454.64,397.21 454.87,397.06 455.77,397.71 456.68,395.53 457.36,396.02 458.26,395.49 459.05,395.49 459.39,395.22 459.96,396.08 460.75,394.56 461.31,395.73 461.99,395.42 463.23,397.67 463.91,398.24 464.37,398.28 465.16,399.79 465.95,402.00 466.29,402.02 467.08,402.99 467.98,405.93 468.32,405.27 468.55,405.30 469.23,407.80 469.90,408.42 470.47,409.63 471.83,414.20 473.64,417.59 474.31,420.49 474.99,422.18 476.46,424.02 477.03,426.13 478.38,429.76 479.29,431.53 479.74,432.91 481.10,434.92 481.44,436.00 482.00,436.41 482.57,438.44 483.24,438.76 483.70,438.76 484.15,440.14 485.62,441.91 486.18,441.77 486.75,442.84 487.31,442.40 487.65,442.43 488.22,443.49 488.67,442.98 489.24,443.51 489.80,442.38 490.59,443.48 491.50,441.53 492.06,442.45 492.63,441.48 493.08,441.88 493.53,440.88 493.98,440.64 494.66,439.70 495.68,439.29 496.47,437.88 497.04,437.47 497.38,437.75 497.83,436.56 498.39,436.27 498.85,435.12 499.18,435.20 499.52,434.88 499.98,435.02 500.77,432.80 500.99,432.76 501.33,433.22 501.90,431.40 502.01,431.30 502.46,431.54 502.80,431.30 503.59,429.00 503.93,428.75 504.27,428.84 504.72,428.12 505.06,428.05 505.40,427.70 505.85,427.68 506.42,426.63 506.87,426.73 507.66,425.15 508.12,424.94 508.57,425.10 509.02,424.19 509.59,424.07 510.04,423.29 510.49,422.95 510.83,422.17 511.06,422.13 511.51,422.61 512.52,421.24 512.86,421.09 513.77,421.73 514.33,421.34 514.90,421.34 515.46,422.41 515.92,421.65 516.48,421.64 516.82,420.80 517.27,421.56 517.61,421.55 518.06,422.11 518.74,422.34 519.31,421.88 519.65,421.88 520.21,422.47 520.55,422.03 521.23,423.12 521.79,422.56 522.36,423.40 523.83,423.56 524.62,424.92 525.07,425.24 525.98,424.42 526.54,425.14 527.00,424.98 527.45,425.70 527.79,425.28 528.24,426.63 528.58,426.78 529.14,427.62 529.71,427.86 530.27,427.67 531.29,428.32 531.97,429.13 532.42,429.03 532.99,430.68 533.55,430.77 534.12,430.58 534.80,431.56 535.25,431.91 536.27,434.24 536.49,434.11 536.94,433.13 537.17,433.12 537.73,433.61 538.75,435.49 539.20,435.22 539.43,435.37 540.79,437.67 541.13,437.82 541.69,437.18 542.26,438.55 542.82,439.01 543.39,438.54 543.84,439.46 544.52,440.19 545.08,439.57 545.54,441.20 546.10,441.15 546.67,442.32 547.91,442.33 548.14,442.54 548.81,444.48 549.27,444.48 549.83,444.84 550.28,444.09 550.85,445.56 551.53,446.25 552.43,445.51 552.77,446.01 553.11,445.97 553.67,446.98 554.47,447.77 554.92,447.64 555.48,447.01 556.16,447.78 556.61,447.98 557.07,449.02 557.52,448.74 558.08,449.37 558.54,448.95 559.10,449.73 560.01,449.26 560.46,449.62 560.80,449.52 561.25,450.12 561.59,449.86 562.72,450.64 563.40,449.89 563.96,450.21 564.53,449.14 565.09,450.82 565.66,449.26 566.11,449.50 566.68,450.30 567.69,449.45 568.82,450.29 569.39,449.04 569.95,449.71 570.63,449.15 571.08,449.57 571.54,449.18 572.44,449.11 572.89,449.54 573.35,449.60 574.59,448.90 575.27,449.12 575.72,448.71 576.06,448.88 576.51,448.69 577.08,448.89 577.53,448.06 578.21,447.62 579.11,448.31 579.56,448.25 580.02,448.57 580.69,447.23 581.37,448.25 582.05,447.87 582.50,447.92 582.95,447.00 583.63,447.42 584.20,448.28 584.76,447.95 585.22,447.35 585.67,448.05 586.12,447.66 587.36,447.98 587.82,447.77 588.38,448.08 588.83,447.06 589.40,448.08 589.85,448.00 590.30,447.58 590.87,448.15 591.21,447.88 591.77,446.80 592.11,447.51 592.45,447.66 593.36,448.71 594.15,447.71 594.60,447.79 594.94,448.20 595.84,447.63 596.29,448.73 596.52,448.88 597.54,447.60 597.76,447.74 598.33,448.91 598.89,448.78 599.23,448.31 599.80,448.57 600.25,447.97 601.38,449.31 602.06,448.61 602.96,449.16 603.42,448.91 603.98,449.61 604.55,448.73 605.11,449.97 605.56,449.31 606.02,449.30 606.58,448.75 607.60,450.39 608.05,449.94 608.50,450.18 608.84,449.92 609.30,450.20 609.86,449.75 610.77,450.48 611.44,450.16" stroke="#fb8635" stroke-width="1.80"/><path d="M393.03,528.30 396.42,528.25 397.21,527.87 397.44,527.34 398.46,520.96 399.25,507.85 400.15,483.46 400.83,451.08 401.62,400.80 402.53,320.70 403.88,290.41 413.49,290.41 415.30,326.08 417.56,387.66 418.58,406.58 420.62,421.66 422.65,433.28 423.89,438.21 425.36,442.99 425.59,443.44 426.04,443.75 427.17,446.11 427.74,445.87 428.42,446.11 429.09,445.01 430.00,445.64 430.79,445.03 431.69,444.70 432.60,443.35 433.28,443.67 433.84,443.07 434.41,443.20 434.97,442.42 435.99,441.77 437.12,440.27 438.02,439.68 438.93,438.55 439.49,438.53 439.95,437.40 440.62,437.13 442.09,434.40 442.21,434.29 442.66,434.46 443.34,433.75 444.69,431.18 445.26,430.61 445.83,430.66 446.39,429.22 446.84,428.96 447.29,427.90 447.86,427.42 448.65,427.13 450.01,424.98 450.91,425.28 451.48,424.00 451.82,423.70 452.27,423.61 452.95,423.01 453.40,422.26 453.96,422.32 455.32,420.65 456.00,420.45 456.45,420.89 456.90,420.34 457.47,420.48 457.92,420.18 458.49,419.40 459.05,420.01 460.07,420.05 460.63,419.79 461.54,420.33 461.99,419.90 462.22,419.93 462.78,420.95 463.23,420.97 464.48,421.80 466.06,423.91 466.74,424.15 467.42,425.51 468.44,426.30 469.45,428.54 470.24,429.38 470.70,430.32 471.60,430.62 472.62,433.36 473.18,433.95 473.86,435.32 474.65,436.09 475.67,438.32 476.35,438.59 477.71,441.48 478.61,442.91 479.17,443.14 479.63,444.23 480.08,444.51 481.10,446.53 481.78,446.82 482.34,447.84 482.91,448.07 483.70,449.41 484.26,449.48 484.60,449.95 485.05,449.84 485.62,450.75 487.09,450.80 487.65,451.34 488.22,451.12 488.90,451.68 489.35,451.54 490.03,450.74 491.50,451.22 492.18,450.79 492.51,450.13 493.08,450.49 493.76,449.67 494.44,449.49 494.89,449.04 495.34,449.19 496.02,447.79 496.47,448.25 497.04,447.96 497.38,447.53 497.83,447.66 498.96,445.80 499.41,445.89 499.98,445.25 500.43,445.33 500.88,444.53 501.22,444.40 502.24,443.16 502.69,443.17 503.71,442.04 505.06,441.40 505.52,440.77 505.85,440.68 506.53,439.97 507.10,439.90 507.78,439.48 508.34,438.66 509.36,438.36 509.92,437.39 510.83,438.17 512.30,436.83 512.98,436.67 513.66,437.18 514.33,436.54 515.12,436.73 515.80,436.40 517.27,437.05 517.73,436.74 518.06,436.95 518.74,436.78 519.08,436.44 519.65,437.21 520.10,437.23 520.55,437.62 521.68,437.07 522.25,437.35 522.70,437.90 523.49,437.67 524.51,438.48 525.41,438.04 525.98,438.77 526.77,438.40 527.33,439.34 527.79,439.13 528.13,439.42 528.46,439.30 528.92,439.72 529.37,439.60 529.93,440.12 530.27,440.01 530.84,440.74 531.52,440.32 531.97,440.65 532.31,440.64 532.87,441.50 533.44,441.21 534.23,442.53 534.68,442.11 535.70,442.16 536.27,442.89 536.83,442.85 537.40,443.38 538.30,443.57 539.09,444.46 539.77,444.42 540.22,444.75 540.67,444.31 541.69,445.49 542.37,444.95 543.39,446.47 543.95,446.42 544.97,446.95 545.54,446.58 545.99,447.39 546.67,447.38 547.57,448.55 548.47,448.34 549.15,447.47 549.72,448.46 550.96,448.81 551.53,449.77 552.09,449.19 552.66,449.66 553.45,449.15 554.24,450.14 554.47,450.17 554.92,449.73 555.60,451.00 556.16,450.96 556.61,451.20 557.18,451.02 557.63,450.38 558.54,451.27 559.33,451.39 560.01,451.26 560.34,451.49 560.91,451.17 561.81,451.46 562.27,451.05 562.72,451.30 563.17,451.09 563.96,451.56 564.75,450.92 565.32,450.98 565.77,450.72 566.34,451.62 566.68,451.84 567.35,451.37 567.81,451.51 568.48,450.53 569.84,450.86 570.29,451.27 570.97,450.63 571.99,451.12 572.33,450.59 573.35,450.00 574.02,450.80 574.48,450.50 574.93,450.64 575.61,449.92 576.17,450.51 576.74,450.40 577.30,450.56 579.90,449.59 580.58,449.66 581.15,450.00 581.82,448.74 582.73,449.73 582.95,449.73 583.41,449.21 584.20,449.93 585.33,448.79 586.46,449.04 586.91,448.61 587.82,449.75 588.38,449.02 588.72,448.97 589.29,449.28 589.74,448.98 590.76,449.21 591.09,448.95 591.77,448.84 592.56,448.99 593.02,448.75 593.47,449.07 593.92,448.80 594.49,449.39 595.39,449.09 596.07,449.85 596.52,449.61 598.10,449.95 598.56,449.82 599.35,450.31 599.91,449.15 600.93,450.45 601.38,450.02 601.72,450.28 602.17,450.11 602.51,450.61 602.96,450.19 603.53,450.10 604.43,450.77 605.11,450.36 605.79,450.58 606.24,450.32 606.70,450.80 607.15,450.69 607.60,450.99 608.05,450.78 608.62,451.28 609.52,451.53 610.43,450.72 610.99,451.61 611.44,451.61" stroke="#f4731e" stroke-width="1.80"/><path d="M393.03,528.30 396.42,528.28 397.33,527.93 397.55,527.50 398.57,521.49 399.36,509.00 400.27,485.18 400.83,458.79 402.75,323.52 404.00,290.41 412.02,290.51 413.72,329.68 415.87,390.00 416.66,406.28 419.15,439.31 421.18,461.22 422.99,474.51 423.89,478.34 424.68,479.90 425.25,480.01 426.27,479.78 428.08,478.67 429.89,476.78 431.81,474.03 433.84,470.42 436.10,465.76 445.26,444.20 449.22,435.98 451.36,432.41 453.29,429.93 455.21,428.27 457.02,427.58 458.71,427.70 460.41,428.34 462.22,429.53 464.14,431.27 468.21,436.22 476.80,448.93 480.42,453.69 482.45,455.87 484.26,457.40 485.96,458.41 487.65,458.95 489.01,459.02 490.59,458.73 492.18,458.13 493.87,457.18 497.49,454.35 505.06,447.00 508.23,444.31 511.62,442.27 513.20,441.74 514.67,441.54 520.10,441.97 526.09,443.35 532.31,445.46 549.27,452.10 554.35,453.61 558.99,454.52 562.61,454.82 566.90,454.73 582.95,453.03 589.29,452.74 596.63,453.14 611.44,454.83" stroke="#ea600e" stroke-width="1.80"/><path d="M393.03,528.30 396.65,528.27 397.44,527.96 397.78,527.30 398.80,520.86 399.59,507.71 400.38,486.91 400.83,466.69 402.98,326.21 404.22,290.41 411.46,290.41 413.27,332.09 415.30,385.36 416.43,407.20 419.03,439.27 421.07,459.72 422.08,467.57 422.99,472.87 423.89,476.39 424.68,477.81 425.14,477.92 426.15,477.73 427.96,476.73 429.77,474.97 431.69,472.39 433.73,469.01 435.88,464.87 444.69,445.52 448.54,438.07 450.69,434.74 452.61,432.45 454.42,431.01 456.23,430.37 457.92,430.49 459.73,431.13 461.65,432.30 463.57,433.92 467.76,438.57 476.35,450.13 480.08,454.62 482.11,456.63 484.04,458.13 485.84,459.13 487.54,459.65 488.90,459.73 490.48,459.50 492.18,458.94 493.87,458.10 497.49,455.61 505.06,449.15 508.23,446.77 511.62,444.98 513.09,444.54 514.56,444.35 519.99,444.69 526.09,445.86 532.31,447.64 549.27,453.23 554.35,454.50 558.99,455.27 562.83,455.53 567.13,455.42 582.84,453.74 589.17,453.44 596.52,453.83 611.44,455.53" stroke="#dd4e04" stroke-width="1.80"/><path d="M393.03,528.30 396.76,528.28 397.67,527.92 397.89,527.47 398.91,521.39 399.70,508.86 400.49,488.57 400.83,474.54 403.21,328.78 404.45,290.41 410.89,290.41 411.01,290.95 414.62,383.19 415.75,405.68 418.35,436.31 420.50,456.74 421.52,464.20 422.54,469.92 423.44,473.33 424.35,474.99 424.68,475.13 425.70,475.00 427.51,474.16 429.32,472.65 431.24,470.39 433.28,467.40 435.42,463.73 444.24,446.52 448.09,439.90 450.12,437.08 452.04,435.03 453.85,433.74 455.66,433.17 457.36,433.27 459.17,433.85 461.09,434.90 463.12,436.45 467.42,440.82 476.24,451.64 479.97,455.72 482.00,457.55 483.92,458.93 485.73,459.85 487.54,460.35 489.01,460.42 490.59,460.18 493.87,458.87 497.49,456.50 505.06,450.33 508.23,448.06 511.62,446.35 514.56,445.74 519.99,446.07 526.09,447.17 532.31,448.83 549.27,454.07 554.35,455.27 558.99,455.98 562.83,456.23 567.13,456.12 582.84,454.43 589.17,454.14 596.52,454.53 611.44,456.23" stroke="#c64102" stroke-width="1.80"/><path d="M393.03,528.30 396.87,528.29 397.78,527.96 398.01,527.61 399.02,521.87 399.81,509.97 400.83,481.92 403.32,336.65 404.68,290.41 410.44,290.41 414.06,379.43 415.41,405.08 418.01,434.10 420.28,454.50 422.20,466.38 423.10,469.74 424.01,471.45 424.35,471.62 425.36,471.52 427.17,470.80 428.98,469.45 430.90,467.45 432.82,464.96 434.97,461.72 443.68,446.72 447.41,441.06 449.44,438.59 451.36,436.80 453.17,435.70 454.87,435.26 456.68,435.39 458.49,435.93 460.41,436.89 462.44,438.29 466.85,442.31 475.90,452.30 479.74,456.08 481.89,457.81 483.81,459.05 485.73,459.92 487.54,460.36 489.01,460.42 490.59,460.21 493.87,459.02 497.49,456.87 505.06,451.29 508.23,449.24 511.62,447.69 514.56,447.14 519.99,447.44 526.09,448.47 532.31,450.02 549.27,454.92 554.35,456.03 558.99,456.70 562.83,456.93 567.13,456.82 582.84,455.13 589.17,454.84 596.52,455.23 611.44,456.93" stroke="#ab3803" stroke-width="1.80"/><path d="M393.03,528.30 396.99,528.29 397.78,528.05 398.12,527.73 398.68,525.36 399.25,521.29 399.93,511.05 400.94,483.95 403.32,349.32 404.90,290.41 410.21,290.41 413.72,378.45 415.19,405.89 417.79,433.93 419.94,452.66 420.95,459.51 421.97,464.75 422.88,467.88 423.78,469.40 424.12,469.53 425.14,469.42 426.83,468.80 428.64,467.58 430.45,465.89 432.37,463.65 434.52,460.73 443.00,447.56 446.73,442.46 448.76,440.24 450.57,438.73 452.38,437.74 454.08,437.35 455.89,437.48 457.70,437.98 459.62,438.86 461.77,440.21 466.29,444.01 475.56,453.43 479.51,457.02 481.66,458.62 483.70,459.83 485.62,460.63 487.43,461.06 488.90,461.13 490.48,460.93 493.87,459.72 497.49,457.57 505.06,451.99 508.23,449.94 511.62,448.39 514.56,447.84 519.99,448.14 526.09,449.17 532.31,450.72 549.27,455.62 554.35,456.73 558.99,457.40 562.83,457.63 567.13,457.51 582.84,455.83 589.17,455.54 596.52,455.93 611.44,457.63" stroke="#942f03" stroke-width="1.80"/><path d="M393.03,528.30 397.21,528.28 398.12,527.95 398.34,527.58 399.36,521.78 400.04,512.09 401.17,481.05 403.09,371.20 405.13,290.41 409.88,290.41 409.99,291.14 413.27,374.96 414.85,405.25 417.45,432.10 419.71,450.75 420.73,457.23 421.75,462.27 422.76,465.69 423.67,467.23 424.01,467.42 424.80,467.39 426.61,466.87 428.30,465.91 430.11,464.46 433.95,460.26 442.21,449.16 445.71,445.03 447.63,443.22 449.44,441.92 451.14,441.14 452.72,440.85 454.64,440.98 456.56,441.43 458.60,442.21 460.75,443.34 465.38,446.54 474.99,454.54 479.17,457.65 483.47,460.01 485.51,460.71 487.43,461.07 490.48,460.94 493.87,459.80 497.49,457.76 505.06,452.47 508.23,450.53 511.62,449.06 514.56,448.54 519.99,448.82 526.09,449.77 532.31,451.22 549.27,455.76 554.35,456.80 558.99,457.42 562.95,457.63 567.24,457.51 582.84,455.83 589.17,455.54 596.52,455.93 611.44,457.63" stroke="#7f2704" stroke-width="1.80"/><path d="M393.03,528.30 397.44,528.29 398.23,528.04 398.57,527.71 399.14,525.31 399.70,521.29 400.38,511.80 401.74,477.80 403.32,403.15 406.14,290.41 407.84,290.41 407.95,292.26 408.63,320.02 410.78,374.24 412.48,407.02 414.74,440.77 415.87,452.30 417.56,463.20 418.35,466.75 419.60,470.80 420.50,473.19 421.18,474.24 421.52,474.42 422.31,474.38 424.35,473.87 426.27,472.90 428.30,471.43 432.71,467.09 441.64,456.33 445.49,452.23 447.63,450.38 449.56,449.10 451.48,448.23 453.29,447.86 455.10,447.91 457.02,448.29 459.05,448.98 461.20,450.00 465.84,452.97 475.44,460.45 479.51,463.27 483.81,465.44 485.84,466.06 487.77,466.35 491.16,466.11 494.89,464.92 498.96,462.84 507.32,457.61 510.94,455.60 514.67,454.09 518.06,453.46 521.34,453.56 525.07,454.12 537.06,457.19 541.35,458.06 555.14,459.15 565.88,459.36 587.25,458.57 611.44,458.33" stroke="#7f7f7f" stroke-width="2.3" stroke-dasharray="7.4 3.2"/></g>

<g stroke="#262626" stroke-width="0.80" fill="none">
<path d="M385.50,318.40 V528.30 H611.50 V318.40 Z"/>
<path d="M385.40,528.30 v3.0"/>
<path d="M441.92,528.30 v3.0"/>
<path d="M498.45,528.30 v3.0"/>
<path d="M554.98,528.30 v3.0"/>
<path d="M611.50,528.30 v3.0"/>
<path d="M385.50,528.30 h-3.2"/>
<path d="M385.50,493.32 h-3.2"/>
<path d="M385.50,458.33 h-3.2"/>
<path d="M385.50,423.35 h-3.2"/>
<path d="M385.50,388.37 h-3.2"/>
<path d="M385.50,353.38 h-3.2"/>
<path d="M385.50,318.40 h-3.2"/>
</g>
<g font-size="14" fill="#1a1a1a">
<text x="385.40" y="543.70" text-anchor="middle" textLength="6.6" lengthAdjust="spacingAndGlyphs">2</text>
<text x="441.92" y="543.70" text-anchor="middle" textLength="6.6" lengthAdjust="spacingAndGlyphs">4</text>
<text x="498.45" y="543.70" text-anchor="middle" textLength="6.6" lengthAdjust="spacingAndGlyphs">6</text>
<text x="554.98" y="543.70" text-anchor="middle" textLength="6.6" lengthAdjust="spacingAndGlyphs">8</text>
<text x="611.50" y="543.70" text-anchor="middle" textLength="13.2" lengthAdjust="spacingAndGlyphs">10</text>
<text x="379.20" y="533.40" text-anchor="end" textLength="17.8" lengthAdjust="spacingAndGlyphs">0.0</text>
<text x="379.20" y="498.42" text-anchor="end" textLength="17.8" lengthAdjust="spacingAndGlyphs">0.5</text>
<text x="379.20" y="463.43" text-anchor="end" textLength="17.8" lengthAdjust="spacingAndGlyphs">1.0</text>
<text x="379.20" y="428.45" text-anchor="end" textLength="17.8" lengthAdjust="spacingAndGlyphs">1.5</text>
<text x="379.20" y="393.47" text-anchor="end" textLength="17.8" lengthAdjust="spacingAndGlyphs">2.0</text>
<text x="379.20" y="358.48" text-anchor="end" textLength="17.8" lengthAdjust="spacingAndGlyphs">2.5</text>
<text x="379.20" y="323.50" text-anchor="end" textLength="17.8" lengthAdjust="spacingAndGlyphs">3.0</text>
</g>
<text x="498.45" y="313.80" font-size="16.4" text-anchor="middle" fill="#111" textLength="68.2" lengthAdjust="spacingAndGlyphs">MOF-808</text>
<rect x="625.45" y="318.40" width="10.80" height="209.90" fill="url(#g3)" stroke="#262626" stroke-width="0.8"/>
<g stroke="#262626" stroke-width="0.8">
<path d="M636.25,528.30 h2.6"/>
<path d="M636.25,475.82 h2.6"/>
<path d="M636.25,423.35 h2.6"/>
<path d="M636.25,370.88 h2.6"/>
<path d="M636.25,318.40 h2.6"/>
</g><g font-size="13.9" fill="#1a1a1a">
<text x="641.55" y="533.80" textLength="21.0" lengthAdjust="spacingAndGlyphs">120</text>
<text x="641.55" y="481.32" textLength="21.0" lengthAdjust="spacingAndGlyphs">395</text>
<text x="641.55" y="428.85" textLength="21.0" lengthAdjust="spacingAndGlyphs">670</text>
<text x="641.55" y="376.38" textLength="21.0" lengthAdjust="spacingAndGlyphs">945</text>
<text x="641.55" y="323.90" textLength="28.0" lengthAdjust="spacingAndGlyphs">1220</text>
</g>
<text x="498.45" y="563.9" font-size="12.6" text-anchor="middle" fill="#1a1a1a" textLength="142.7" lengthAdjust="spacingAndGlyphs">Interatomic distance (Å)</text>
</svg></body></html>
